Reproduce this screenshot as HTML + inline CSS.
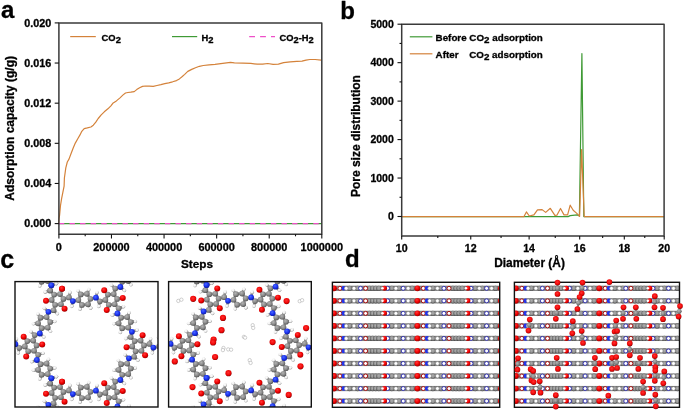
<!DOCTYPE html>
<html><head><meta charset="utf-8"><style>
html,body{margin:0;padding:0;background:#fff;}
svg{display:block;}
text{-webkit-font-smoothing:antialiased;}
</style></head><body>
<svg width="685" height="412" viewBox="0 0 685 412" style="will-change:transform">
<rect width="685" height="412" fill="#fff"/>
<g font-family="Liberation Sans, sans-serif" font-weight="bold" fill="#000" stroke="#000" stroke-width="0.3" stroke-linejoin="round">
<line x1="58.90" y1="223.60" x2="321.80" y2="223.60" stroke="#3f9a35" stroke-width="1.2" />
<line x1="58.90" y1="223.60" x2="321.80" y2="223.60" stroke="#ee4fc8" stroke-width="1.2" stroke-dasharray="5.4 5.2"/>
<polyline points="58.60,223.00 58.90,219.00 59.60,215.20 60.50,205.50 61.70,198.20 62.90,192.10 64.10,186.10 64.40,178.00 65.80,167.80 67.30,162.00 69.00,159.10 70.90,154.00 73.10,148.20 75.30,143.10 78.20,138.00 80.00,134.90 81.80,131.30 84.20,128.60 87.30,127.90 90.90,127.00 93.30,125.20 95.80,122.20 98.20,118.50 101.20,114.90 104.30,111.80 107.90,108.80 110.90,105.80 112.80,103.30 116.40,100.90 120.00,97.90 123.10,94.90 125.50,93.00 127.90,92.50 130.80,92.20 134.20,91.60 136.70,89.60 139.60,87.70 142.50,86.40 145.40,86.00 149.30,86.20 153.20,86.40 157.00,85.50 160.90,84.60 164.80,83.60 168.70,82.80 172.60,81.80 176.50,80.60 179.40,78.90 182.30,76.50 184.70,74.40 187.80,71.40 191.70,69.40 195.50,67.80 199.40,66.30 203.30,65.50 209.10,64.80 215.00,64.30 220.80,63.60 226.60,62.80 230.50,62.40 234.40,62.80 242.90,63.10 250.80,63.40 257.30,64.20 262.60,64.20 267.80,63.50 273.10,64.30 278.40,64.10 283.60,62.70 290.20,61.80 296.80,61.40 302.00,61.20 306.00,60.10 309.90,59.50 315.10,59.50 321.10,60.10" fill="none" stroke="#d4823a" stroke-width="1.2" stroke-linejoin="round" />
<rect x="58.9" y="22.9" width="262.90" height="211.40" fill="none" stroke="#3a3a3a" stroke-width="1.5"/>
<line x1="54.70" y1="223.60" x2="58.90" y2="223.60" stroke="#111" stroke-width="1.1" />
<text x="51.40" y="227.45" font-size="10.8" text-anchor="end" >0.000</text>
<line x1="54.70" y1="183.46" x2="58.90" y2="183.46" stroke="#111" stroke-width="1.1" />
<text x="51.40" y="187.31" font-size="10.8" text-anchor="end" >0.004</text>
<line x1="54.70" y1="143.32" x2="58.90" y2="143.32" stroke="#111" stroke-width="1.1" />
<text x="51.40" y="147.17" font-size="10.8" text-anchor="end" >0.008</text>
<line x1="54.70" y1="103.18" x2="58.90" y2="103.18" stroke="#111" stroke-width="1.1" />
<text x="51.40" y="107.03" font-size="10.8" text-anchor="end" >0.012</text>
<line x1="54.70" y1="63.04" x2="58.90" y2="63.04" stroke="#111" stroke-width="1.1" />
<text x="51.40" y="66.89" font-size="10.8" text-anchor="end" >0.016</text>
<line x1="54.70" y1="22.90" x2="58.90" y2="22.90" stroke="#111" stroke-width="1.1" />
<text x="51.40" y="26.75" font-size="10.8" text-anchor="end" >0.020</text>
<line x1="58.90" y1="234.30" x2="58.90" y2="238.50" stroke="#111" stroke-width="1.1" />
<text x="58.90" y="250.50" font-size="10.9" text-anchor="middle" >0</text>
<line x1="85.19" y1="234.30" x2="85.19" y2="236.30" stroke="#111" stroke-width="1.1" />
<line x1="111.48" y1="234.30" x2="111.48" y2="238.50" stroke="#111" stroke-width="1.1" />
<text x="111.48" y="250.50" font-size="10.9" text-anchor="middle" >200000</text>
<line x1="137.77" y1="234.30" x2="137.77" y2="236.30" stroke="#111" stroke-width="1.1" />
<line x1="164.06" y1="234.30" x2="164.06" y2="238.50" stroke="#111" stroke-width="1.1" />
<text x="164.06" y="250.50" font-size="10.9" text-anchor="middle" >400000</text>
<line x1="190.35" y1="234.30" x2="190.35" y2="236.30" stroke="#111" stroke-width="1.1" />
<line x1="216.64" y1="234.30" x2="216.64" y2="238.50" stroke="#111" stroke-width="1.1" />
<text x="216.64" y="250.50" font-size="10.9" text-anchor="middle" >600000</text>
<line x1="242.93" y1="234.30" x2="242.93" y2="236.30" stroke="#111" stroke-width="1.1" />
<line x1="269.22" y1="234.30" x2="269.22" y2="238.50" stroke="#111" stroke-width="1.1" />
<text x="269.22" y="250.50" font-size="10.9" text-anchor="middle" >800000</text>
<line x1="295.51" y1="234.30" x2="295.51" y2="236.30" stroke="#111" stroke-width="1.1" />
<line x1="321.80" y1="234.30" x2="321.80" y2="238.50" stroke="#111" stroke-width="1.1" />
<text x="321.80" y="250.50" font-size="10.9" text-anchor="middle" >1000000</text>
<text x="197.00" y="268.20" font-size="11.8" text-anchor="middle" >Steps</text>
<text transform="translate(14.3,128.3) rotate(-90)" font-size="12" text-anchor="middle">Adsorption capacity (g/g)</text>
<line x1="70.20" y1="36.60" x2="95.80" y2="36.60" stroke="#d4823a" stroke-width="1.2" />
<text x="101.6" y="40.7" font-size="9.4">CO<tspan dy="2.3">2</tspan></text>
<line x1="172.00" y1="36.60" x2="197.20" y2="36.60" stroke="#3f9a35" stroke-width="1.2" />
<text x="201.4" y="40.7" font-size="9.4">H<tspan dy="2.3">2</tspan></text>
<line x1="249.20" y1="36.60" x2="275.00" y2="36.60" stroke="#ee4fc8" stroke-width="1.2" stroke-dasharray="5.8 5.1"/>
<text x="279.6" y="40.7" font-size="9.3">CO<tspan dy="2.3">2</tspan><tspan dy="-2.3">-H</tspan><tspan dy="2.3">2</tspan></text>
<text x="1.00" y="17.60" font-size="24" text-anchor="start" >a</text>
<polyline points="401.70,216.60 568.10,216.60 570.20,215.60 577.30,214.90 579.40,216.00 581.90,53.60 583.80,216.60 664.10,216.60" fill="none" stroke="#3f9a35" stroke-width="1.2" stroke-linejoin="round" />
<polyline points="401.70,216.60 524.00,216.60 526.40,211.90 529.30,216.00 533.90,214.90 537.50,209.80 542.10,209.60 545.70,212.40 550.30,208.30 554.90,215.40 556.90,215.20 560.50,208.50 564.00,214.90 567.60,214.90 570.20,205.20 573.20,210.30 576.80,213.40 579.60,216.40 581.60,149.60 584.20,216.60 664.10,216.60" fill="none" stroke="#d4823a" stroke-width="1.2" stroke-linejoin="round" />
<rect x="401.7" y="24.3" width="262.40" height="211.70" fill="none" stroke="#3a3a3a" stroke-width="1.5"/>
<line x1="397.50" y1="216.50" x2="401.70" y2="216.50" stroke="#111" stroke-width="1.1" />
<text x="393.80" y="220.20" font-size="10.5" text-anchor="end" >0</text>
<line x1="399.50" y1="197.27" x2="401.70" y2="197.27" stroke="#111" stroke-width="1.1" />
<line x1="397.50" y1="178.04" x2="401.70" y2="178.04" stroke="#111" stroke-width="1.1" />
<text x="393.80" y="181.74" font-size="10.5" text-anchor="end" >1000</text>
<line x1="399.50" y1="158.81" x2="401.70" y2="158.81" stroke="#111" stroke-width="1.1" />
<line x1="397.50" y1="139.58" x2="401.70" y2="139.58" stroke="#111" stroke-width="1.1" />
<text x="393.80" y="143.28" font-size="10.5" text-anchor="end" >2000</text>
<line x1="399.50" y1="120.35" x2="401.70" y2="120.35" stroke="#111" stroke-width="1.1" />
<line x1="397.50" y1="101.12" x2="401.70" y2="101.12" stroke="#111" stroke-width="1.1" />
<text x="393.80" y="104.82" font-size="10.5" text-anchor="end" >3000</text>
<line x1="399.50" y1="81.89" x2="401.70" y2="81.89" stroke="#111" stroke-width="1.1" />
<line x1="397.50" y1="62.66" x2="401.70" y2="62.66" stroke="#111" stroke-width="1.1" />
<text x="393.80" y="66.36" font-size="10.5" text-anchor="end" >4000</text>
<line x1="399.50" y1="43.43" x2="401.70" y2="43.43" stroke="#111" stroke-width="1.1" />
<line x1="397.50" y1="24.20" x2="401.70" y2="24.20" stroke="#111" stroke-width="1.1" />
<text x="393.80" y="27.90" font-size="10.5" text-anchor="end" >5000</text>
<line x1="401.70" y1="236.00" x2="401.70" y2="239.60" stroke="#111" stroke-width="1.1" />
<text x="401.70" y="251.80" font-size="10.6" text-anchor="middle" >10</text>
<line x1="437.79" y1="236.00" x2="437.79" y2="238.00" stroke="#111" stroke-width="1.1" />
<line x1="470.75" y1="236.00" x2="470.75" y2="239.60" stroke="#111" stroke-width="1.1" />
<text x="470.75" y="251.80" font-size="10.6" text-anchor="middle" >12</text>
<line x1="501.06" y1="236.00" x2="501.06" y2="238.00" stroke="#111" stroke-width="1.1" />
<line x1="529.12" y1="236.00" x2="529.12" y2="239.60" stroke="#111" stroke-width="1.1" />
<text x="529.12" y="251.80" font-size="10.6" text-anchor="middle" >14</text>
<line x1="555.25" y1="236.00" x2="555.25" y2="238.00" stroke="#111" stroke-width="1.1" />
<line x1="579.69" y1="236.00" x2="579.69" y2="239.60" stroke="#111" stroke-width="1.1" />
<text x="579.69" y="251.80" font-size="10.6" text-anchor="middle" >16</text>
<line x1="602.65" y1="236.00" x2="602.65" y2="238.00" stroke="#111" stroke-width="1.1" />
<line x1="624.30" y1="236.00" x2="624.30" y2="239.60" stroke="#111" stroke-width="1.1" />
<text x="624.30" y="251.80" font-size="10.6" text-anchor="middle" >18</text>
<line x1="644.77" y1="236.00" x2="644.77" y2="238.00" stroke="#111" stroke-width="1.1" />
<line x1="664.20" y1="236.00" x2="664.20" y2="239.60" stroke="#111" stroke-width="1.1" />
<text x="664.20" y="251.80" font-size="10.6" text-anchor="middle" >20</text>
<text x="529.50" y="267.20" font-size="11.9" text-anchor="middle" >Diameter (&#197;)</text>
<text transform="translate(360.2,136.1) rotate(-90)" font-size="12" text-anchor="middle">Pore size distribution</text>
<line x1="409.80" y1="36.80" x2="432.40" y2="36.80" stroke="#3f9a35" stroke-width="1.2" />
<text x="435.6" y="41.1" font-size="9.8">Before CO<tspan dy="2.3">2</tspan><tspan dy="-2.3"> adsorption</tspan></text>
<line x1="409.80" y1="53.80" x2="432.40" y2="53.80" stroke="#d4823a" stroke-width="1.2" />
<text x="435.6" y="57.9" font-size="9.8">After<tspan x="469.2">CO</tspan><tspan dy="2.3">2</tspan><tspan dy="-2.3"> adsorption</tspan></text>
<text x="340.20" y="18.50" font-size="24" text-anchor="start" >b</text>
<text x="0.30" y="267.70" font-size="25" text-anchor="start" >c</text>
<text x="345.00" y="267.00" font-size="24" text-anchor="start" >d</text>
</g>
<defs>
<radialGradient id="gC" cx="40%" cy="35%" r="65%"><stop offset="0" stop-color="#b4b4b4"/><stop offset="0.6" stop-color="#8a8a8a"/><stop offset="1" stop-color="#5a5a5a"/></radialGradient>
<radialGradient id="gO" cx="40%" cy="35%" r="65%"><stop offset="0" stop-color="#ff3a3a"/><stop offset="0.6" stop-color="#f00000"/><stop offset="1" stop-color="#a00000"/></radialGradient>
<radialGradient id="gO2" cx="45%" cy="40%" r="60%"><stop offset="0" stop-color="#ff3030"/><stop offset="0.7" stop-color="#ee0505"/><stop offset="1" stop-color="#8a0000"/></radialGradient>
<radialGradient id="gD" cx="50%" cy="45%" r="55%"><stop offset="0" stop-color="#b2b2b2"/><stop offset="0.6" stop-color="#909090"/><stop offset="1" stop-color="#4a4a4a"/></radialGradient>
<radialGradient id="gN" cx="40%" cy="35%" r="65%"><stop offset="0" stop-color="#4a6aff"/><stop offset="0.6" stop-color="#1a30f0"/><stop offset="1" stop-color="#1020a0"/></radialGradient>
<radialGradient id="gH" cx="40%" cy="35%" r="65%"><stop offset="0" stop-color="#ffffff"/><stop offset="0.55" stop-color="#eeeeee"/><stop offset="1" stop-color="#9a9a9a"/></radialGradient>
<clipPath id="cc1"><rect x="15" y="281.6" width="143" height="125.4"/></clipPath>
<clipPath id="cc2"><rect x="168.6" y="281.6" width="142.7" height="125.4"/></clipPath>
<clipPath id="cd1"><rect x="332.4" y="282.3" width="167.3" height="125"/></clipPath>
<clipPath id="cd2"><rect x="514.4" y="282.3" width="165.1" height="125"/></clipPath>
</defs>
<g clip-path="url(#cc1)">
<line x1="54.17" y1="294.56" x2="60.04" y2="294.05" stroke="#8c8c8c" stroke-width="2.6"/>
<line x1="60.04" y1="294.05" x2="63.43" y2="298.88" stroke="#8c8c8c" stroke-width="2.6"/>
<line x1="63.43" y1="298.88" x2="60.93" y2="304.23" stroke="#8c8c8c" stroke-width="2.6"/>
<line x1="60.93" y1="304.23" x2="55.06" y2="304.74" stroke="#8c8c8c" stroke-width="2.6"/>
<line x1="55.06" y1="304.74" x2="51.67" y2="299.91" stroke="#8c8c8c" stroke-width="2.6"/>
<line x1="51.67" y1="299.91" x2="54.17" y2="294.56" stroke="#8c8c8c" stroke-width="2.6"/>
<line x1="60.04" y1="294.05" x2="62.05" y2="288.69" stroke="#8c8c8c" stroke-width="2.6"/>
<line x1="54.17" y1="294.56" x2="50.15" y2="290.49" stroke="#8c8c8c" stroke-width="2.6"/>
<line x1="50.15" y1="290.49" x2="51.35" y2="285.29" stroke="#8c8c8c" stroke-width="2.6"/>
<line x1="50.15" y1="290.49" x2="45.25" y2="292.09" stroke="#8c8c8c" stroke-width="2.6"/>
<line x1="51.35" y1="285.29" x2="56.45" y2="283.59" stroke="#8c8c8c" stroke-width="2.6"/>
<line x1="60.93" y1="304.23" x2="64.57" y2="308.64" stroke="#8c8c8c" stroke-width="2.6"/>
<line x1="63.43" y1="298.88" x2="68.96" y2="297.44" stroke="#8c8c8c" stroke-width="2.6"/>
<line x1="68.96" y1="297.44" x2="72.86" y2="301.08" stroke="#8c8c8c" stroke-width="2.6"/>
<line x1="68.96" y1="297.44" x2="70.02" y2="292.39" stroke="#8c8c8c" stroke-width="2.6"/>
<line x1="72.86" y1="301.08" x2="71.78" y2="306.34" stroke="#8c8c8c" stroke-width="2.6"/>
<line x1="51.67" y1="299.91" x2="46.03" y2="300.85" stroke="#8c8c8c" stroke-width="2.6"/>
<line x1="55.06" y1="304.74" x2="53.54" y2="310.25" stroke="#8c8c8c" stroke-width="2.6"/>
<line x1="53.54" y1="310.25" x2="48.44" y2="311.81" stroke="#8c8c8c" stroke-width="2.6"/>
<line x1="53.54" y1="310.25" x2="57.38" y2="313.70" stroke="#8c8c8c" stroke-width="2.6"/>
<line x1="48.44" y1="311.81" x2="44.42" y2="308.25" stroke="#8c8c8c" stroke-width="2.6"/>
<line x1="50.20" y1="275.50" x2="47.72" y2="281.07" stroke="#8c8c8c" stroke-width="2.6"/>
<line x1="47.71" y1="281.08" x2="41.64" y2="281.72" stroke="#8c8c8c" stroke-width="2.6"/>
<line x1="41.65" y1="281.71" x2="38.06" y2="276.78" stroke="#8c8c8c" stroke-width="2.6"/>
<line x1="41.65" y1="281.71" x2="39.78" y2="285.91" stroke="#8c8c8c" stroke-width="2.6"/>
<line x1="47.72" y1="281.07" x2="51.36" y2="285.29" stroke="#8c8c8c" stroke-width="2.6"/>
<line x1="33.19" y1="340.55" x2="36.58" y2="345.39" stroke="#8c8c8c" stroke-width="2.6"/>
<line x1="36.58" y1="345.39" x2="34.08" y2="350.73" stroke="#8c8c8c" stroke-width="2.6"/>
<line x1="34.08" y1="350.73" x2="28.21" y2="351.25" stroke="#8c8c8c" stroke-width="2.6"/>
<line x1="28.21" y1="351.25" x2="24.82" y2="346.41" stroke="#8c8c8c" stroke-width="2.6"/>
<line x1="24.82" y1="346.41" x2="27.32" y2="341.07" stroke="#8c8c8c" stroke-width="2.6"/>
<line x1="27.32" y1="341.07" x2="33.19" y2="340.55" stroke="#8c8c8c" stroke-width="2.6"/>
<line x1="36.58" y1="345.39" x2="42.22" y2="344.45" stroke="#8c8c8c" stroke-width="2.6"/>
<line x1="33.19" y1="340.55" x2="34.71" y2="335.04" stroke="#8c8c8c" stroke-width="2.6"/>
<line x1="34.71" y1="335.04" x2="39.81" y2="333.48" stroke="#8c8c8c" stroke-width="2.6"/>
<line x1="34.71" y1="335.04" x2="30.87" y2="331.60" stroke="#8c8c8c" stroke-width="2.6"/>
<line x1="39.81" y1="333.48" x2="43.83" y2="337.05" stroke="#8c8c8c" stroke-width="2.6"/>
<line x1="28.21" y1="351.25" x2="26.20" y2="356.60" stroke="#8c8c8c" stroke-width="2.6"/>
<line x1="34.08" y1="350.73" x2="38.10" y2="354.80" stroke="#8c8c8c" stroke-width="2.6"/>
<line x1="38.10" y1="354.80" x2="36.90" y2="360.00" stroke="#8c8c8c" stroke-width="2.6"/>
<line x1="38.10" y1="354.80" x2="43.00" y2="353.20" stroke="#8c8c8c" stroke-width="2.6"/>
<line x1="36.90" y1="360.00" x2="31.80" y2="361.70" stroke="#8c8c8c" stroke-width="2.6"/>
<line x1="27.32" y1="341.07" x2="23.68" y2="336.65" stroke="#8c8c8c" stroke-width="2.6"/>
<line x1="24.82" y1="346.41" x2="19.29" y2="347.86" stroke="#8c8c8c" stroke-width="2.6"/>
<line x1="19.29" y1="347.86" x2="15.39" y2="344.22" stroke="#8c8c8c" stroke-width="2.6"/>
<line x1="19.29" y1="347.86" x2="18.23" y2="352.90" stroke="#8c8c8c" stroke-width="2.6"/>
<line x1="15.39" y1="344.22" x2="16.47" y2="338.95" stroke="#8c8c8c" stroke-width="2.6"/>
<line x1="46.61" y1="317.08" x2="50.20" y2="322.01" stroke="#8c8c8c" stroke-width="2.6"/>
<line x1="50.20" y1="322.01" x2="47.72" y2="327.59" stroke="#8c8c8c" stroke-width="2.6"/>
<line x1="47.71" y1="327.58" x2="41.64" y2="328.22" stroke="#8c8c8c" stroke-width="2.6"/>
<line x1="41.65" y1="328.22" x2="38.06" y2="323.29" stroke="#8c8c8c" stroke-width="2.6"/>
<line x1="38.06" y1="323.29" x2="40.54" y2="317.71" stroke="#8c8c8c" stroke-width="2.6"/>
<line x1="40.53" y1="317.71" x2="46.60" y2="317.07" stroke="#8c8c8c" stroke-width="2.6"/>
<line x1="50.19" y1="322.01" x2="54.76" y2="321.53" stroke="#8c8c8c" stroke-width="2.6"/>
<line x1="47.72" y1="327.59" x2="50.42" y2="331.31" stroke="#8c8c8c" stroke-width="2.6"/>
<line x1="38.05" y1="323.28" x2="33.48" y2="323.76" stroke="#8c8c8c" stroke-width="2.6"/>
<line x1="40.54" y1="317.71" x2="37.84" y2="313.99" stroke="#8c8c8c" stroke-width="2.6"/>
<line x1="46.61" y1="317.08" x2="48.44" y2="311.81" stroke="#8c8c8c" stroke-width="2.6"/>
<line x1="41.65" y1="328.22" x2="39.82" y2="333.49" stroke="#8c8c8c" stroke-width="2.6"/>
<line x1="9.92" y1="345.27" x2="15.39" y2="344.22" stroke="#8c8c8c" stroke-width="2.6"/>
<line x1="54.17" y1="387.57" x2="60.04" y2="387.06" stroke="#8c8c8c" stroke-width="2.6"/>
<line x1="60.04" y1="387.06" x2="63.43" y2="391.89" stroke="#8c8c8c" stroke-width="2.6"/>
<line x1="63.43" y1="391.89" x2="60.93" y2="397.24" stroke="#8c8c8c" stroke-width="2.6"/>
<line x1="60.93" y1="397.24" x2="55.06" y2="397.75" stroke="#8c8c8c" stroke-width="2.6"/>
<line x1="55.06" y1="397.75" x2="51.67" y2="392.92" stroke="#8c8c8c" stroke-width="2.6"/>
<line x1="51.67" y1="392.92" x2="54.17" y2="387.57" stroke="#8c8c8c" stroke-width="2.6"/>
<line x1="60.04" y1="387.06" x2="62.05" y2="381.71" stroke="#8c8c8c" stroke-width="2.6"/>
<line x1="54.17" y1="387.57" x2="50.15" y2="383.51" stroke="#8c8c8c" stroke-width="2.6"/>
<line x1="50.15" y1="383.51" x2="51.35" y2="378.31" stroke="#8c8c8c" stroke-width="2.6"/>
<line x1="50.15" y1="383.51" x2="45.25" y2="385.11" stroke="#8c8c8c" stroke-width="2.6"/>
<line x1="51.35" y1="378.31" x2="56.45" y2="376.61" stroke="#8c8c8c" stroke-width="2.6"/>
<line x1="60.93" y1="397.24" x2="64.57" y2="401.65" stroke="#8c8c8c" stroke-width="2.6"/>
<line x1="63.43" y1="391.89" x2="68.96" y2="390.45" stroke="#8c8c8c" stroke-width="2.6"/>
<line x1="68.96" y1="390.45" x2="72.86" y2="394.09" stroke="#8c8c8c" stroke-width="2.6"/>
<line x1="68.96" y1="390.45" x2="70.02" y2="385.40" stroke="#8c8c8c" stroke-width="2.6"/>
<line x1="72.86" y1="394.09" x2="71.78" y2="399.35" stroke="#8c8c8c" stroke-width="2.6"/>
<line x1="51.67" y1="392.92" x2="46.03" y2="393.86" stroke="#8c8c8c" stroke-width="2.6"/>
<line x1="55.06" y1="397.75" x2="53.54" y2="403.26" stroke="#8c8c8c" stroke-width="2.6"/>
<line x1="53.54" y1="403.26" x2="48.44" y2="404.82" stroke="#8c8c8c" stroke-width="2.6"/>
<line x1="53.54" y1="403.26" x2="57.38" y2="406.71" stroke="#8c8c8c" stroke-width="2.6"/>
<line x1="48.44" y1="404.82" x2="44.42" y2="401.26" stroke="#8c8c8c" stroke-width="2.6"/>
<line x1="40.53" y1="364.22" x2="46.60" y2="363.58" stroke="#8c8c8c" stroke-width="2.6"/>
<line x1="46.61" y1="363.58" x2="50.20" y2="368.51" stroke="#8c8c8c" stroke-width="2.6"/>
<line x1="50.20" y1="368.51" x2="47.72" y2="374.09" stroke="#8c8c8c" stroke-width="2.6"/>
<line x1="47.71" y1="374.09" x2="41.64" y2="374.73" stroke="#8c8c8c" stroke-width="2.6"/>
<line x1="41.65" y1="374.72" x2="38.06" y2="369.79" stroke="#8c8c8c" stroke-width="2.6"/>
<line x1="38.06" y1="369.79" x2="40.54" y2="364.21" stroke="#8c8c8c" stroke-width="2.6"/>
<line x1="46.61" y1="363.58" x2="48.48" y2="359.38" stroke="#8c8c8c" stroke-width="2.6"/>
<line x1="50.19" y1="368.52" x2="54.76" y2="368.04" stroke="#8c8c8c" stroke-width="2.6"/>
<line x1="41.64" y1="374.73" x2="39.77" y2="378.93" stroke="#8c8c8c" stroke-width="2.6"/>
<line x1="38.05" y1="369.79" x2="33.48" y2="370.27" stroke="#8c8c8c" stroke-width="2.6"/>
<line x1="40.54" y1="364.21" x2="36.90" y2="360.00" stroke="#8c8c8c" stroke-width="2.6"/>
<line x1="47.72" y1="374.09" x2="51.36" y2="378.30" stroke="#8c8c8c" stroke-width="2.6"/>
<line x1="46.61" y1="410.09" x2="50.20" y2="415.02" stroke="#8c8c8c" stroke-width="2.6"/>
<line x1="38.06" y1="416.30" x2="40.54" y2="410.73" stroke="#8c8c8c" stroke-width="2.6"/>
<line x1="40.53" y1="410.72" x2="46.60" y2="410.08" stroke="#8c8c8c" stroke-width="2.6"/>
<line x1="40.54" y1="410.73" x2="37.84" y2="407.00" stroke="#8c8c8c" stroke-width="2.6"/>
<line x1="46.61" y1="410.09" x2="48.44" y2="404.82" stroke="#8c8c8c" stroke-width="2.6"/>
<line x1="113.74" y1="294.05" x2="117.13" y2="298.88" stroke="#8c8c8c" stroke-width="2.6"/>
<line x1="117.13" y1="298.88" x2="114.63" y2="304.23" stroke="#8c8c8c" stroke-width="2.6"/>
<line x1="114.63" y1="304.23" x2="108.76" y2="304.74" stroke="#8c8c8c" stroke-width="2.6"/>
<line x1="108.76" y1="304.74" x2="105.37" y2="299.91" stroke="#8c8c8c" stroke-width="2.6"/>
<line x1="105.37" y1="299.91" x2="107.87" y2="294.56" stroke="#8c8c8c" stroke-width="2.6"/>
<line x1="107.87" y1="294.56" x2="113.74" y2="294.05" stroke="#8c8c8c" stroke-width="2.6"/>
<line x1="117.13" y1="298.88" x2="122.77" y2="297.94" stroke="#8c8c8c" stroke-width="2.6"/>
<line x1="113.74" y1="294.05" x2="115.26" y2="288.54" stroke="#8c8c8c" stroke-width="2.6"/>
<line x1="115.26" y1="288.54" x2="120.36" y2="286.98" stroke="#8c8c8c" stroke-width="2.6"/>
<line x1="115.26" y1="288.54" x2="111.42" y2="285.09" stroke="#8c8c8c" stroke-width="2.6"/>
<line x1="120.36" y1="286.98" x2="124.38" y2="290.54" stroke="#8c8c8c" stroke-width="2.6"/>
<line x1="108.76" y1="304.74" x2="106.75" y2="310.09" stroke="#8c8c8c" stroke-width="2.6"/>
<line x1="114.63" y1="304.23" x2="118.65" y2="308.29" stroke="#8c8c8c" stroke-width="2.6"/>
<line x1="118.65" y1="308.29" x2="117.45" y2="313.49" stroke="#8c8c8c" stroke-width="2.6"/>
<line x1="118.65" y1="308.29" x2="123.55" y2="306.69" stroke="#8c8c8c" stroke-width="2.6"/>
<line x1="117.45" y1="313.49" x2="112.35" y2="315.19" stroke="#8c8c8c" stroke-width="2.6"/>
<line x1="107.87" y1="294.56" x2="104.23" y2="290.15" stroke="#8c8c8c" stroke-width="2.6"/>
<line x1="105.37" y1="299.91" x2="99.84" y2="301.35" stroke="#8c8c8c" stroke-width="2.6"/>
<line x1="99.84" y1="301.35" x2="95.94" y2="297.71" stroke="#8c8c8c" stroke-width="2.6"/>
<line x1="99.84" y1="301.35" x2="98.78" y2="306.40" stroke="#8c8c8c" stroke-width="2.6"/>
<line x1="95.94" y1="297.71" x2="97.02" y2="292.45" stroke="#8c8c8c" stroke-width="2.6"/>
<line x1="130.75" y1="275.51" x2="128.27" y2="281.08" stroke="#8c8c8c" stroke-width="2.6"/>
<line x1="128.26" y1="281.07" x2="122.19" y2="281.71" stroke="#8c8c8c" stroke-width="2.6"/>
<line x1="122.20" y1="281.72" x2="118.61" y2="276.78" stroke="#8c8c8c" stroke-width="2.6"/>
<line x1="128.27" y1="281.08" x2="130.97" y2="284.80" stroke="#8c8c8c" stroke-width="2.6"/>
<line x1="122.20" y1="281.72" x2="120.37" y2="286.98" stroke="#8c8c8c" stroke-width="2.6"/>
<line x1="90.47" y1="298.76" x2="87.99" y2="304.34" stroke="#8c8c8c" stroke-width="2.6"/>
<line x1="87.99" y1="304.34" x2="81.92" y2="304.97" stroke="#8c8c8c" stroke-width="2.6"/>
<line x1="81.92" y1="304.97" x2="78.33" y2="300.04" stroke="#8c8c8c" stroke-width="2.6"/>
<line x1="78.33" y1="300.04" x2="80.81" y2="294.46" stroke="#8c8c8c" stroke-width="2.6"/>
<line x1="80.81" y1="294.46" x2="86.88" y2="293.83" stroke="#8c8c8c" stroke-width="2.6"/>
<line x1="86.88" y1="293.83" x2="90.47" y2="298.76" stroke="#8c8c8c" stroke-width="2.6"/>
<line x1="87.99" y1="304.34" x2="90.69" y2="308.06" stroke="#8c8c8c" stroke-width="2.6"/>
<line x1="81.92" y1="304.97" x2="80.05" y2="309.17" stroke="#8c8c8c" stroke-width="2.6"/>
<line x1="80.81" y1="294.46" x2="78.11" y2="290.74" stroke="#8c8c8c" stroke-width="2.6"/>
<line x1="86.88" y1="293.82" x2="88.75" y2="289.61" stroke="#8c8c8c" stroke-width="2.6"/>
<line x1="90.47" y1="298.76" x2="95.94" y2="297.71" stroke="#8c8c8c" stroke-width="2.6"/>
<line x1="78.33" y1="300.04" x2="72.86" y2="301.09" stroke="#8c8c8c" stroke-width="2.6"/>
<line x1="47.72" y1="281.07" x2="41.65" y2="281.71" stroke="#8c8c8c" stroke-width="2.6"/>
<line x1="134.72" y1="341.07" x2="140.59" y2="340.55" stroke="#8c8c8c" stroke-width="2.6"/>
<line x1="140.59" y1="340.55" x2="143.98" y2="345.39" stroke="#8c8c8c" stroke-width="2.6"/>
<line x1="143.98" y1="345.39" x2="141.48" y2="350.73" stroke="#8c8c8c" stroke-width="2.6"/>
<line x1="141.48" y1="350.73" x2="135.61" y2="351.25" stroke="#8c8c8c" stroke-width="2.6"/>
<line x1="135.61" y1="351.25" x2="132.22" y2="346.41" stroke="#8c8c8c" stroke-width="2.6"/>
<line x1="132.22" y1="346.41" x2="134.72" y2="341.07" stroke="#8c8c8c" stroke-width="2.6"/>
<line x1="140.59" y1="340.55" x2="142.60" y2="335.20" stroke="#8c8c8c" stroke-width="2.6"/>
<line x1="134.72" y1="341.07" x2="130.70" y2="337.00" stroke="#8c8c8c" stroke-width="2.6"/>
<line x1="130.70" y1="337.00" x2="131.90" y2="331.80" stroke="#8c8c8c" stroke-width="2.6"/>
<line x1="130.70" y1="337.00" x2="125.80" y2="338.60" stroke="#8c8c8c" stroke-width="2.6"/>
<line x1="131.90" y1="331.80" x2="137.00" y2="330.10" stroke="#8c8c8c" stroke-width="2.6"/>
<line x1="141.48" y1="350.73" x2="145.12" y2="355.15" stroke="#8c8c8c" stroke-width="2.6"/>
<line x1="143.98" y1="345.39" x2="149.51" y2="343.94" stroke="#8c8c8c" stroke-width="2.6"/>
<line x1="149.51" y1="343.94" x2="153.41" y2="347.58" stroke="#8c8c8c" stroke-width="2.6"/>
<line x1="149.51" y1="343.94" x2="150.57" y2="338.90" stroke="#8c8c8c" stroke-width="2.6"/>
<line x1="153.41" y1="347.58" x2="152.33" y2="352.85" stroke="#8c8c8c" stroke-width="2.6"/>
<line x1="132.22" y1="346.41" x2="126.58" y2="347.35" stroke="#8c8c8c" stroke-width="2.6"/>
<line x1="135.61" y1="351.25" x2="134.09" y2="356.76" stroke="#8c8c8c" stroke-width="2.6"/>
<line x1="134.09" y1="356.76" x2="128.99" y2="358.32" stroke="#8c8c8c" stroke-width="2.6"/>
<line x1="134.09" y1="356.76" x2="137.93" y2="360.20" stroke="#8c8c8c" stroke-width="2.6"/>
<line x1="128.99" y1="358.32" x2="124.97" y2="354.75" stroke="#8c8c8c" stroke-width="2.6"/>
<line x1="121.08" y1="317.71" x2="127.15" y2="317.08" stroke="#8c8c8c" stroke-width="2.6"/>
<line x1="127.16" y1="317.07" x2="130.75" y2="322.01" stroke="#8c8c8c" stroke-width="2.6"/>
<line x1="130.75" y1="322.01" x2="128.27" y2="327.58" stroke="#8c8c8c" stroke-width="2.6"/>
<line x1="128.26" y1="327.59" x2="122.19" y2="328.22" stroke="#8c8c8c" stroke-width="2.6"/>
<line x1="122.20" y1="328.22" x2="118.61" y2="323.28" stroke="#8c8c8c" stroke-width="2.6"/>
<line x1="118.61" y1="323.28" x2="121.09" y2="317.71" stroke="#8c8c8c" stroke-width="2.6"/>
<line x1="127.15" y1="317.08" x2="129.02" y2="312.88" stroke="#8c8c8c" stroke-width="2.6"/>
<line x1="130.74" y1="322.01" x2="135.31" y2="321.53" stroke="#8c8c8c" stroke-width="2.6"/>
<line x1="122.20" y1="328.22" x2="120.33" y2="332.42" stroke="#8c8c8c" stroke-width="2.6"/>
<line x1="118.60" y1="323.29" x2="114.03" y2="323.77" stroke="#8c8c8c" stroke-width="2.6"/>
<line x1="121.09" y1="317.71" x2="117.45" y2="313.49" stroke="#8c8c8c" stroke-width="2.6"/>
<line x1="128.27" y1="327.58" x2="131.91" y2="331.79" stroke="#8c8c8c" stroke-width="2.6"/>
<line x1="113.74" y1="387.06" x2="117.13" y2="391.89" stroke="#8c8c8c" stroke-width="2.6"/>
<line x1="117.13" y1="391.89" x2="114.63" y2="397.24" stroke="#8c8c8c" stroke-width="2.6"/>
<line x1="114.63" y1="397.24" x2="108.76" y2="397.75" stroke="#8c8c8c" stroke-width="2.6"/>
<line x1="108.76" y1="397.75" x2="105.37" y2="392.92" stroke="#8c8c8c" stroke-width="2.6"/>
<line x1="105.37" y1="392.92" x2="107.87" y2="387.57" stroke="#8c8c8c" stroke-width="2.6"/>
<line x1="107.87" y1="387.57" x2="113.74" y2="387.06" stroke="#8c8c8c" stroke-width="2.6"/>
<line x1="117.13" y1="391.89" x2="122.77" y2="390.95" stroke="#8c8c8c" stroke-width="2.6"/>
<line x1="113.74" y1="387.06" x2="115.26" y2="381.55" stroke="#8c8c8c" stroke-width="2.6"/>
<line x1="115.26" y1="381.55" x2="120.36" y2="379.99" stroke="#8c8c8c" stroke-width="2.6"/>
<line x1="115.26" y1="381.55" x2="111.42" y2="378.10" stroke="#8c8c8c" stroke-width="2.6"/>
<line x1="120.36" y1="379.99" x2="124.38" y2="383.55" stroke="#8c8c8c" stroke-width="2.6"/>
<line x1="108.76" y1="397.75" x2="106.75" y2="403.11" stroke="#8c8c8c" stroke-width="2.6"/>
<line x1="114.63" y1="397.24" x2="118.65" y2="401.31" stroke="#8c8c8c" stroke-width="2.6"/>
<line x1="118.65" y1="401.31" x2="117.45" y2="406.51" stroke="#8c8c8c" stroke-width="2.6"/>
<line x1="118.65" y1="401.31" x2="123.55" y2="399.71" stroke="#8c8c8c" stroke-width="2.6"/>
<line x1="117.45" y1="406.51" x2="112.35" y2="408.21" stroke="#8c8c8c" stroke-width="2.6"/>
<line x1="107.87" y1="387.57" x2="104.23" y2="383.16" stroke="#8c8c8c" stroke-width="2.6"/>
<line x1="105.37" y1="392.92" x2="99.84" y2="394.36" stroke="#8c8c8c" stroke-width="2.6"/>
<line x1="99.84" y1="394.36" x2="95.94" y2="390.72" stroke="#8c8c8c" stroke-width="2.6"/>
<line x1="99.84" y1="394.36" x2="98.78" y2="399.41" stroke="#8c8c8c" stroke-width="2.6"/>
<line x1="95.94" y1="390.72" x2="97.02" y2="385.46" stroke="#8c8c8c" stroke-width="2.6"/>
<line x1="127.16" y1="363.58" x2="130.75" y2="368.52" stroke="#8c8c8c" stroke-width="2.6"/>
<line x1="130.75" y1="368.52" x2="128.27" y2="374.09" stroke="#8c8c8c" stroke-width="2.6"/>
<line x1="128.26" y1="374.09" x2="122.19" y2="374.72" stroke="#8c8c8c" stroke-width="2.6"/>
<line x1="122.20" y1="374.73" x2="118.61" y2="369.79" stroke="#8c8c8c" stroke-width="2.6"/>
<line x1="118.61" y1="369.79" x2="121.09" y2="364.22" stroke="#8c8c8c" stroke-width="2.6"/>
<line x1="121.08" y1="364.21" x2="127.15" y2="363.58" stroke="#8c8c8c" stroke-width="2.6"/>
<line x1="130.74" y1="368.51" x2="135.31" y2="368.03" stroke="#8c8c8c" stroke-width="2.6"/>
<line x1="128.27" y1="374.09" x2="130.97" y2="377.81" stroke="#8c8c8c" stroke-width="2.6"/>
<line x1="118.60" y1="369.79" x2="114.03" y2="370.27" stroke="#8c8c8c" stroke-width="2.6"/>
<line x1="121.09" y1="364.22" x2="118.39" y2="360.50" stroke="#8c8c8c" stroke-width="2.6"/>
<line x1="127.16" y1="363.58" x2="128.99" y2="358.32" stroke="#8c8c8c" stroke-width="2.6"/>
<line x1="122.20" y1="374.73" x2="120.37" y2="379.99" stroke="#8c8c8c" stroke-width="2.6"/>
<line x1="90.47" y1="391.77" x2="87.99" y2="397.35" stroke="#8c8c8c" stroke-width="2.6"/>
<line x1="87.99" y1="397.35" x2="81.92" y2="397.98" stroke="#8c8c8c" stroke-width="2.6"/>
<line x1="81.92" y1="397.98" x2="78.33" y2="393.05" stroke="#8c8c8c" stroke-width="2.6"/>
<line x1="78.33" y1="393.05" x2="80.81" y2="387.48" stroke="#8c8c8c" stroke-width="2.6"/>
<line x1="80.81" y1="387.48" x2="86.88" y2="386.84" stroke="#8c8c8c" stroke-width="2.6"/>
<line x1="86.88" y1="386.84" x2="90.47" y2="391.77" stroke="#8c8c8c" stroke-width="2.6"/>
<line x1="87.99" y1="397.35" x2="90.69" y2="401.07" stroke="#8c8c8c" stroke-width="2.6"/>
<line x1="81.92" y1="397.97" x2="80.05" y2="402.17" stroke="#8c8c8c" stroke-width="2.6"/>
<line x1="80.81" y1="387.48" x2="78.11" y2="383.75" stroke="#8c8c8c" stroke-width="2.6"/>
<line x1="86.88" y1="386.84" x2="88.75" y2="382.64" stroke="#8c8c8c" stroke-width="2.6"/>
<line x1="90.47" y1="391.77" x2="95.94" y2="390.72" stroke="#8c8c8c" stroke-width="2.6"/>
<line x1="78.33" y1="393.05" x2="72.86" y2="394.10" stroke="#8c8c8c" stroke-width="2.6"/>
<line x1="47.72" y1="374.09" x2="41.65" y2="374.72" stroke="#8c8c8c" stroke-width="2.6"/>
<line x1="40.54" y1="364.21" x2="46.61" y2="363.58" stroke="#8c8c8c" stroke-width="2.6"/>
<line x1="41.65" y1="374.72" x2="39.78" y2="378.92" stroke="#8c8c8c" stroke-width="2.6"/>
<line x1="38.06" y1="369.79" x2="33.49" y2="370.27" stroke="#8c8c8c" stroke-width="2.6"/>
<line x1="50.20" y1="368.51" x2="54.77" y2="368.03" stroke="#8c8c8c" stroke-width="2.6"/>
<line x1="40.54" y1="317.71" x2="46.61" y2="317.08" stroke="#8c8c8c" stroke-width="2.6"/>
<line x1="47.72" y1="327.59" x2="41.65" y2="328.22" stroke="#8c8c8c" stroke-width="2.6"/>
<line x1="38.06" y1="323.29" x2="33.49" y2="323.77" stroke="#8c8c8c" stroke-width="2.6"/>
<line x1="50.20" y1="322.01" x2="54.77" y2="321.53" stroke="#8c8c8c" stroke-width="2.6"/>
<line x1="86.88" y1="293.83" x2="88.75" y2="289.63" stroke="#8c8c8c" stroke-width="2.6"/>
<line x1="121.08" y1="410.73" x2="127.15" y2="410.09" stroke="#8c8c8c" stroke-width="2.6"/>
<line x1="127.16" y1="410.08" x2="130.75" y2="415.02" stroke="#8c8c8c" stroke-width="2.6"/>
<line x1="118.61" y1="416.29" x2="121.09" y2="410.72" stroke="#8c8c8c" stroke-width="2.6"/>
<line x1="127.16" y1="410.08" x2="129.03" y2="405.88" stroke="#8c8c8c" stroke-width="2.6"/>
<line x1="121.09" y1="410.72" x2="117.45" y2="406.51" stroke="#8c8c8c" stroke-width="2.6"/>
<line x1="40.54" y1="410.73" x2="46.61" y2="410.09" stroke="#8c8c8c" stroke-width="2.6"/>
<line x1="81.92" y1="397.98" x2="80.05" y2="402.19" stroke="#8c8c8c" stroke-width="2.6"/>
<line x1="162.47" y1="351.48" x2="158.88" y2="346.54" stroke="#8c8c8c" stroke-width="2.6"/>
<line x1="158.88" y1="346.54" x2="161.36" y2="340.97" stroke="#8c8c8c" stroke-width="2.6"/>
<line x1="161.36" y1="340.97" x2="167.43" y2="340.33" stroke="#8c8c8c" stroke-width="2.6"/>
<line x1="162.47" y1="351.47" x2="160.60" y2="355.67" stroke="#8c8c8c" stroke-width="2.6"/>
<line x1="161.36" y1="340.97" x2="158.66" y2="337.25" stroke="#8c8c8c" stroke-width="2.6"/>
<line x1="158.88" y1="346.54" x2="153.41" y2="347.59" stroke="#8c8c8c" stroke-width="2.6"/>
<line x1="128.27" y1="327.58" x2="122.20" y2="328.22" stroke="#8c8c8c" stroke-width="2.6"/>
<line x1="121.09" y1="317.71" x2="127.16" y2="317.07" stroke="#8c8c8c" stroke-width="2.6"/>
<line x1="118.61" y1="323.28" x2="114.04" y2="323.76" stroke="#8c8c8c" stroke-width="2.6"/>
<line x1="127.16" y1="317.07" x2="129.03" y2="312.87" stroke="#8c8c8c" stroke-width="2.6"/>
<line x1="130.75" y1="322.01" x2="135.32" y2="321.53" stroke="#8c8c8c" stroke-width="2.6"/>
<line x1="128.27" y1="281.08" x2="122.20" y2="281.72" stroke="#8c8c8c" stroke-width="2.6"/>
<line x1="121.09" y1="410.72" x2="127.16" y2="410.08" stroke="#8c8c8c" stroke-width="2.6"/>
<line x1="121.09" y1="364.22" x2="127.16" y2="363.58" stroke="#8c8c8c" stroke-width="2.6"/>
<line x1="128.27" y1="374.09" x2="122.20" y2="374.73" stroke="#8c8c8c" stroke-width="2.6"/>
<line x1="118.61" y1="369.79" x2="114.04" y2="370.27" stroke="#8c8c8c" stroke-width="2.6"/>
<line x1="130.75" y1="368.52" x2="135.32" y2="368.04" stroke="#8c8c8c" stroke-width="2.6"/>
<line x1="162.47" y1="351.48" x2="160.60" y2="355.68" stroke="#8c8c8c" stroke-width="2.6"/>
<circle cx="45.25" cy="292.09" r="1.8" fill="url(#gH)"/>
<circle cx="56.45" cy="283.59" r="1.8" fill="url(#gH)"/>
<circle cx="70.02" cy="292.39" r="1.8" fill="url(#gH)"/>
<circle cx="71.78" cy="306.34" r="1.8" fill="url(#gH)"/>
<circle cx="57.38" cy="313.70" r="1.8" fill="url(#gH)"/>
<circle cx="44.42" cy="308.25" r="1.8" fill="url(#gH)"/>
<circle cx="39.78" cy="285.91" r="1.8" fill="url(#gH)"/>
<circle cx="30.87" cy="331.60" r="1.8" fill="url(#gH)"/>
<circle cx="43.83" cy="337.05" r="1.8" fill="url(#gH)"/>
<circle cx="43.00" cy="353.20" r="1.8" fill="url(#gH)"/>
<circle cx="31.80" cy="361.70" r="1.8" fill="url(#gH)"/>
<circle cx="18.23" cy="352.90" r="1.8" fill="url(#gH)"/>
<circle cx="16.47" cy="338.95" r="1.8" fill="url(#gH)"/>
<circle cx="54.77" cy="321.53" r="1.8" fill="url(#gH)"/>
<circle cx="50.42" cy="331.31" r="1.8" fill="url(#gH)"/>
<circle cx="33.49" cy="323.77" r="1.8" fill="url(#gH)"/>
<circle cx="37.84" cy="313.99" r="1.8" fill="url(#gH)"/>
<circle cx="45.25" cy="385.11" r="1.8" fill="url(#gH)"/>
<circle cx="56.45" cy="376.61" r="1.8" fill="url(#gH)"/>
<circle cx="70.02" cy="385.40" r="1.8" fill="url(#gH)"/>
<circle cx="71.78" cy="399.35" r="1.8" fill="url(#gH)"/>
<circle cx="57.38" cy="406.71" r="1.8" fill="url(#gH)"/>
<circle cx="44.42" cy="401.26" r="1.8" fill="url(#gH)"/>
<circle cx="48.48" cy="359.38" r="1.8" fill="url(#gH)"/>
<circle cx="54.77" cy="368.03" r="1.8" fill="url(#gH)"/>
<circle cx="39.78" cy="378.92" r="1.8" fill="url(#gH)"/>
<circle cx="33.49" cy="370.27" r="1.8" fill="url(#gH)"/>
<circle cx="37.84" cy="407.00" r="1.8" fill="url(#gH)"/>
<circle cx="111.42" cy="285.09" r="1.8" fill="url(#gH)"/>
<circle cx="124.38" cy="290.54" r="1.8" fill="url(#gH)"/>
<circle cx="123.55" cy="306.69" r="1.8" fill="url(#gH)"/>
<circle cx="112.35" cy="315.19" r="1.8" fill="url(#gH)"/>
<circle cx="98.78" cy="306.40" r="1.8" fill="url(#gH)"/>
<circle cx="97.02" cy="292.45" r="1.8" fill="url(#gH)"/>
<circle cx="130.97" cy="284.80" r="1.8" fill="url(#gH)"/>
<circle cx="45.25" cy="292.09" r="1.8" fill="url(#gH)"/>
<circle cx="56.45" cy="283.59" r="1.8" fill="url(#gH)"/>
<circle cx="90.69" cy="308.05" r="1.8" fill="url(#gH)"/>
<circle cx="80.05" cy="309.17" r="1.8" fill="url(#gH)"/>
<circle cx="78.11" cy="290.74" r="1.8" fill="url(#gH)"/>
<circle cx="88.75" cy="289.63" r="1.8" fill="url(#gH)"/>
<circle cx="125.80" cy="338.60" r="1.8" fill="url(#gH)"/>
<circle cx="137.00" cy="330.10" r="1.8" fill="url(#gH)"/>
<circle cx="150.57" cy="338.90" r="1.8" fill="url(#gH)"/>
<circle cx="152.33" cy="352.85" r="1.8" fill="url(#gH)"/>
<circle cx="137.93" cy="360.20" r="1.8" fill="url(#gH)"/>
<circle cx="124.97" cy="354.75" r="1.8" fill="url(#gH)"/>
<circle cx="129.03" cy="312.87" r="1.8" fill="url(#gH)"/>
<circle cx="135.32" cy="321.53" r="1.8" fill="url(#gH)"/>
<circle cx="120.33" cy="332.42" r="1.8" fill="url(#gH)"/>
<circle cx="114.04" cy="323.76" r="1.8" fill="url(#gH)"/>
<circle cx="111.42" cy="378.10" r="1.8" fill="url(#gH)"/>
<circle cx="124.38" cy="383.55" r="1.8" fill="url(#gH)"/>
<circle cx="123.55" cy="399.71" r="1.8" fill="url(#gH)"/>
<circle cx="112.35" cy="408.21" r="1.8" fill="url(#gH)"/>
<circle cx="98.78" cy="399.41" r="1.8" fill="url(#gH)"/>
<circle cx="97.02" cy="385.46" r="1.8" fill="url(#gH)"/>
<circle cx="135.32" cy="368.04" r="1.8" fill="url(#gH)"/>
<circle cx="130.97" cy="377.81" r="1.8" fill="url(#gH)"/>
<circle cx="114.04" cy="370.27" r="1.8" fill="url(#gH)"/>
<circle cx="118.39" cy="360.50" r="1.8" fill="url(#gH)"/>
<circle cx="45.25" cy="385.11" r="1.8" fill="url(#gH)"/>
<circle cx="56.45" cy="376.61" r="1.8" fill="url(#gH)"/>
<circle cx="90.69" cy="401.07" r="1.8" fill="url(#gH)"/>
<circle cx="80.05" cy="402.19" r="1.8" fill="url(#gH)"/>
<circle cx="78.11" cy="383.74" r="1.8" fill="url(#gH)"/>
<circle cx="88.75" cy="382.64" r="1.8" fill="url(#gH)"/>
<circle cx="90.69" cy="308.06" r="1.8" fill="url(#gH)"/>
<circle cx="129.03" cy="405.88" r="1.8" fill="url(#gH)"/>
<circle cx="78.11" cy="383.75" r="1.8" fill="url(#gH)"/>
<circle cx="160.60" cy="355.68" r="1.8" fill="url(#gH)"/>
<circle cx="158.66" cy="337.25" r="1.8" fill="url(#gH)"/>
<circle cx="54.17" cy="294.56" r="2.85" fill="url(#gC)"/>
<circle cx="60.04" cy="294.05" r="2.85" fill="url(#gC)"/>
<circle cx="63.43" cy="298.88" r="2.85" fill="url(#gC)"/>
<circle cx="60.93" cy="304.23" r="2.85" fill="url(#gC)"/>
<circle cx="55.06" cy="304.74" r="2.85" fill="url(#gC)"/>
<circle cx="51.67" cy="299.91" r="2.85" fill="url(#gC)"/>
<circle cx="50.15" cy="290.49" r="2.85" fill="url(#gC)"/>
<circle cx="68.96" cy="297.44" r="2.85" fill="url(#gC)"/>
<circle cx="53.54" cy="310.25" r="2.85" fill="url(#gC)"/>
<circle cx="47.72" cy="281.07" r="2.85" fill="url(#gC)"/>
<circle cx="41.65" cy="281.71" r="2.85" fill="url(#gC)"/>
<circle cx="33.19" cy="340.55" r="2.85" fill="url(#gC)"/>
<circle cx="36.58" cy="345.39" r="2.85" fill="url(#gC)"/>
<circle cx="34.08" cy="350.73" r="2.85" fill="url(#gC)"/>
<circle cx="28.21" cy="351.25" r="2.85" fill="url(#gC)"/>
<circle cx="24.82" cy="346.41" r="2.85" fill="url(#gC)"/>
<circle cx="27.32" cy="341.07" r="2.85" fill="url(#gC)"/>
<circle cx="34.71" cy="335.04" r="2.85" fill="url(#gC)"/>
<circle cx="38.10" cy="354.80" r="2.85" fill="url(#gC)"/>
<circle cx="19.29" cy="347.86" r="2.85" fill="url(#gC)"/>
<circle cx="46.61" cy="317.08" r="2.85" fill="url(#gC)"/>
<circle cx="50.20" cy="322.01" r="2.85" fill="url(#gC)"/>
<circle cx="47.72" cy="327.59" r="2.85" fill="url(#gC)"/>
<circle cx="41.65" cy="328.22" r="2.85" fill="url(#gC)"/>
<circle cx="38.06" cy="323.29" r="2.85" fill="url(#gC)"/>
<circle cx="40.54" cy="317.71" r="2.85" fill="url(#gC)"/>
<circle cx="54.17" cy="387.57" r="2.85" fill="url(#gC)"/>
<circle cx="60.04" cy="387.06" r="2.85" fill="url(#gC)"/>
<circle cx="63.43" cy="391.89" r="2.85" fill="url(#gC)"/>
<circle cx="60.93" cy="397.24" r="2.85" fill="url(#gC)"/>
<circle cx="55.06" cy="397.75" r="2.85" fill="url(#gC)"/>
<circle cx="51.67" cy="392.92" r="2.85" fill="url(#gC)"/>
<circle cx="50.15" cy="383.51" r="2.85" fill="url(#gC)"/>
<circle cx="68.96" cy="390.45" r="2.85" fill="url(#gC)"/>
<circle cx="53.54" cy="403.26" r="2.85" fill="url(#gC)"/>
<circle cx="40.54" cy="364.21" r="2.85" fill="url(#gC)"/>
<circle cx="46.61" cy="363.58" r="2.85" fill="url(#gC)"/>
<circle cx="50.20" cy="368.51" r="2.85" fill="url(#gC)"/>
<circle cx="47.72" cy="374.09" r="2.85" fill="url(#gC)"/>
<circle cx="41.65" cy="374.72" r="2.85" fill="url(#gC)"/>
<circle cx="38.06" cy="369.79" r="2.85" fill="url(#gC)"/>
<circle cx="46.61" cy="410.09" r="2.85" fill="url(#gC)"/>
<circle cx="40.54" cy="410.73" r="2.85" fill="url(#gC)"/>
<circle cx="113.74" cy="294.05" r="2.85" fill="url(#gC)"/>
<circle cx="117.13" cy="298.88" r="2.85" fill="url(#gC)"/>
<circle cx="114.63" cy="304.23" r="2.85" fill="url(#gC)"/>
<circle cx="108.76" cy="304.74" r="2.85" fill="url(#gC)"/>
<circle cx="105.37" cy="299.91" r="2.85" fill="url(#gC)"/>
<circle cx="107.87" cy="294.56" r="2.85" fill="url(#gC)"/>
<circle cx="115.26" cy="288.54" r="2.85" fill="url(#gC)"/>
<circle cx="118.65" cy="308.29" r="2.85" fill="url(#gC)"/>
<circle cx="99.84" cy="301.35" r="2.85" fill="url(#gC)"/>
<circle cx="128.27" cy="281.08" r="2.85" fill="url(#gC)"/>
<circle cx="122.20" cy="281.72" r="2.85" fill="url(#gC)"/>
<circle cx="50.15" cy="290.49" r="2.85" fill="url(#gC)"/>
<circle cx="90.47" cy="298.76" r="2.85" fill="url(#gC)"/>
<circle cx="87.99" cy="304.34" r="2.85" fill="url(#gC)"/>
<circle cx="81.92" cy="304.97" r="2.85" fill="url(#gC)"/>
<circle cx="78.33" cy="300.04" r="2.85" fill="url(#gC)"/>
<circle cx="80.81" cy="294.46" r="2.85" fill="url(#gC)"/>
<circle cx="86.88" cy="293.83" r="2.85" fill="url(#gC)"/>
<circle cx="134.72" cy="341.07" r="2.85" fill="url(#gC)"/>
<circle cx="140.59" cy="340.55" r="2.85" fill="url(#gC)"/>
<circle cx="143.98" cy="345.39" r="2.85" fill="url(#gC)"/>
<circle cx="141.48" cy="350.73" r="2.85" fill="url(#gC)"/>
<circle cx="135.61" cy="351.25" r="2.85" fill="url(#gC)"/>
<circle cx="132.22" cy="346.41" r="2.85" fill="url(#gC)"/>
<circle cx="130.70" cy="337.00" r="2.85" fill="url(#gC)"/>
<circle cx="149.51" cy="343.94" r="2.85" fill="url(#gC)"/>
<circle cx="134.09" cy="356.76" r="2.85" fill="url(#gC)"/>
<circle cx="121.09" cy="317.71" r="2.85" fill="url(#gC)"/>
<circle cx="127.16" cy="317.07" r="2.85" fill="url(#gC)"/>
<circle cx="130.75" cy="322.01" r="2.85" fill="url(#gC)"/>
<circle cx="128.27" cy="327.58" r="2.85" fill="url(#gC)"/>
<circle cx="122.20" cy="328.22" r="2.85" fill="url(#gC)"/>
<circle cx="118.61" cy="323.28" r="2.85" fill="url(#gC)"/>
<circle cx="113.74" cy="387.06" r="2.85" fill="url(#gC)"/>
<circle cx="117.13" cy="391.89" r="2.85" fill="url(#gC)"/>
<circle cx="114.63" cy="397.24" r="2.85" fill="url(#gC)"/>
<circle cx="108.76" cy="397.75" r="2.85" fill="url(#gC)"/>
<circle cx="105.37" cy="392.92" r="2.85" fill="url(#gC)"/>
<circle cx="107.87" cy="387.57" r="2.85" fill="url(#gC)"/>
<circle cx="115.26" cy="381.55" r="2.85" fill="url(#gC)"/>
<circle cx="118.65" cy="401.31" r="2.85" fill="url(#gC)"/>
<circle cx="99.84" cy="394.36" r="2.85" fill="url(#gC)"/>
<circle cx="127.16" cy="363.58" r="2.85" fill="url(#gC)"/>
<circle cx="130.75" cy="368.52" r="2.85" fill="url(#gC)"/>
<circle cx="128.27" cy="374.09" r="2.85" fill="url(#gC)"/>
<circle cx="122.20" cy="374.73" r="2.85" fill="url(#gC)"/>
<circle cx="118.61" cy="369.79" r="2.85" fill="url(#gC)"/>
<circle cx="121.09" cy="364.22" r="2.85" fill="url(#gC)"/>
<circle cx="50.15" cy="383.51" r="2.85" fill="url(#gC)"/>
<circle cx="90.47" cy="391.77" r="2.85" fill="url(#gC)"/>
<circle cx="87.99" cy="397.35" r="2.85" fill="url(#gC)"/>
<circle cx="81.92" cy="397.98" r="2.85" fill="url(#gC)"/>
<circle cx="78.33" cy="393.05" r="2.85" fill="url(#gC)"/>
<circle cx="80.81" cy="387.48" r="2.85" fill="url(#gC)"/>
<circle cx="86.88" cy="386.84" r="2.85" fill="url(#gC)"/>
<circle cx="121.09" cy="410.72" r="2.85" fill="url(#gC)"/>
<circle cx="127.16" cy="410.08" r="2.85" fill="url(#gC)"/>
<circle cx="158.88" cy="346.54" r="2.85" fill="url(#gC)"/>
<circle cx="161.36" cy="340.97" r="2.85" fill="url(#gC)"/>
<circle cx="51.35" cy="285.29" r="2.9" fill="url(#gN)"/>
<circle cx="72.86" cy="301.08" r="2.9" fill="url(#gN)"/>
<circle cx="48.44" cy="311.81" r="2.9" fill="url(#gN)"/>
<circle cx="39.81" cy="333.48" r="2.9" fill="url(#gN)"/>
<circle cx="36.90" cy="360.00" r="2.9" fill="url(#gN)"/>
<circle cx="15.39" cy="344.22" r="2.9" fill="url(#gN)"/>
<circle cx="51.35" cy="378.31" r="2.9" fill="url(#gN)"/>
<circle cx="72.86" cy="394.09" r="2.9" fill="url(#gN)"/>
<circle cx="48.44" cy="404.82" r="2.9" fill="url(#gN)"/>
<circle cx="120.36" cy="286.98" r="2.9" fill="url(#gN)"/>
<circle cx="117.45" cy="313.49" r="2.9" fill="url(#gN)"/>
<circle cx="95.94" cy="297.71" r="2.9" fill="url(#gN)"/>
<circle cx="51.35" cy="285.29" r="2.9" fill="url(#gN)"/>
<circle cx="131.90" cy="331.80" r="2.9" fill="url(#gN)"/>
<circle cx="153.41" cy="347.58" r="2.9" fill="url(#gN)"/>
<circle cx="128.99" cy="358.32" r="2.9" fill="url(#gN)"/>
<circle cx="120.36" cy="379.99" r="2.9" fill="url(#gN)"/>
<circle cx="117.45" cy="406.51" r="2.9" fill="url(#gN)"/>
<circle cx="95.94" cy="390.72" r="2.9" fill="url(#gN)"/>
<circle cx="51.35" cy="378.31" r="2.9" fill="url(#gN)"/>
<circle cx="62.05" cy="288.69" r="3.0" fill="url(#gO)"/>
<circle cx="64.57" cy="308.64" r="3.0" fill="url(#gO)"/>
<circle cx="46.03" cy="300.85" r="3.0" fill="url(#gO)"/>
<circle cx="42.22" cy="344.45" r="3.0" fill="url(#gO)"/>
<circle cx="26.20" cy="356.60" r="3.0" fill="url(#gO)"/>
<circle cx="23.68" cy="336.65" r="3.0" fill="url(#gO)"/>
<circle cx="62.05" cy="381.71" r="3.0" fill="url(#gO)"/>
<circle cx="64.57" cy="401.65" r="3.0" fill="url(#gO)"/>
<circle cx="46.03" cy="393.86" r="3.0" fill="url(#gO)"/>
<circle cx="122.77" cy="297.94" r="3.0" fill="url(#gO)"/>
<circle cx="106.75" cy="310.09" r="3.0" fill="url(#gO)"/>
<circle cx="104.23" cy="290.15" r="3.0" fill="url(#gO)"/>
<circle cx="62.05" cy="288.69" r="3.0" fill="url(#gO)"/>
<circle cx="142.60" cy="335.20" r="3.0" fill="url(#gO)"/>
<circle cx="145.12" cy="355.15" r="3.0" fill="url(#gO)"/>
<circle cx="126.58" cy="347.35" r="3.0" fill="url(#gO)"/>
<circle cx="122.77" cy="390.95" r="3.0" fill="url(#gO)"/>
<circle cx="106.75" cy="403.11" r="3.0" fill="url(#gO)"/>
<circle cx="104.23" cy="383.16" r="3.0" fill="url(#gO)"/>
<circle cx="62.05" cy="381.71" r="3.0" fill="url(#gO)"/>
</g>
<g clip-path="url(#cc2)">
<line x1="209.37" y1="294.26" x2="215.24" y2="293.75" stroke="#8c8c8c" stroke-width="2.6"/>
<line x1="215.24" y1="293.75" x2="218.63" y2="298.58" stroke="#8c8c8c" stroke-width="2.6"/>
<line x1="218.63" y1="298.58" x2="216.13" y2="303.93" stroke="#8c8c8c" stroke-width="2.6"/>
<line x1="216.13" y1="303.93" x2="210.26" y2="304.44" stroke="#8c8c8c" stroke-width="2.6"/>
<line x1="210.26" y1="304.44" x2="206.87" y2="299.61" stroke="#8c8c8c" stroke-width="2.6"/>
<line x1="206.87" y1="299.61" x2="209.37" y2="294.26" stroke="#8c8c8c" stroke-width="2.6"/>
<line x1="215.24" y1="293.75" x2="217.25" y2="288.39" stroke="#8c8c8c" stroke-width="2.6"/>
<line x1="209.37" y1="294.26" x2="205.35" y2="290.19" stroke="#8c8c8c" stroke-width="2.6"/>
<line x1="205.35" y1="290.19" x2="206.55" y2="284.99" stroke="#8c8c8c" stroke-width="2.6"/>
<line x1="205.35" y1="290.19" x2="200.45" y2="291.79" stroke="#8c8c8c" stroke-width="2.6"/>
<line x1="206.55" y1="284.99" x2="211.65" y2="283.29" stroke="#8c8c8c" stroke-width="2.6"/>
<line x1="216.13" y1="303.93" x2="219.77" y2="308.34" stroke="#8c8c8c" stroke-width="2.6"/>
<line x1="218.63" y1="298.58" x2="224.16" y2="297.14" stroke="#8c8c8c" stroke-width="2.6"/>
<line x1="224.16" y1="297.14" x2="228.06" y2="300.78" stroke="#8c8c8c" stroke-width="2.6"/>
<line x1="224.16" y1="297.14" x2="225.22" y2="292.09" stroke="#8c8c8c" stroke-width="2.6"/>
<line x1="228.06" y1="300.78" x2="226.98" y2="306.04" stroke="#8c8c8c" stroke-width="2.6"/>
<line x1="206.87" y1="299.61" x2="201.23" y2="300.55" stroke="#8c8c8c" stroke-width="2.6"/>
<line x1="210.26" y1="304.44" x2="208.74" y2="309.95" stroke="#8c8c8c" stroke-width="2.6"/>
<line x1="208.74" y1="309.95" x2="203.64" y2="311.51" stroke="#8c8c8c" stroke-width="2.6"/>
<line x1="208.74" y1="309.95" x2="212.58" y2="313.40" stroke="#8c8c8c" stroke-width="2.6"/>
<line x1="203.64" y1="311.51" x2="199.62" y2="307.95" stroke="#8c8c8c" stroke-width="2.6"/>
<line x1="205.40" y1="275.20" x2="202.92" y2="280.77" stroke="#8c8c8c" stroke-width="2.6"/>
<line x1="202.91" y1="280.78" x2="196.84" y2="281.42" stroke="#8c8c8c" stroke-width="2.6"/>
<line x1="196.85" y1="281.41" x2="193.26" y2="276.48" stroke="#8c8c8c" stroke-width="2.6"/>
<line x1="196.85" y1="281.41" x2="194.98" y2="285.61" stroke="#8c8c8c" stroke-width="2.6"/>
<line x1="202.92" y1="280.77" x2="206.56" y2="284.99" stroke="#8c8c8c" stroke-width="2.6"/>
<line x1="188.39" y1="340.25" x2="191.78" y2="345.09" stroke="#8c8c8c" stroke-width="2.6"/>
<line x1="191.78" y1="345.09" x2="189.28" y2="350.43" stroke="#8c8c8c" stroke-width="2.6"/>
<line x1="189.28" y1="350.43" x2="183.41" y2="350.95" stroke="#8c8c8c" stroke-width="2.6"/>
<line x1="183.41" y1="350.95" x2="180.02" y2="346.11" stroke="#8c8c8c" stroke-width="2.6"/>
<line x1="180.02" y1="346.11" x2="182.52" y2="340.77" stroke="#8c8c8c" stroke-width="2.6"/>
<line x1="182.52" y1="340.77" x2="188.39" y2="340.25" stroke="#8c8c8c" stroke-width="2.6"/>
<line x1="191.78" y1="345.09" x2="197.42" y2="344.15" stroke="#8c8c8c" stroke-width="2.6"/>
<line x1="188.39" y1="340.25" x2="189.91" y2="334.74" stroke="#8c8c8c" stroke-width="2.6"/>
<line x1="189.91" y1="334.74" x2="195.01" y2="333.18" stroke="#8c8c8c" stroke-width="2.6"/>
<line x1="189.91" y1="334.74" x2="186.07" y2="331.30" stroke="#8c8c8c" stroke-width="2.6"/>
<line x1="195.01" y1="333.18" x2="199.03" y2="336.75" stroke="#8c8c8c" stroke-width="2.6"/>
<line x1="183.41" y1="350.95" x2="181.40" y2="356.30" stroke="#8c8c8c" stroke-width="2.6"/>
<line x1="189.28" y1="350.43" x2="193.30" y2="354.50" stroke="#8c8c8c" stroke-width="2.6"/>
<line x1="193.30" y1="354.50" x2="192.10" y2="359.70" stroke="#8c8c8c" stroke-width="2.6"/>
<line x1="193.30" y1="354.50" x2="198.20" y2="352.90" stroke="#8c8c8c" stroke-width="2.6"/>
<line x1="192.10" y1="359.70" x2="187.00" y2="361.40" stroke="#8c8c8c" stroke-width="2.6"/>
<line x1="182.52" y1="340.77" x2="178.88" y2="336.35" stroke="#8c8c8c" stroke-width="2.6"/>
<line x1="180.02" y1="346.11" x2="174.49" y2="347.56" stroke="#8c8c8c" stroke-width="2.6"/>
<line x1="174.49" y1="347.56" x2="170.59" y2="343.92" stroke="#8c8c8c" stroke-width="2.6"/>
<line x1="174.49" y1="347.56" x2="173.43" y2="352.60" stroke="#8c8c8c" stroke-width="2.6"/>
<line x1="170.59" y1="343.92" x2="171.67" y2="338.65" stroke="#8c8c8c" stroke-width="2.6"/>
<line x1="201.81" y1="316.78" x2="205.40" y2="321.71" stroke="#8c8c8c" stroke-width="2.6"/>
<line x1="205.40" y1="321.71" x2="202.92" y2="327.29" stroke="#8c8c8c" stroke-width="2.6"/>
<line x1="202.91" y1="327.28" x2="196.84" y2="327.92" stroke="#8c8c8c" stroke-width="2.6"/>
<line x1="196.85" y1="327.92" x2="193.26" y2="322.99" stroke="#8c8c8c" stroke-width="2.6"/>
<line x1="193.26" y1="322.99" x2="195.74" y2="317.41" stroke="#8c8c8c" stroke-width="2.6"/>
<line x1="195.73" y1="317.41" x2="201.80" y2="316.77" stroke="#8c8c8c" stroke-width="2.6"/>
<line x1="205.39" y1="321.71" x2="209.96" y2="321.23" stroke="#8c8c8c" stroke-width="2.6"/>
<line x1="202.92" y1="327.29" x2="205.62" y2="331.01" stroke="#8c8c8c" stroke-width="2.6"/>
<line x1="193.25" y1="322.98" x2="188.68" y2="323.46" stroke="#8c8c8c" stroke-width="2.6"/>
<line x1="195.74" y1="317.41" x2="193.04" y2="313.69" stroke="#8c8c8c" stroke-width="2.6"/>
<line x1="201.81" y1="316.78" x2="203.64" y2="311.51" stroke="#8c8c8c" stroke-width="2.6"/>
<line x1="196.85" y1="327.92" x2="195.02" y2="333.19" stroke="#8c8c8c" stroke-width="2.6"/>
<line x1="165.12" y1="344.97" x2="162.64" y2="350.54" stroke="#8c8c8c" stroke-width="2.6"/>
<line x1="161.53" y1="340.03" x2="165.12" y2="344.97" stroke="#8c8c8c" stroke-width="2.6"/>
<line x1="162.64" y1="350.54" x2="165.34" y2="354.26" stroke="#8c8c8c" stroke-width="2.6"/>
<line x1="165.12" y1="344.97" x2="170.59" y2="343.92" stroke="#8c8c8c" stroke-width="2.6"/>
<line x1="209.37" y1="387.27" x2="215.24" y2="386.76" stroke="#8c8c8c" stroke-width="2.6"/>
<line x1="215.24" y1="386.76" x2="218.63" y2="391.59" stroke="#8c8c8c" stroke-width="2.6"/>
<line x1="218.63" y1="391.59" x2="216.13" y2="396.94" stroke="#8c8c8c" stroke-width="2.6"/>
<line x1="216.13" y1="396.94" x2="210.26" y2="397.45" stroke="#8c8c8c" stroke-width="2.6"/>
<line x1="210.26" y1="397.45" x2="206.87" y2="392.62" stroke="#8c8c8c" stroke-width="2.6"/>
<line x1="206.87" y1="392.62" x2="209.37" y2="387.27" stroke="#8c8c8c" stroke-width="2.6"/>
<line x1="215.24" y1="386.76" x2="217.25" y2="381.41" stroke="#8c8c8c" stroke-width="2.6"/>
<line x1="209.37" y1="387.27" x2="205.35" y2="383.21" stroke="#8c8c8c" stroke-width="2.6"/>
<line x1="205.35" y1="383.21" x2="206.55" y2="378.01" stroke="#8c8c8c" stroke-width="2.6"/>
<line x1="205.35" y1="383.21" x2="200.45" y2="384.81" stroke="#8c8c8c" stroke-width="2.6"/>
<line x1="206.55" y1="378.01" x2="211.65" y2="376.31" stroke="#8c8c8c" stroke-width="2.6"/>
<line x1="216.13" y1="396.94" x2="219.77" y2="401.35" stroke="#8c8c8c" stroke-width="2.6"/>
<line x1="218.63" y1="391.59" x2="224.16" y2="390.15" stroke="#8c8c8c" stroke-width="2.6"/>
<line x1="224.16" y1="390.15" x2="228.06" y2="393.79" stroke="#8c8c8c" stroke-width="2.6"/>
<line x1="224.16" y1="390.15" x2="225.22" y2="385.10" stroke="#8c8c8c" stroke-width="2.6"/>
<line x1="228.06" y1="393.79" x2="226.98" y2="399.05" stroke="#8c8c8c" stroke-width="2.6"/>
<line x1="206.87" y1="392.62" x2="201.23" y2="393.56" stroke="#8c8c8c" stroke-width="2.6"/>
<line x1="210.26" y1="397.45" x2="208.74" y2="402.96" stroke="#8c8c8c" stroke-width="2.6"/>
<line x1="208.74" y1="402.96" x2="203.64" y2="404.52" stroke="#8c8c8c" stroke-width="2.6"/>
<line x1="208.74" y1="402.96" x2="212.58" y2="406.41" stroke="#8c8c8c" stroke-width="2.6"/>
<line x1="203.64" y1="404.52" x2="199.62" y2="400.96" stroke="#8c8c8c" stroke-width="2.6"/>
<line x1="195.73" y1="363.92" x2="201.80" y2="363.28" stroke="#8c8c8c" stroke-width="2.6"/>
<line x1="201.81" y1="363.28" x2="205.40" y2="368.21" stroke="#8c8c8c" stroke-width="2.6"/>
<line x1="205.40" y1="368.21" x2="202.92" y2="373.79" stroke="#8c8c8c" stroke-width="2.6"/>
<line x1="202.91" y1="373.79" x2="196.84" y2="374.43" stroke="#8c8c8c" stroke-width="2.6"/>
<line x1="196.85" y1="374.42" x2="193.26" y2="369.49" stroke="#8c8c8c" stroke-width="2.6"/>
<line x1="193.26" y1="369.49" x2="195.74" y2="363.91" stroke="#8c8c8c" stroke-width="2.6"/>
<line x1="201.81" y1="363.28" x2="203.68" y2="359.08" stroke="#8c8c8c" stroke-width="2.6"/>
<line x1="205.39" y1="368.22" x2="209.96" y2="367.74" stroke="#8c8c8c" stroke-width="2.6"/>
<line x1="196.84" y1="374.43" x2="194.97" y2="378.63" stroke="#8c8c8c" stroke-width="2.6"/>
<line x1="193.25" y1="369.49" x2="188.68" y2="369.97" stroke="#8c8c8c" stroke-width="2.6"/>
<line x1="195.74" y1="363.91" x2="192.10" y2="359.70" stroke="#8c8c8c" stroke-width="2.6"/>
<line x1="202.92" y1="373.79" x2="206.56" y2="378.00" stroke="#8c8c8c" stroke-width="2.6"/>
<line x1="201.81" y1="409.79" x2="205.40" y2="414.72" stroke="#8c8c8c" stroke-width="2.6"/>
<line x1="193.26" y1="416.00" x2="195.74" y2="410.43" stroke="#8c8c8c" stroke-width="2.6"/>
<line x1="195.73" y1="410.42" x2="201.80" y2="409.78" stroke="#8c8c8c" stroke-width="2.6"/>
<line x1="195.74" y1="410.43" x2="193.04" y2="406.70" stroke="#8c8c8c" stroke-width="2.6"/>
<line x1="201.81" y1="409.79" x2="203.64" y2="404.52" stroke="#8c8c8c" stroke-width="2.6"/>
<line x1="268.94" y1="293.75" x2="272.33" y2="298.58" stroke="#8c8c8c" stroke-width="2.6"/>
<line x1="272.33" y1="298.58" x2="269.83" y2="303.93" stroke="#8c8c8c" stroke-width="2.6"/>
<line x1="269.83" y1="303.93" x2="263.96" y2="304.44" stroke="#8c8c8c" stroke-width="2.6"/>
<line x1="263.96" y1="304.44" x2="260.57" y2="299.61" stroke="#8c8c8c" stroke-width="2.6"/>
<line x1="260.57" y1="299.61" x2="263.07" y2="294.26" stroke="#8c8c8c" stroke-width="2.6"/>
<line x1="263.07" y1="294.26" x2="268.94" y2="293.75" stroke="#8c8c8c" stroke-width="2.6"/>
<line x1="272.33" y1="298.58" x2="277.97" y2="297.64" stroke="#8c8c8c" stroke-width="2.6"/>
<line x1="268.94" y1="293.75" x2="270.46" y2="288.24" stroke="#8c8c8c" stroke-width="2.6"/>
<line x1="270.46" y1="288.24" x2="275.56" y2="286.68" stroke="#8c8c8c" stroke-width="2.6"/>
<line x1="270.46" y1="288.24" x2="266.62" y2="284.79" stroke="#8c8c8c" stroke-width="2.6"/>
<line x1="275.56" y1="286.68" x2="279.58" y2="290.24" stroke="#8c8c8c" stroke-width="2.6"/>
<line x1="263.96" y1="304.44" x2="261.95" y2="309.79" stroke="#8c8c8c" stroke-width="2.6"/>
<line x1="269.83" y1="303.93" x2="273.85" y2="307.99" stroke="#8c8c8c" stroke-width="2.6"/>
<line x1="273.85" y1="307.99" x2="272.65" y2="313.19" stroke="#8c8c8c" stroke-width="2.6"/>
<line x1="273.85" y1="307.99" x2="278.75" y2="306.39" stroke="#8c8c8c" stroke-width="2.6"/>
<line x1="272.65" y1="313.19" x2="267.55" y2="314.89" stroke="#8c8c8c" stroke-width="2.6"/>
<line x1="263.07" y1="294.26" x2="259.43" y2="289.85" stroke="#8c8c8c" stroke-width="2.6"/>
<line x1="260.57" y1="299.61" x2="255.04" y2="301.05" stroke="#8c8c8c" stroke-width="2.6"/>
<line x1="255.04" y1="301.05" x2="251.14" y2="297.41" stroke="#8c8c8c" stroke-width="2.6"/>
<line x1="255.04" y1="301.05" x2="253.98" y2="306.10" stroke="#8c8c8c" stroke-width="2.6"/>
<line x1="251.14" y1="297.41" x2="252.22" y2="292.15" stroke="#8c8c8c" stroke-width="2.6"/>
<line x1="285.95" y1="275.21" x2="283.47" y2="280.78" stroke="#8c8c8c" stroke-width="2.6"/>
<line x1="283.46" y1="280.77" x2="277.39" y2="281.41" stroke="#8c8c8c" stroke-width="2.6"/>
<line x1="277.40" y1="281.42" x2="273.81" y2="276.48" stroke="#8c8c8c" stroke-width="2.6"/>
<line x1="283.47" y1="280.78" x2="286.17" y2="284.50" stroke="#8c8c8c" stroke-width="2.6"/>
<line x1="277.40" y1="281.42" x2="275.57" y2="286.68" stroke="#8c8c8c" stroke-width="2.6"/>
<line x1="245.67" y1="298.46" x2="243.19" y2="304.04" stroke="#8c8c8c" stroke-width="2.6"/>
<line x1="243.19" y1="304.04" x2="237.12" y2="304.67" stroke="#8c8c8c" stroke-width="2.6"/>
<line x1="237.12" y1="304.67" x2="233.53" y2="299.74" stroke="#8c8c8c" stroke-width="2.6"/>
<line x1="233.53" y1="299.74" x2="236.01" y2="294.16" stroke="#8c8c8c" stroke-width="2.6"/>
<line x1="236.01" y1="294.16" x2="242.08" y2="293.53" stroke="#8c8c8c" stroke-width="2.6"/>
<line x1="242.08" y1="293.53" x2="245.67" y2="298.46" stroke="#8c8c8c" stroke-width="2.6"/>
<line x1="243.19" y1="304.04" x2="245.89" y2="307.76" stroke="#8c8c8c" stroke-width="2.6"/>
<line x1="237.12" y1="304.67" x2="235.25" y2="308.87" stroke="#8c8c8c" stroke-width="2.6"/>
<line x1="236.01" y1="294.16" x2="233.31" y2="290.44" stroke="#8c8c8c" stroke-width="2.6"/>
<line x1="242.08" y1="293.52" x2="243.95" y2="289.31" stroke="#8c8c8c" stroke-width="2.6"/>
<line x1="245.67" y1="298.46" x2="251.14" y2="297.41" stroke="#8c8c8c" stroke-width="2.6"/>
<line x1="233.53" y1="299.74" x2="228.06" y2="300.79" stroke="#8c8c8c" stroke-width="2.6"/>
<line x1="202.92" y1="280.77" x2="196.85" y2="281.41" stroke="#8c8c8c" stroke-width="2.6"/>
<line x1="289.92" y1="340.77" x2="295.79" y2="340.25" stroke="#8c8c8c" stroke-width="2.6"/>
<line x1="295.79" y1="340.25" x2="299.18" y2="345.09" stroke="#8c8c8c" stroke-width="2.6"/>
<line x1="299.18" y1="345.09" x2="296.68" y2="350.43" stroke="#8c8c8c" stroke-width="2.6"/>
<line x1="296.68" y1="350.43" x2="290.81" y2="350.95" stroke="#8c8c8c" stroke-width="2.6"/>
<line x1="290.81" y1="350.95" x2="287.42" y2="346.11" stroke="#8c8c8c" stroke-width="2.6"/>
<line x1="287.42" y1="346.11" x2="289.92" y2="340.77" stroke="#8c8c8c" stroke-width="2.6"/>
<line x1="295.79" y1="340.25" x2="297.80" y2="334.90" stroke="#8c8c8c" stroke-width="2.6"/>
<line x1="289.92" y1="340.77" x2="285.90" y2="336.70" stroke="#8c8c8c" stroke-width="2.6"/>
<line x1="285.90" y1="336.70" x2="287.10" y2="331.50" stroke="#8c8c8c" stroke-width="2.6"/>
<line x1="285.90" y1="336.70" x2="281.00" y2="338.30" stroke="#8c8c8c" stroke-width="2.6"/>
<line x1="287.10" y1="331.50" x2="292.20" y2="329.80" stroke="#8c8c8c" stroke-width="2.6"/>
<line x1="296.68" y1="350.43" x2="300.32" y2="354.85" stroke="#8c8c8c" stroke-width="2.6"/>
<line x1="299.18" y1="345.09" x2="304.71" y2="343.64" stroke="#8c8c8c" stroke-width="2.6"/>
<line x1="304.71" y1="343.64" x2="308.61" y2="347.28" stroke="#8c8c8c" stroke-width="2.6"/>
<line x1="304.71" y1="343.64" x2="305.77" y2="338.60" stroke="#8c8c8c" stroke-width="2.6"/>
<line x1="308.61" y1="347.28" x2="307.53" y2="352.55" stroke="#8c8c8c" stroke-width="2.6"/>
<line x1="287.42" y1="346.11" x2="281.78" y2="347.05" stroke="#8c8c8c" stroke-width="2.6"/>
<line x1="290.81" y1="350.95" x2="289.29" y2="356.46" stroke="#8c8c8c" stroke-width="2.6"/>
<line x1="289.29" y1="356.46" x2="284.19" y2="358.02" stroke="#8c8c8c" stroke-width="2.6"/>
<line x1="289.29" y1="356.46" x2="293.13" y2="359.90" stroke="#8c8c8c" stroke-width="2.6"/>
<line x1="284.19" y1="358.02" x2="280.17" y2="354.45" stroke="#8c8c8c" stroke-width="2.6"/>
<line x1="276.28" y1="317.41" x2="282.35" y2="316.78" stroke="#8c8c8c" stroke-width="2.6"/>
<line x1="282.36" y1="316.77" x2="285.95" y2="321.71" stroke="#8c8c8c" stroke-width="2.6"/>
<line x1="285.95" y1="321.71" x2="283.47" y2="327.28" stroke="#8c8c8c" stroke-width="2.6"/>
<line x1="283.46" y1="327.29" x2="277.39" y2="327.92" stroke="#8c8c8c" stroke-width="2.6"/>
<line x1="277.40" y1="327.92" x2="273.81" y2="322.98" stroke="#8c8c8c" stroke-width="2.6"/>
<line x1="273.81" y1="322.98" x2="276.29" y2="317.41" stroke="#8c8c8c" stroke-width="2.6"/>
<line x1="282.35" y1="316.78" x2="284.22" y2="312.58" stroke="#8c8c8c" stroke-width="2.6"/>
<line x1="285.94" y1="321.71" x2="290.51" y2="321.23" stroke="#8c8c8c" stroke-width="2.6"/>
<line x1="277.40" y1="327.92" x2="275.53" y2="332.12" stroke="#8c8c8c" stroke-width="2.6"/>
<line x1="273.80" y1="322.99" x2="269.23" y2="323.47" stroke="#8c8c8c" stroke-width="2.6"/>
<line x1="276.29" y1="317.41" x2="272.65" y2="313.19" stroke="#8c8c8c" stroke-width="2.6"/>
<line x1="283.47" y1="327.28" x2="287.11" y2="331.49" stroke="#8c8c8c" stroke-width="2.6"/>
<line x1="268.94" y1="386.76" x2="272.33" y2="391.59" stroke="#8c8c8c" stroke-width="2.6"/>
<line x1="272.33" y1="391.59" x2="269.83" y2="396.94" stroke="#8c8c8c" stroke-width="2.6"/>
<line x1="269.83" y1="396.94" x2="263.96" y2="397.45" stroke="#8c8c8c" stroke-width="2.6"/>
<line x1="263.96" y1="397.45" x2="260.57" y2="392.62" stroke="#8c8c8c" stroke-width="2.6"/>
<line x1="260.57" y1="392.62" x2="263.07" y2="387.27" stroke="#8c8c8c" stroke-width="2.6"/>
<line x1="263.07" y1="387.27" x2="268.94" y2="386.76" stroke="#8c8c8c" stroke-width="2.6"/>
<line x1="272.33" y1="391.59" x2="277.97" y2="390.65" stroke="#8c8c8c" stroke-width="2.6"/>
<line x1="268.94" y1="386.76" x2="270.46" y2="381.25" stroke="#8c8c8c" stroke-width="2.6"/>
<line x1="270.46" y1="381.25" x2="275.56" y2="379.69" stroke="#8c8c8c" stroke-width="2.6"/>
<line x1="270.46" y1="381.25" x2="266.62" y2="377.80" stroke="#8c8c8c" stroke-width="2.6"/>
<line x1="275.56" y1="379.69" x2="279.58" y2="383.25" stroke="#8c8c8c" stroke-width="2.6"/>
<line x1="263.96" y1="397.45" x2="261.95" y2="402.81" stroke="#8c8c8c" stroke-width="2.6"/>
<line x1="269.83" y1="396.94" x2="273.85" y2="401.01" stroke="#8c8c8c" stroke-width="2.6"/>
<line x1="273.85" y1="401.01" x2="272.65" y2="406.21" stroke="#8c8c8c" stroke-width="2.6"/>
<line x1="273.85" y1="401.01" x2="278.75" y2="399.41" stroke="#8c8c8c" stroke-width="2.6"/>
<line x1="272.65" y1="406.21" x2="267.55" y2="407.91" stroke="#8c8c8c" stroke-width="2.6"/>
<line x1="263.07" y1="387.27" x2="259.43" y2="382.86" stroke="#8c8c8c" stroke-width="2.6"/>
<line x1="260.57" y1="392.62" x2="255.04" y2="394.06" stroke="#8c8c8c" stroke-width="2.6"/>
<line x1="255.04" y1="394.06" x2="251.14" y2="390.42" stroke="#8c8c8c" stroke-width="2.6"/>
<line x1="255.04" y1="394.06" x2="253.98" y2="399.11" stroke="#8c8c8c" stroke-width="2.6"/>
<line x1="251.14" y1="390.42" x2="252.22" y2="385.16" stroke="#8c8c8c" stroke-width="2.6"/>
<line x1="282.36" y1="363.28" x2="285.95" y2="368.22" stroke="#8c8c8c" stroke-width="2.6"/>
<line x1="285.95" y1="368.22" x2="283.47" y2="373.79" stroke="#8c8c8c" stroke-width="2.6"/>
<line x1="283.46" y1="373.79" x2="277.39" y2="374.42" stroke="#8c8c8c" stroke-width="2.6"/>
<line x1="277.40" y1="374.43" x2="273.81" y2="369.49" stroke="#8c8c8c" stroke-width="2.6"/>
<line x1="273.81" y1="369.49" x2="276.29" y2="363.92" stroke="#8c8c8c" stroke-width="2.6"/>
<line x1="276.28" y1="363.91" x2="282.35" y2="363.28" stroke="#8c8c8c" stroke-width="2.6"/>
<line x1="285.94" y1="368.21" x2="290.51" y2="367.73" stroke="#8c8c8c" stroke-width="2.6"/>
<line x1="283.47" y1="373.79" x2="286.17" y2="377.51" stroke="#8c8c8c" stroke-width="2.6"/>
<line x1="273.80" y1="369.49" x2="269.23" y2="369.97" stroke="#8c8c8c" stroke-width="2.6"/>
<line x1="276.29" y1="363.92" x2="273.59" y2="360.20" stroke="#8c8c8c" stroke-width="2.6"/>
<line x1="282.36" y1="363.28" x2="284.19" y2="358.02" stroke="#8c8c8c" stroke-width="2.6"/>
<line x1="277.40" y1="374.43" x2="275.57" y2="379.69" stroke="#8c8c8c" stroke-width="2.6"/>
<line x1="245.67" y1="391.47" x2="243.19" y2="397.05" stroke="#8c8c8c" stroke-width="2.6"/>
<line x1="243.19" y1="397.05" x2="237.12" y2="397.68" stroke="#8c8c8c" stroke-width="2.6"/>
<line x1="237.12" y1="397.68" x2="233.53" y2="392.75" stroke="#8c8c8c" stroke-width="2.6"/>
<line x1="233.53" y1="392.75" x2="236.01" y2="387.18" stroke="#8c8c8c" stroke-width="2.6"/>
<line x1="236.01" y1="387.18" x2="242.08" y2="386.54" stroke="#8c8c8c" stroke-width="2.6"/>
<line x1="242.08" y1="386.54" x2="245.67" y2="391.47" stroke="#8c8c8c" stroke-width="2.6"/>
<line x1="243.19" y1="397.05" x2="245.89" y2="400.77" stroke="#8c8c8c" stroke-width="2.6"/>
<line x1="237.12" y1="397.67" x2="235.25" y2="401.87" stroke="#8c8c8c" stroke-width="2.6"/>
<line x1="236.01" y1="387.18" x2="233.31" y2="383.45" stroke="#8c8c8c" stroke-width="2.6"/>
<line x1="242.08" y1="386.54" x2="243.95" y2="382.34" stroke="#8c8c8c" stroke-width="2.6"/>
<line x1="245.67" y1="391.47" x2="251.14" y2="390.42" stroke="#8c8c8c" stroke-width="2.6"/>
<line x1="233.53" y1="392.75" x2="228.06" y2="393.80" stroke="#8c8c8c" stroke-width="2.6"/>
<line x1="202.92" y1="373.79" x2="196.85" y2="374.42" stroke="#8c8c8c" stroke-width="2.6"/>
<line x1="195.74" y1="363.91" x2="201.81" y2="363.28" stroke="#8c8c8c" stroke-width="2.6"/>
<line x1="196.85" y1="374.42" x2="194.98" y2="378.62" stroke="#8c8c8c" stroke-width="2.6"/>
<line x1="193.26" y1="369.49" x2="188.69" y2="369.97" stroke="#8c8c8c" stroke-width="2.6"/>
<line x1="205.40" y1="368.21" x2="209.97" y2="367.73" stroke="#8c8c8c" stroke-width="2.6"/>
<line x1="195.74" y1="317.41" x2="201.81" y2="316.78" stroke="#8c8c8c" stroke-width="2.6"/>
<line x1="202.92" y1="327.29" x2="196.85" y2="327.92" stroke="#8c8c8c" stroke-width="2.6"/>
<line x1="193.26" y1="322.99" x2="188.69" y2="323.47" stroke="#8c8c8c" stroke-width="2.6"/>
<line x1="205.40" y1="321.71" x2="209.97" y2="321.23" stroke="#8c8c8c" stroke-width="2.6"/>
<line x1="242.08" y1="293.53" x2="243.95" y2="289.33" stroke="#8c8c8c" stroke-width="2.6"/>
<line x1="276.28" y1="410.43" x2="282.35" y2="409.79" stroke="#8c8c8c" stroke-width="2.6"/>
<line x1="282.36" y1="409.78" x2="285.95" y2="414.72" stroke="#8c8c8c" stroke-width="2.6"/>
<line x1="273.81" y1="415.99" x2="276.29" y2="410.42" stroke="#8c8c8c" stroke-width="2.6"/>
<line x1="282.36" y1="409.78" x2="284.23" y2="405.58" stroke="#8c8c8c" stroke-width="2.6"/>
<line x1="276.29" y1="410.42" x2="272.65" y2="406.21" stroke="#8c8c8c" stroke-width="2.6"/>
<line x1="195.74" y1="410.43" x2="201.81" y2="409.79" stroke="#8c8c8c" stroke-width="2.6"/>
<line x1="237.12" y1="397.68" x2="235.25" y2="401.89" stroke="#8c8c8c" stroke-width="2.6"/>
<line x1="317.67" y1="351.18" x2="314.08" y2="346.24" stroke="#8c8c8c" stroke-width="2.6"/>
<line x1="314.08" y1="346.24" x2="316.56" y2="340.67" stroke="#8c8c8c" stroke-width="2.6"/>
<line x1="316.56" y1="340.67" x2="313.86" y2="336.95" stroke="#8c8c8c" stroke-width="2.6"/>
<line x1="314.08" y1="346.24" x2="308.61" y2="347.29" stroke="#8c8c8c" stroke-width="2.6"/>
<line x1="283.47" y1="327.28" x2="277.40" y2="327.92" stroke="#8c8c8c" stroke-width="2.6"/>
<line x1="276.29" y1="317.41" x2="282.36" y2="316.77" stroke="#8c8c8c" stroke-width="2.6"/>
<line x1="273.81" y1="322.98" x2="269.24" y2="323.46" stroke="#8c8c8c" stroke-width="2.6"/>
<line x1="282.36" y1="316.77" x2="284.23" y2="312.57" stroke="#8c8c8c" stroke-width="2.6"/>
<line x1="285.95" y1="321.71" x2="290.52" y2="321.23" stroke="#8c8c8c" stroke-width="2.6"/>
<line x1="283.47" y1="280.78" x2="277.40" y2="281.42" stroke="#8c8c8c" stroke-width="2.6"/>
<line x1="276.29" y1="410.42" x2="282.36" y2="409.78" stroke="#8c8c8c" stroke-width="2.6"/>
<line x1="276.29" y1="363.92" x2="282.36" y2="363.28" stroke="#8c8c8c" stroke-width="2.6"/>
<line x1="283.47" y1="373.79" x2="277.40" y2="374.43" stroke="#8c8c8c" stroke-width="2.6"/>
<line x1="273.81" y1="369.49" x2="269.24" y2="369.97" stroke="#8c8c8c" stroke-width="2.6"/>
<line x1="285.95" y1="368.22" x2="290.52" y2="367.74" stroke="#8c8c8c" stroke-width="2.6"/>
<circle cx="200.45" cy="291.79" r="1.8" fill="url(#gH)"/>
<circle cx="211.65" cy="283.29" r="1.8" fill="url(#gH)"/>
<circle cx="225.22" cy="292.09" r="1.8" fill="url(#gH)"/>
<circle cx="226.98" cy="306.04" r="1.8" fill="url(#gH)"/>
<circle cx="212.58" cy="313.40" r="1.8" fill="url(#gH)"/>
<circle cx="199.62" cy="307.95" r="1.8" fill="url(#gH)"/>
<circle cx="194.98" cy="285.61" r="1.8" fill="url(#gH)"/>
<circle cx="186.07" cy="331.30" r="1.8" fill="url(#gH)"/>
<circle cx="199.03" cy="336.75" r="1.8" fill="url(#gH)"/>
<circle cx="198.20" cy="352.90" r="1.8" fill="url(#gH)"/>
<circle cx="187.00" cy="361.40" r="1.8" fill="url(#gH)"/>
<circle cx="173.43" cy="352.60" r="1.8" fill="url(#gH)"/>
<circle cx="171.67" cy="338.65" r="1.8" fill="url(#gH)"/>
<circle cx="209.97" cy="321.23" r="1.8" fill="url(#gH)"/>
<circle cx="205.62" cy="331.01" r="1.8" fill="url(#gH)"/>
<circle cx="188.69" cy="323.47" r="1.8" fill="url(#gH)"/>
<circle cx="193.04" cy="313.69" r="1.8" fill="url(#gH)"/>
<circle cx="165.34" cy="354.26" r="1.8" fill="url(#gH)"/>
<circle cx="200.45" cy="384.81" r="1.8" fill="url(#gH)"/>
<circle cx="211.65" cy="376.31" r="1.8" fill="url(#gH)"/>
<circle cx="225.22" cy="385.10" r="1.8" fill="url(#gH)"/>
<circle cx="226.98" cy="399.05" r="1.8" fill="url(#gH)"/>
<circle cx="212.58" cy="406.41" r="1.8" fill="url(#gH)"/>
<circle cx="199.62" cy="400.96" r="1.8" fill="url(#gH)"/>
<circle cx="203.68" cy="359.08" r="1.8" fill="url(#gH)"/>
<circle cx="209.97" cy="367.73" r="1.8" fill="url(#gH)"/>
<circle cx="194.98" cy="378.62" r="1.8" fill="url(#gH)"/>
<circle cx="188.69" cy="369.97" r="1.8" fill="url(#gH)"/>
<circle cx="193.04" cy="406.70" r="1.8" fill="url(#gH)"/>
<circle cx="266.62" cy="284.79" r="1.8" fill="url(#gH)"/>
<circle cx="279.58" cy="290.24" r="1.8" fill="url(#gH)"/>
<circle cx="278.75" cy="306.39" r="1.8" fill="url(#gH)"/>
<circle cx="267.55" cy="314.89" r="1.8" fill="url(#gH)"/>
<circle cx="253.98" cy="306.10" r="1.8" fill="url(#gH)"/>
<circle cx="252.22" cy="292.15" r="1.8" fill="url(#gH)"/>
<circle cx="286.17" cy="284.50" r="1.8" fill="url(#gH)"/>
<circle cx="211.65" cy="283.29" r="1.8" fill="url(#gH)"/>
<circle cx="245.89" cy="307.75" r="1.8" fill="url(#gH)"/>
<circle cx="235.25" cy="308.87" r="1.8" fill="url(#gH)"/>
<circle cx="233.31" cy="290.44" r="1.8" fill="url(#gH)"/>
<circle cx="243.95" cy="289.33" r="1.8" fill="url(#gH)"/>
<circle cx="281.00" cy="338.30" r="1.8" fill="url(#gH)"/>
<circle cx="292.20" cy="329.80" r="1.8" fill="url(#gH)"/>
<circle cx="305.77" cy="338.60" r="1.8" fill="url(#gH)"/>
<circle cx="307.53" cy="352.55" r="1.8" fill="url(#gH)"/>
<circle cx="293.13" cy="359.90" r="1.8" fill="url(#gH)"/>
<circle cx="280.17" cy="354.45" r="1.8" fill="url(#gH)"/>
<circle cx="284.23" cy="312.57" r="1.8" fill="url(#gH)"/>
<circle cx="290.52" cy="321.23" r="1.8" fill="url(#gH)"/>
<circle cx="275.53" cy="332.12" r="1.8" fill="url(#gH)"/>
<circle cx="269.24" cy="323.46" r="1.8" fill="url(#gH)"/>
<circle cx="266.62" cy="377.80" r="1.8" fill="url(#gH)"/>
<circle cx="279.58" cy="383.25" r="1.8" fill="url(#gH)"/>
<circle cx="278.75" cy="399.41" r="1.8" fill="url(#gH)"/>
<circle cx="267.55" cy="407.91" r="1.8" fill="url(#gH)"/>
<circle cx="253.98" cy="399.11" r="1.8" fill="url(#gH)"/>
<circle cx="252.22" cy="385.16" r="1.8" fill="url(#gH)"/>
<circle cx="290.52" cy="367.74" r="1.8" fill="url(#gH)"/>
<circle cx="286.17" cy="377.51" r="1.8" fill="url(#gH)"/>
<circle cx="269.24" cy="369.97" r="1.8" fill="url(#gH)"/>
<circle cx="273.59" cy="360.20" r="1.8" fill="url(#gH)"/>
<circle cx="211.65" cy="376.31" r="1.8" fill="url(#gH)"/>
<circle cx="245.89" cy="400.77" r="1.8" fill="url(#gH)"/>
<circle cx="235.25" cy="401.89" r="1.8" fill="url(#gH)"/>
<circle cx="233.31" cy="383.44" r="1.8" fill="url(#gH)"/>
<circle cx="243.95" cy="382.34" r="1.8" fill="url(#gH)"/>
<circle cx="245.89" cy="307.76" r="1.8" fill="url(#gH)"/>
<circle cx="284.23" cy="405.58" r="1.8" fill="url(#gH)"/>
<circle cx="233.31" cy="383.45" r="1.8" fill="url(#gH)"/>
<circle cx="313.86" cy="336.95" r="1.8" fill="url(#gH)"/>
<circle cx="209.37" cy="294.26" r="2.85" fill="url(#gC)"/>
<circle cx="215.24" cy="293.75" r="2.85" fill="url(#gC)"/>
<circle cx="218.63" cy="298.58" r="2.85" fill="url(#gC)"/>
<circle cx="216.13" cy="303.93" r="2.85" fill="url(#gC)"/>
<circle cx="210.26" cy="304.44" r="2.85" fill="url(#gC)"/>
<circle cx="206.87" cy="299.61" r="2.85" fill="url(#gC)"/>
<circle cx="205.35" cy="290.19" r="2.85" fill="url(#gC)"/>
<circle cx="224.16" cy="297.14" r="2.85" fill="url(#gC)"/>
<circle cx="208.74" cy="309.95" r="2.85" fill="url(#gC)"/>
<circle cx="202.92" cy="280.77" r="2.85" fill="url(#gC)"/>
<circle cx="196.85" cy="281.41" r="2.85" fill="url(#gC)"/>
<circle cx="188.39" cy="340.25" r="2.85" fill="url(#gC)"/>
<circle cx="191.78" cy="345.09" r="2.85" fill="url(#gC)"/>
<circle cx="189.28" cy="350.43" r="2.85" fill="url(#gC)"/>
<circle cx="183.41" cy="350.95" r="2.85" fill="url(#gC)"/>
<circle cx="180.02" cy="346.11" r="2.85" fill="url(#gC)"/>
<circle cx="182.52" cy="340.77" r="2.85" fill="url(#gC)"/>
<circle cx="189.91" cy="334.74" r="2.85" fill="url(#gC)"/>
<circle cx="193.30" cy="354.50" r="2.85" fill="url(#gC)"/>
<circle cx="174.49" cy="347.56" r="2.85" fill="url(#gC)"/>
<circle cx="201.81" cy="316.78" r="2.85" fill="url(#gC)"/>
<circle cx="205.40" cy="321.71" r="2.85" fill="url(#gC)"/>
<circle cx="202.92" cy="327.29" r="2.85" fill="url(#gC)"/>
<circle cx="196.85" cy="327.92" r="2.85" fill="url(#gC)"/>
<circle cx="193.26" cy="322.99" r="2.85" fill="url(#gC)"/>
<circle cx="195.74" cy="317.41" r="2.85" fill="url(#gC)"/>
<circle cx="165.12" cy="344.97" r="2.85" fill="url(#gC)"/>
<circle cx="209.37" cy="387.27" r="2.85" fill="url(#gC)"/>
<circle cx="215.24" cy="386.76" r="2.85" fill="url(#gC)"/>
<circle cx="218.63" cy="391.59" r="2.85" fill="url(#gC)"/>
<circle cx="216.13" cy="396.94" r="2.85" fill="url(#gC)"/>
<circle cx="210.26" cy="397.45" r="2.85" fill="url(#gC)"/>
<circle cx="206.87" cy="392.62" r="2.85" fill="url(#gC)"/>
<circle cx="205.35" cy="383.21" r="2.85" fill="url(#gC)"/>
<circle cx="224.16" cy="390.15" r="2.85" fill="url(#gC)"/>
<circle cx="208.74" cy="402.96" r="2.85" fill="url(#gC)"/>
<circle cx="195.74" cy="363.91" r="2.85" fill="url(#gC)"/>
<circle cx="201.81" cy="363.28" r="2.85" fill="url(#gC)"/>
<circle cx="205.40" cy="368.21" r="2.85" fill="url(#gC)"/>
<circle cx="202.92" cy="373.79" r="2.85" fill="url(#gC)"/>
<circle cx="196.85" cy="374.42" r="2.85" fill="url(#gC)"/>
<circle cx="193.26" cy="369.49" r="2.85" fill="url(#gC)"/>
<circle cx="201.81" cy="409.79" r="2.85" fill="url(#gC)"/>
<circle cx="195.74" cy="410.43" r="2.85" fill="url(#gC)"/>
<circle cx="268.94" cy="293.75" r="2.85" fill="url(#gC)"/>
<circle cx="272.33" cy="298.58" r="2.85" fill="url(#gC)"/>
<circle cx="269.83" cy="303.93" r="2.85" fill="url(#gC)"/>
<circle cx="263.96" cy="304.44" r="2.85" fill="url(#gC)"/>
<circle cx="260.57" cy="299.61" r="2.85" fill="url(#gC)"/>
<circle cx="263.07" cy="294.26" r="2.85" fill="url(#gC)"/>
<circle cx="270.46" cy="288.24" r="2.85" fill="url(#gC)"/>
<circle cx="273.85" cy="307.99" r="2.85" fill="url(#gC)"/>
<circle cx="255.04" cy="301.05" r="2.85" fill="url(#gC)"/>
<circle cx="283.47" cy="280.78" r="2.85" fill="url(#gC)"/>
<circle cx="277.40" cy="281.42" r="2.85" fill="url(#gC)"/>
<circle cx="245.67" cy="298.46" r="2.85" fill="url(#gC)"/>
<circle cx="243.19" cy="304.04" r="2.85" fill="url(#gC)"/>
<circle cx="237.12" cy="304.67" r="2.85" fill="url(#gC)"/>
<circle cx="233.53" cy="299.74" r="2.85" fill="url(#gC)"/>
<circle cx="236.01" cy="294.16" r="2.85" fill="url(#gC)"/>
<circle cx="242.08" cy="293.53" r="2.85" fill="url(#gC)"/>
<circle cx="289.92" cy="340.77" r="2.85" fill="url(#gC)"/>
<circle cx="295.79" cy="340.25" r="2.85" fill="url(#gC)"/>
<circle cx="299.18" cy="345.09" r="2.85" fill="url(#gC)"/>
<circle cx="296.68" cy="350.43" r="2.85" fill="url(#gC)"/>
<circle cx="290.81" cy="350.95" r="2.85" fill="url(#gC)"/>
<circle cx="287.42" cy="346.11" r="2.85" fill="url(#gC)"/>
<circle cx="285.90" cy="336.70" r="2.85" fill="url(#gC)"/>
<circle cx="304.71" cy="343.64" r="2.85" fill="url(#gC)"/>
<circle cx="289.29" cy="356.46" r="2.85" fill="url(#gC)"/>
<circle cx="276.29" cy="317.41" r="2.85" fill="url(#gC)"/>
<circle cx="282.36" cy="316.77" r="2.85" fill="url(#gC)"/>
<circle cx="285.95" cy="321.71" r="2.85" fill="url(#gC)"/>
<circle cx="283.47" cy="327.28" r="2.85" fill="url(#gC)"/>
<circle cx="277.40" cy="327.92" r="2.85" fill="url(#gC)"/>
<circle cx="273.81" cy="322.98" r="2.85" fill="url(#gC)"/>
<circle cx="268.94" cy="386.76" r="2.85" fill="url(#gC)"/>
<circle cx="272.33" cy="391.59" r="2.85" fill="url(#gC)"/>
<circle cx="269.83" cy="396.94" r="2.85" fill="url(#gC)"/>
<circle cx="263.96" cy="397.45" r="2.85" fill="url(#gC)"/>
<circle cx="260.57" cy="392.62" r="2.85" fill="url(#gC)"/>
<circle cx="263.07" cy="387.27" r="2.85" fill="url(#gC)"/>
<circle cx="270.46" cy="381.25" r="2.85" fill="url(#gC)"/>
<circle cx="273.85" cy="401.01" r="2.85" fill="url(#gC)"/>
<circle cx="255.04" cy="394.06" r="2.85" fill="url(#gC)"/>
<circle cx="282.36" cy="363.28" r="2.85" fill="url(#gC)"/>
<circle cx="285.95" cy="368.22" r="2.85" fill="url(#gC)"/>
<circle cx="283.47" cy="373.79" r="2.85" fill="url(#gC)"/>
<circle cx="277.40" cy="374.43" r="2.85" fill="url(#gC)"/>
<circle cx="273.81" cy="369.49" r="2.85" fill="url(#gC)"/>
<circle cx="276.29" cy="363.92" r="2.85" fill="url(#gC)"/>
<circle cx="245.67" cy="391.47" r="2.85" fill="url(#gC)"/>
<circle cx="243.19" cy="397.05" r="2.85" fill="url(#gC)"/>
<circle cx="237.12" cy="397.68" r="2.85" fill="url(#gC)"/>
<circle cx="233.53" cy="392.75" r="2.85" fill="url(#gC)"/>
<circle cx="236.01" cy="387.18" r="2.85" fill="url(#gC)"/>
<circle cx="242.08" cy="386.54" r="2.85" fill="url(#gC)"/>
<circle cx="276.29" cy="410.42" r="2.85" fill="url(#gC)"/>
<circle cx="282.36" cy="409.78" r="2.85" fill="url(#gC)"/>
<circle cx="314.08" cy="346.24" r="2.85" fill="url(#gC)"/>
<circle cx="206.55" cy="284.99" r="2.9" fill="url(#gN)"/>
<circle cx="228.06" cy="300.78" r="2.9" fill="url(#gN)"/>
<circle cx="203.64" cy="311.51" r="2.9" fill="url(#gN)"/>
<circle cx="195.01" cy="333.18" r="2.9" fill="url(#gN)"/>
<circle cx="192.10" cy="359.70" r="2.9" fill="url(#gN)"/>
<circle cx="170.59" cy="343.92" r="2.9" fill="url(#gN)"/>
<circle cx="206.55" cy="378.01" r="2.9" fill="url(#gN)"/>
<circle cx="228.06" cy="393.79" r="2.9" fill="url(#gN)"/>
<circle cx="203.64" cy="404.52" r="2.9" fill="url(#gN)"/>
<circle cx="275.56" cy="286.68" r="2.9" fill="url(#gN)"/>
<circle cx="272.65" cy="313.19" r="2.9" fill="url(#gN)"/>
<circle cx="251.14" cy="297.41" r="2.9" fill="url(#gN)"/>
<circle cx="206.55" cy="284.99" r="2.9" fill="url(#gN)"/>
<circle cx="287.10" cy="331.50" r="2.9" fill="url(#gN)"/>
<circle cx="308.61" cy="347.28" r="2.9" fill="url(#gN)"/>
<circle cx="284.19" cy="358.02" r="2.9" fill="url(#gN)"/>
<circle cx="275.56" cy="379.69" r="2.9" fill="url(#gN)"/>
<circle cx="272.65" cy="406.21" r="2.9" fill="url(#gN)"/>
<circle cx="251.14" cy="390.42" r="2.9" fill="url(#gN)"/>
<circle cx="206.55" cy="378.01" r="2.9" fill="url(#gN)"/>
<circle cx="217.25" cy="288.39" r="3.0" fill="url(#gO)"/>
<circle cx="219.77" cy="308.34" r="3.0" fill="url(#gO)"/>
<circle cx="201.23" cy="300.55" r="3.0" fill="url(#gO)"/>
<circle cx="197.42" cy="344.15" r="3.0" fill="url(#gO)"/>
<circle cx="181.40" cy="356.30" r="3.0" fill="url(#gO)"/>
<circle cx="178.88" cy="336.35" r="3.0" fill="url(#gO)"/>
<circle cx="217.25" cy="381.41" r="3.0" fill="url(#gO)"/>
<circle cx="219.77" cy="401.35" r="3.0" fill="url(#gO)"/>
<circle cx="201.23" cy="393.56" r="3.0" fill="url(#gO)"/>
<circle cx="277.97" cy="297.64" r="3.0" fill="url(#gO)"/>
<circle cx="261.95" cy="309.79" r="3.0" fill="url(#gO)"/>
<circle cx="259.43" cy="289.85" r="3.0" fill="url(#gO)"/>
<circle cx="297.80" cy="334.90" r="3.0" fill="url(#gO)"/>
<circle cx="300.32" cy="354.85" r="3.0" fill="url(#gO)"/>
<circle cx="281.78" cy="347.05" r="3.0" fill="url(#gO)"/>
<circle cx="277.97" cy="390.65" r="3.0" fill="url(#gO)"/>
<circle cx="261.95" cy="402.81" r="3.0" fill="url(#gO)"/>
<circle cx="259.43" cy="382.86" r="3.0" fill="url(#gO)"/>
</g>
<g clip-path="url(#cc2)">
<circle cx="178.30" cy="300.90" r="1.7" fill="#fff" stroke="#a8a8a8" stroke-width="0.55"/>
<circle cx="181.40" cy="299.70" r="1.7" fill="#fff" stroke="#a8a8a8" stroke-width="0.55"/>
<circle cx="252.70" cy="325.20" r="1.7" fill="#fff" stroke="#a8a8a8" stroke-width="0.55"/>
<circle cx="253.20" cy="327.90" r="1.7" fill="#fff" stroke="#a8a8a8" stroke-width="0.55"/>
<circle cx="243.90" cy="336.90" r="1.7" fill="#fff" stroke="#a8a8a8" stroke-width="0.55"/>
<circle cx="245.10" cy="337.70" r="1.7" fill="#fff" stroke="#a8a8a8" stroke-width="0.55"/>
<circle cx="223.50" cy="348.00" r="1.7" fill="#fff" stroke="#a8a8a8" stroke-width="0.55"/>
<circle cx="222.90" cy="350.10" r="1.7" fill="#fff" stroke="#a8a8a8" stroke-width="0.55"/>
<circle cx="228.20" cy="349.40" r="1.7" fill="#fff" stroke="#a8a8a8" stroke-width="0.55"/>
<circle cx="231.10" cy="349.70" r="1.7" fill="#fff" stroke="#a8a8a8" stroke-width="0.55"/>
<circle cx="249.70" cy="360.20" r="1.7" fill="#fff" stroke="#a8a8a8" stroke-width="0.55"/>
<circle cx="250.60" cy="362.90" r="1.7" fill="#fff" stroke="#a8a8a8" stroke-width="0.55"/>
<circle cx="299.70" cy="301.20" r="1.7" fill="#fff" stroke="#a8a8a8" stroke-width="0.55"/>
<circle cx="302.10" cy="300.20" r="1.7" fill="#fff" stroke="#a8a8a8" stroke-width="0.55"/>
<circle cx="193.20" cy="298.80" r="3.1" fill="url(#gO2)"/>
<circle cx="286.60" cy="301.10" r="3.1" fill="url(#gO2)"/>
<circle cx="223.00" cy="317.90" r="3.1" fill="url(#gO2)"/>
<circle cx="221.50" cy="330.20" r="3.1" fill="url(#gO2)"/>
<circle cx="306.10" cy="328.10" r="3.1" fill="url(#gO2)"/>
<circle cx="213.60" cy="339.50" r="3.1" fill="url(#gO2)"/>
<circle cx="213.10" cy="342.40" r="3.1" fill="url(#gO2)"/>
<circle cx="272.60" cy="342.10" r="3.1" fill="url(#gO2)"/>
<circle cx="174.80" cy="361.40" r="3.1" fill="url(#gO2)"/>
<circle cx="215.10" cy="357.00" r="3.1" fill="url(#gO2)"/>
<circle cx="300.50" cy="366.30" r="3.1" fill="url(#gO2)"/>
<circle cx="228.50" cy="373.20" r="3.1" fill="url(#gO2)"/>
<circle cx="192.50" cy="387.10" r="3.1" fill="url(#gO2)"/>
<circle cx="288.70" cy="394.90" r="3.1" fill="url(#gO2)"/>
</g>
<rect x="15" y="281.6" width="143" height="125.4" fill="none" stroke="#111" stroke-width="1.4"/>
<rect x="168.6" y="281.6" width="142.7" height="125.4" fill="none" stroke="#111" stroke-width="1.4"/>
<g clip-path="url(#cd1)">
<rect x="332.40" y="285.70" width="167.30" height="5.2" fill="#7c7c7c"/>
<rect x="332.40" y="287.10" width="167.30" height="1.4" fill="#a4a4a4"/>
<circle cx="328.70" cy="288.30" r="2.6" fill="url(#gD)"/>
<circle cx="349.50" cy="288.30" r="2.6" fill="url(#gD)"/>
<circle cx="357.60" cy="288.30" r="2.6" fill="url(#gD)"/>
<circle cx="369.50" cy="288.30" r="2.6" fill="url(#gD)"/>
<circle cx="372.60" cy="288.30" r="2.6" fill="url(#gD)"/>
<circle cx="375.70" cy="288.30" r="2.6" fill="url(#gD)"/>
<circle cx="378.80" cy="288.30" r="2.6" fill="url(#gD)"/>
<circle cx="391.80" cy="288.30" r="2.6" fill="url(#gD)"/>
<circle cx="399.00" cy="288.30" r="2.6" fill="url(#gD)"/>
<circle cx="412.10" cy="288.30" r="2.6" fill="url(#gD)"/>
<circle cx="432.90" cy="288.30" r="2.6" fill="url(#gD)"/>
<circle cx="441.00" cy="288.30" r="2.6" fill="url(#gD)"/>
<circle cx="452.90" cy="288.30" r="2.6" fill="url(#gD)"/>
<circle cx="456.00" cy="288.30" r="2.6" fill="url(#gD)"/>
<circle cx="459.10" cy="288.30" r="2.6" fill="url(#gD)"/>
<circle cx="462.20" cy="288.30" r="2.6" fill="url(#gD)"/>
<circle cx="475.20" cy="288.30" r="2.6" fill="url(#gD)"/>
<circle cx="482.40" cy="288.30" r="2.6" fill="url(#gD)"/>
<circle cx="495.50" cy="288.30" r="2.6" fill="url(#gD)"/>
<circle cx="339.90" cy="288.30" r="2.0" fill="#fff" stroke="#a81010" stroke-width="1.0"/>
<circle cx="343.80" cy="288.30" r="2.3" fill="#2233ee"/>
<circle cx="346.20" cy="288.30" r="1.9" fill="#fff" stroke="#777" stroke-width="0.5"/>
<circle cx="354.00" cy="288.30" r="1.9" fill="#fff" stroke="#777" stroke-width="0.5"/>
<circle cx="360.50" cy="288.30" r="2.0" fill="#fff" stroke="#2a2ab0" stroke-width="0.9"/>
<circle cx="365.60" cy="288.30" r="2.0" fill="#fff" stroke="#a81010" stroke-width="1.0"/>
<circle cx="387.60" cy="288.30" r="2.0" fill="#fff" stroke="#2a2ab0" stroke-width="0.9"/>
<circle cx="395.90" cy="288.30" r="1.9" fill="#fff" stroke="#777" stroke-width="0.5"/>
<circle cx="403.20" cy="288.30" r="2.0" fill="#fff" stroke="#2a2ab0" stroke-width="0.9"/>
<circle cx="408.20" cy="288.30" r="1.9" fill="#fff" stroke="#777" stroke-width="0.5"/>
<circle cx="423.30" cy="288.30" r="2.0" fill="#fff" stroke="#a81010" stroke-width="1.0"/>
<circle cx="427.20" cy="288.30" r="2.3" fill="#2233ee"/>
<circle cx="429.60" cy="288.30" r="1.9" fill="#fff" stroke="#777" stroke-width="0.5"/>
<circle cx="437.40" cy="288.30" r="1.9" fill="#fff" stroke="#777" stroke-width="0.5"/>
<circle cx="443.90" cy="288.30" r="2.0" fill="#fff" stroke="#2a2ab0" stroke-width="0.9"/>
<circle cx="449.00" cy="288.30" r="2.0" fill="#fff" stroke="#a81010" stroke-width="1.0"/>
<circle cx="471.00" cy="288.30" r="2.0" fill="#fff" stroke="#2a2ab0" stroke-width="0.9"/>
<circle cx="479.30" cy="288.30" r="1.9" fill="#fff" stroke="#777" stroke-width="0.5"/>
<circle cx="486.60" cy="288.30" r="2.0" fill="#fff" stroke="#2a2ab0" stroke-width="0.9"/>
<circle cx="491.60" cy="288.30" r="1.9" fill="#fff" stroke="#777" stroke-width="0.5"/>
<circle cx="334.00" cy="288.30" r="2.9" fill="url(#gO)"/>
<circle cx="384.50" cy="288.30" r="2.5" fill="url(#gO)"/>
<circle cx="382.50" cy="288.30" r="1.3" fill="#fff"/>
<circle cx="417.40" cy="288.30" r="2.9" fill="url(#gO)"/>
<circle cx="467.90" cy="288.30" r="2.5" fill="url(#gO)"/>
<circle cx="465.90" cy="288.30" r="1.3" fill="#fff"/>
<circle cx="500.80" cy="288.30" r="2.9" fill="url(#gO)"/>
<rect x="332.40" y="298.23" width="167.30" height="5.2" fill="#7c7c7c"/>
<rect x="332.40" y="299.63" width="167.30" height="1.4" fill="#a4a4a4"/>
<circle cx="328.70" cy="300.83" r="2.6" fill="url(#gD)"/>
<circle cx="349.50" cy="300.83" r="2.6" fill="url(#gD)"/>
<circle cx="357.60" cy="300.83" r="2.6" fill="url(#gD)"/>
<circle cx="369.50" cy="300.83" r="2.6" fill="url(#gD)"/>
<circle cx="372.60" cy="300.83" r="2.6" fill="url(#gD)"/>
<circle cx="375.70" cy="300.83" r="2.6" fill="url(#gD)"/>
<circle cx="378.80" cy="300.83" r="2.6" fill="url(#gD)"/>
<circle cx="391.80" cy="300.83" r="2.6" fill="url(#gD)"/>
<circle cx="399.00" cy="300.83" r="2.6" fill="url(#gD)"/>
<circle cx="412.10" cy="300.83" r="2.6" fill="url(#gD)"/>
<circle cx="432.90" cy="300.83" r="2.6" fill="url(#gD)"/>
<circle cx="441.00" cy="300.83" r="2.6" fill="url(#gD)"/>
<circle cx="452.90" cy="300.83" r="2.6" fill="url(#gD)"/>
<circle cx="456.00" cy="300.83" r="2.6" fill="url(#gD)"/>
<circle cx="459.10" cy="300.83" r="2.6" fill="url(#gD)"/>
<circle cx="462.20" cy="300.83" r="2.6" fill="url(#gD)"/>
<circle cx="475.20" cy="300.83" r="2.6" fill="url(#gD)"/>
<circle cx="482.40" cy="300.83" r="2.6" fill="url(#gD)"/>
<circle cx="495.50" cy="300.83" r="2.6" fill="url(#gD)"/>
<circle cx="339.90" cy="300.83" r="2.0" fill="#fff" stroke="#a81010" stroke-width="1.0"/>
<circle cx="343.80" cy="300.83" r="2.3" fill="#2233ee"/>
<circle cx="346.20" cy="300.83" r="1.9" fill="#fff" stroke="#777" stroke-width="0.5"/>
<circle cx="354.00" cy="300.83" r="1.9" fill="#fff" stroke="#777" stroke-width="0.5"/>
<circle cx="360.50" cy="300.83" r="2.0" fill="#fff" stroke="#2a2ab0" stroke-width="0.9"/>
<circle cx="365.60" cy="300.83" r="2.0" fill="#fff" stroke="#a81010" stroke-width="1.0"/>
<circle cx="387.60" cy="300.83" r="2.0" fill="#fff" stroke="#2a2ab0" stroke-width="0.9"/>
<circle cx="395.90" cy="300.83" r="1.9" fill="#fff" stroke="#777" stroke-width="0.5"/>
<circle cx="403.20" cy="300.83" r="2.0" fill="#fff" stroke="#2a2ab0" stroke-width="0.9"/>
<circle cx="408.20" cy="300.83" r="1.9" fill="#fff" stroke="#777" stroke-width="0.5"/>
<circle cx="423.30" cy="300.83" r="2.0" fill="#fff" stroke="#a81010" stroke-width="1.0"/>
<circle cx="427.20" cy="300.83" r="2.3" fill="#2233ee"/>
<circle cx="429.60" cy="300.83" r="1.9" fill="#fff" stroke="#777" stroke-width="0.5"/>
<circle cx="437.40" cy="300.83" r="1.9" fill="#fff" stroke="#777" stroke-width="0.5"/>
<circle cx="443.90" cy="300.83" r="2.0" fill="#fff" stroke="#2a2ab0" stroke-width="0.9"/>
<circle cx="449.00" cy="300.83" r="2.0" fill="#fff" stroke="#a81010" stroke-width="1.0"/>
<circle cx="471.00" cy="300.83" r="2.0" fill="#fff" stroke="#2a2ab0" stroke-width="0.9"/>
<circle cx="479.30" cy="300.83" r="1.9" fill="#fff" stroke="#777" stroke-width="0.5"/>
<circle cx="486.60" cy="300.83" r="2.0" fill="#fff" stroke="#2a2ab0" stroke-width="0.9"/>
<circle cx="491.60" cy="300.83" r="1.9" fill="#fff" stroke="#777" stroke-width="0.5"/>
<circle cx="334.00" cy="300.83" r="2.9" fill="url(#gO)"/>
<circle cx="384.50" cy="300.83" r="2.5" fill="url(#gO)"/>
<circle cx="382.50" cy="300.83" r="1.3" fill="#fff"/>
<circle cx="417.40" cy="300.83" r="2.9" fill="url(#gO)"/>
<circle cx="467.90" cy="300.83" r="2.5" fill="url(#gO)"/>
<circle cx="465.90" cy="300.83" r="1.3" fill="#fff"/>
<circle cx="500.80" cy="300.83" r="2.9" fill="url(#gO)"/>
<rect x="332.40" y="310.76" width="167.30" height="5.2" fill="#7c7c7c"/>
<rect x="332.40" y="312.16" width="167.30" height="1.4" fill="#a4a4a4"/>
<circle cx="328.70" cy="313.36" r="2.6" fill="url(#gD)"/>
<circle cx="349.50" cy="313.36" r="2.6" fill="url(#gD)"/>
<circle cx="357.60" cy="313.36" r="2.6" fill="url(#gD)"/>
<circle cx="369.50" cy="313.36" r="2.6" fill="url(#gD)"/>
<circle cx="372.60" cy="313.36" r="2.6" fill="url(#gD)"/>
<circle cx="375.70" cy="313.36" r="2.6" fill="url(#gD)"/>
<circle cx="378.80" cy="313.36" r="2.6" fill="url(#gD)"/>
<circle cx="391.80" cy="313.36" r="2.6" fill="url(#gD)"/>
<circle cx="399.00" cy="313.36" r="2.6" fill="url(#gD)"/>
<circle cx="412.10" cy="313.36" r="2.6" fill="url(#gD)"/>
<circle cx="432.90" cy="313.36" r="2.6" fill="url(#gD)"/>
<circle cx="441.00" cy="313.36" r="2.6" fill="url(#gD)"/>
<circle cx="452.90" cy="313.36" r="2.6" fill="url(#gD)"/>
<circle cx="456.00" cy="313.36" r="2.6" fill="url(#gD)"/>
<circle cx="459.10" cy="313.36" r="2.6" fill="url(#gD)"/>
<circle cx="462.20" cy="313.36" r="2.6" fill="url(#gD)"/>
<circle cx="475.20" cy="313.36" r="2.6" fill="url(#gD)"/>
<circle cx="482.40" cy="313.36" r="2.6" fill="url(#gD)"/>
<circle cx="495.50" cy="313.36" r="2.6" fill="url(#gD)"/>
<circle cx="339.90" cy="313.36" r="2.0" fill="#fff" stroke="#a81010" stroke-width="1.0"/>
<circle cx="343.80" cy="313.36" r="2.3" fill="#2233ee"/>
<circle cx="346.20" cy="313.36" r="1.9" fill="#fff" stroke="#777" stroke-width="0.5"/>
<circle cx="354.00" cy="313.36" r="1.9" fill="#fff" stroke="#777" stroke-width="0.5"/>
<circle cx="360.50" cy="313.36" r="2.0" fill="#fff" stroke="#2a2ab0" stroke-width="0.9"/>
<circle cx="365.60" cy="313.36" r="2.0" fill="#fff" stroke="#a81010" stroke-width="1.0"/>
<circle cx="387.60" cy="313.36" r="2.0" fill="#fff" stroke="#2a2ab0" stroke-width="0.9"/>
<circle cx="395.90" cy="313.36" r="1.9" fill="#fff" stroke="#777" stroke-width="0.5"/>
<circle cx="403.20" cy="313.36" r="2.0" fill="#fff" stroke="#2a2ab0" stroke-width="0.9"/>
<circle cx="408.20" cy="313.36" r="1.9" fill="#fff" stroke="#777" stroke-width="0.5"/>
<circle cx="423.30" cy="313.36" r="2.0" fill="#fff" stroke="#a81010" stroke-width="1.0"/>
<circle cx="427.20" cy="313.36" r="2.3" fill="#2233ee"/>
<circle cx="429.60" cy="313.36" r="1.9" fill="#fff" stroke="#777" stroke-width="0.5"/>
<circle cx="437.40" cy="313.36" r="1.9" fill="#fff" stroke="#777" stroke-width="0.5"/>
<circle cx="443.90" cy="313.36" r="2.0" fill="#fff" stroke="#2a2ab0" stroke-width="0.9"/>
<circle cx="449.00" cy="313.36" r="2.0" fill="#fff" stroke="#a81010" stroke-width="1.0"/>
<circle cx="471.00" cy="313.36" r="2.0" fill="#fff" stroke="#2a2ab0" stroke-width="0.9"/>
<circle cx="479.30" cy="313.36" r="1.9" fill="#fff" stroke="#777" stroke-width="0.5"/>
<circle cx="486.60" cy="313.36" r="2.0" fill="#fff" stroke="#2a2ab0" stroke-width="0.9"/>
<circle cx="491.60" cy="313.36" r="1.9" fill="#fff" stroke="#777" stroke-width="0.5"/>
<circle cx="334.00" cy="313.36" r="2.9" fill="url(#gO)"/>
<circle cx="384.50" cy="313.36" r="2.5" fill="url(#gO)"/>
<circle cx="382.50" cy="313.36" r="1.3" fill="#fff"/>
<circle cx="417.40" cy="313.36" r="2.9" fill="url(#gO)"/>
<circle cx="467.90" cy="313.36" r="2.5" fill="url(#gO)"/>
<circle cx="465.90" cy="313.36" r="1.3" fill="#fff"/>
<circle cx="500.80" cy="313.36" r="2.9" fill="url(#gO)"/>
<rect x="332.40" y="323.29" width="167.30" height="5.2" fill="#7c7c7c"/>
<rect x="332.40" y="324.69" width="167.30" height="1.4" fill="#a4a4a4"/>
<circle cx="328.70" cy="325.89" r="2.6" fill="url(#gD)"/>
<circle cx="349.50" cy="325.89" r="2.6" fill="url(#gD)"/>
<circle cx="357.60" cy="325.89" r="2.6" fill="url(#gD)"/>
<circle cx="369.50" cy="325.89" r="2.6" fill="url(#gD)"/>
<circle cx="372.60" cy="325.89" r="2.6" fill="url(#gD)"/>
<circle cx="375.70" cy="325.89" r="2.6" fill="url(#gD)"/>
<circle cx="378.80" cy="325.89" r="2.6" fill="url(#gD)"/>
<circle cx="391.80" cy="325.89" r="2.6" fill="url(#gD)"/>
<circle cx="399.00" cy="325.89" r="2.6" fill="url(#gD)"/>
<circle cx="412.10" cy="325.89" r="2.6" fill="url(#gD)"/>
<circle cx="432.90" cy="325.89" r="2.6" fill="url(#gD)"/>
<circle cx="441.00" cy="325.89" r="2.6" fill="url(#gD)"/>
<circle cx="452.90" cy="325.89" r="2.6" fill="url(#gD)"/>
<circle cx="456.00" cy="325.89" r="2.6" fill="url(#gD)"/>
<circle cx="459.10" cy="325.89" r="2.6" fill="url(#gD)"/>
<circle cx="462.20" cy="325.89" r="2.6" fill="url(#gD)"/>
<circle cx="475.20" cy="325.89" r="2.6" fill="url(#gD)"/>
<circle cx="482.40" cy="325.89" r="2.6" fill="url(#gD)"/>
<circle cx="495.50" cy="325.89" r="2.6" fill="url(#gD)"/>
<circle cx="339.90" cy="325.89" r="2.0" fill="#fff" stroke="#a81010" stroke-width="1.0"/>
<circle cx="343.80" cy="325.89" r="2.3" fill="#2233ee"/>
<circle cx="346.20" cy="325.89" r="1.9" fill="#fff" stroke="#777" stroke-width="0.5"/>
<circle cx="354.00" cy="325.89" r="1.9" fill="#fff" stroke="#777" stroke-width="0.5"/>
<circle cx="360.50" cy="325.89" r="2.0" fill="#fff" stroke="#2a2ab0" stroke-width="0.9"/>
<circle cx="365.60" cy="325.89" r="2.0" fill="#fff" stroke="#a81010" stroke-width="1.0"/>
<circle cx="387.60" cy="325.89" r="2.0" fill="#fff" stroke="#2a2ab0" stroke-width="0.9"/>
<circle cx="395.90" cy="325.89" r="1.9" fill="#fff" stroke="#777" stroke-width="0.5"/>
<circle cx="403.20" cy="325.89" r="2.0" fill="#fff" stroke="#2a2ab0" stroke-width="0.9"/>
<circle cx="408.20" cy="325.89" r="1.9" fill="#fff" stroke="#777" stroke-width="0.5"/>
<circle cx="423.30" cy="325.89" r="2.0" fill="#fff" stroke="#a81010" stroke-width="1.0"/>
<circle cx="427.20" cy="325.89" r="2.3" fill="#2233ee"/>
<circle cx="429.60" cy="325.89" r="1.9" fill="#fff" stroke="#777" stroke-width="0.5"/>
<circle cx="437.40" cy="325.89" r="1.9" fill="#fff" stroke="#777" stroke-width="0.5"/>
<circle cx="443.90" cy="325.89" r="2.0" fill="#fff" stroke="#2a2ab0" stroke-width="0.9"/>
<circle cx="449.00" cy="325.89" r="2.0" fill="#fff" stroke="#a81010" stroke-width="1.0"/>
<circle cx="471.00" cy="325.89" r="2.0" fill="#fff" stroke="#2a2ab0" stroke-width="0.9"/>
<circle cx="479.30" cy="325.89" r="1.9" fill="#fff" stroke="#777" stroke-width="0.5"/>
<circle cx="486.60" cy="325.89" r="2.0" fill="#fff" stroke="#2a2ab0" stroke-width="0.9"/>
<circle cx="491.60" cy="325.89" r="1.9" fill="#fff" stroke="#777" stroke-width="0.5"/>
<circle cx="334.00" cy="325.89" r="2.9" fill="url(#gO)"/>
<circle cx="384.50" cy="325.89" r="2.5" fill="url(#gO)"/>
<circle cx="382.50" cy="325.89" r="1.3" fill="#fff"/>
<circle cx="417.40" cy="325.89" r="2.9" fill="url(#gO)"/>
<circle cx="467.90" cy="325.89" r="2.5" fill="url(#gO)"/>
<circle cx="465.90" cy="325.89" r="1.3" fill="#fff"/>
<circle cx="500.80" cy="325.89" r="2.9" fill="url(#gO)"/>
<rect x="332.40" y="335.82" width="167.30" height="5.2" fill="#7c7c7c"/>
<rect x="332.40" y="337.22" width="167.30" height="1.4" fill="#a4a4a4"/>
<circle cx="328.70" cy="338.42" r="2.6" fill="url(#gD)"/>
<circle cx="349.50" cy="338.42" r="2.6" fill="url(#gD)"/>
<circle cx="357.60" cy="338.42" r="2.6" fill="url(#gD)"/>
<circle cx="369.50" cy="338.42" r="2.6" fill="url(#gD)"/>
<circle cx="372.60" cy="338.42" r="2.6" fill="url(#gD)"/>
<circle cx="375.70" cy="338.42" r="2.6" fill="url(#gD)"/>
<circle cx="378.80" cy="338.42" r="2.6" fill="url(#gD)"/>
<circle cx="391.80" cy="338.42" r="2.6" fill="url(#gD)"/>
<circle cx="399.00" cy="338.42" r="2.6" fill="url(#gD)"/>
<circle cx="412.10" cy="338.42" r="2.6" fill="url(#gD)"/>
<circle cx="432.90" cy="338.42" r="2.6" fill="url(#gD)"/>
<circle cx="441.00" cy="338.42" r="2.6" fill="url(#gD)"/>
<circle cx="452.90" cy="338.42" r="2.6" fill="url(#gD)"/>
<circle cx="456.00" cy="338.42" r="2.6" fill="url(#gD)"/>
<circle cx="459.10" cy="338.42" r="2.6" fill="url(#gD)"/>
<circle cx="462.20" cy="338.42" r="2.6" fill="url(#gD)"/>
<circle cx="475.20" cy="338.42" r="2.6" fill="url(#gD)"/>
<circle cx="482.40" cy="338.42" r="2.6" fill="url(#gD)"/>
<circle cx="495.50" cy="338.42" r="2.6" fill="url(#gD)"/>
<circle cx="339.90" cy="338.42" r="2.0" fill="#fff" stroke="#a81010" stroke-width="1.0"/>
<circle cx="343.80" cy="338.42" r="2.3" fill="#2233ee"/>
<circle cx="346.20" cy="338.42" r="1.9" fill="#fff" stroke="#777" stroke-width="0.5"/>
<circle cx="354.00" cy="338.42" r="1.9" fill="#fff" stroke="#777" stroke-width="0.5"/>
<circle cx="360.50" cy="338.42" r="2.0" fill="#fff" stroke="#2a2ab0" stroke-width="0.9"/>
<circle cx="365.60" cy="338.42" r="2.0" fill="#fff" stroke="#a81010" stroke-width="1.0"/>
<circle cx="387.60" cy="338.42" r="2.0" fill="#fff" stroke="#2a2ab0" stroke-width="0.9"/>
<circle cx="395.90" cy="338.42" r="1.9" fill="#fff" stroke="#777" stroke-width="0.5"/>
<circle cx="403.20" cy="338.42" r="2.0" fill="#fff" stroke="#2a2ab0" stroke-width="0.9"/>
<circle cx="408.20" cy="338.42" r="1.9" fill="#fff" stroke="#777" stroke-width="0.5"/>
<circle cx="423.30" cy="338.42" r="2.0" fill="#fff" stroke="#a81010" stroke-width="1.0"/>
<circle cx="427.20" cy="338.42" r="2.3" fill="#2233ee"/>
<circle cx="429.60" cy="338.42" r="1.9" fill="#fff" stroke="#777" stroke-width="0.5"/>
<circle cx="437.40" cy="338.42" r="1.9" fill="#fff" stroke="#777" stroke-width="0.5"/>
<circle cx="443.90" cy="338.42" r="2.0" fill="#fff" stroke="#2a2ab0" stroke-width="0.9"/>
<circle cx="449.00" cy="338.42" r="2.0" fill="#fff" stroke="#a81010" stroke-width="1.0"/>
<circle cx="471.00" cy="338.42" r="2.0" fill="#fff" stroke="#2a2ab0" stroke-width="0.9"/>
<circle cx="479.30" cy="338.42" r="1.9" fill="#fff" stroke="#777" stroke-width="0.5"/>
<circle cx="486.60" cy="338.42" r="2.0" fill="#fff" stroke="#2a2ab0" stroke-width="0.9"/>
<circle cx="491.60" cy="338.42" r="1.9" fill="#fff" stroke="#777" stroke-width="0.5"/>
<circle cx="334.00" cy="338.42" r="2.9" fill="url(#gO)"/>
<circle cx="384.50" cy="338.42" r="2.5" fill="url(#gO)"/>
<circle cx="382.50" cy="338.42" r="1.3" fill="#fff"/>
<circle cx="417.40" cy="338.42" r="2.9" fill="url(#gO)"/>
<circle cx="467.90" cy="338.42" r="2.5" fill="url(#gO)"/>
<circle cx="465.90" cy="338.42" r="1.3" fill="#fff"/>
<circle cx="500.80" cy="338.42" r="2.9" fill="url(#gO)"/>
<rect x="332.40" y="348.35" width="167.30" height="5.2" fill="#7c7c7c"/>
<rect x="332.40" y="349.75" width="167.30" height="1.4" fill="#a4a4a4"/>
<circle cx="328.70" cy="350.95" r="2.6" fill="url(#gD)"/>
<circle cx="349.50" cy="350.95" r="2.6" fill="url(#gD)"/>
<circle cx="357.60" cy="350.95" r="2.6" fill="url(#gD)"/>
<circle cx="369.50" cy="350.95" r="2.6" fill="url(#gD)"/>
<circle cx="372.60" cy="350.95" r="2.6" fill="url(#gD)"/>
<circle cx="375.70" cy="350.95" r="2.6" fill="url(#gD)"/>
<circle cx="378.80" cy="350.95" r="2.6" fill="url(#gD)"/>
<circle cx="391.80" cy="350.95" r="2.6" fill="url(#gD)"/>
<circle cx="399.00" cy="350.95" r="2.6" fill="url(#gD)"/>
<circle cx="412.10" cy="350.95" r="2.6" fill="url(#gD)"/>
<circle cx="432.90" cy="350.95" r="2.6" fill="url(#gD)"/>
<circle cx="441.00" cy="350.95" r="2.6" fill="url(#gD)"/>
<circle cx="452.90" cy="350.95" r="2.6" fill="url(#gD)"/>
<circle cx="456.00" cy="350.95" r="2.6" fill="url(#gD)"/>
<circle cx="459.10" cy="350.95" r="2.6" fill="url(#gD)"/>
<circle cx="462.20" cy="350.95" r="2.6" fill="url(#gD)"/>
<circle cx="475.20" cy="350.95" r="2.6" fill="url(#gD)"/>
<circle cx="482.40" cy="350.95" r="2.6" fill="url(#gD)"/>
<circle cx="495.50" cy="350.95" r="2.6" fill="url(#gD)"/>
<circle cx="339.90" cy="350.95" r="2.0" fill="#fff" stroke="#a81010" stroke-width="1.0"/>
<circle cx="343.80" cy="350.95" r="2.3" fill="#2233ee"/>
<circle cx="346.20" cy="350.95" r="1.9" fill="#fff" stroke="#777" stroke-width="0.5"/>
<circle cx="354.00" cy="350.95" r="1.9" fill="#fff" stroke="#777" stroke-width="0.5"/>
<circle cx="360.50" cy="350.95" r="2.0" fill="#fff" stroke="#2a2ab0" stroke-width="0.9"/>
<circle cx="365.60" cy="350.95" r="2.0" fill="#fff" stroke="#a81010" stroke-width="1.0"/>
<circle cx="387.60" cy="350.95" r="2.0" fill="#fff" stroke="#2a2ab0" stroke-width="0.9"/>
<circle cx="395.90" cy="350.95" r="1.9" fill="#fff" stroke="#777" stroke-width="0.5"/>
<circle cx="403.20" cy="350.95" r="2.0" fill="#fff" stroke="#2a2ab0" stroke-width="0.9"/>
<circle cx="408.20" cy="350.95" r="1.9" fill="#fff" stroke="#777" stroke-width="0.5"/>
<circle cx="423.30" cy="350.95" r="2.0" fill="#fff" stroke="#a81010" stroke-width="1.0"/>
<circle cx="427.20" cy="350.95" r="2.3" fill="#2233ee"/>
<circle cx="429.60" cy="350.95" r="1.9" fill="#fff" stroke="#777" stroke-width="0.5"/>
<circle cx="437.40" cy="350.95" r="1.9" fill="#fff" stroke="#777" stroke-width="0.5"/>
<circle cx="443.90" cy="350.95" r="2.0" fill="#fff" stroke="#2a2ab0" stroke-width="0.9"/>
<circle cx="449.00" cy="350.95" r="2.0" fill="#fff" stroke="#a81010" stroke-width="1.0"/>
<circle cx="471.00" cy="350.95" r="2.0" fill="#fff" stroke="#2a2ab0" stroke-width="0.9"/>
<circle cx="479.30" cy="350.95" r="1.9" fill="#fff" stroke="#777" stroke-width="0.5"/>
<circle cx="486.60" cy="350.95" r="2.0" fill="#fff" stroke="#2a2ab0" stroke-width="0.9"/>
<circle cx="491.60" cy="350.95" r="1.9" fill="#fff" stroke="#777" stroke-width="0.5"/>
<circle cx="334.00" cy="350.95" r="2.9" fill="url(#gO)"/>
<circle cx="384.50" cy="350.95" r="2.5" fill="url(#gO)"/>
<circle cx="382.50" cy="350.95" r="1.3" fill="#fff"/>
<circle cx="417.40" cy="350.95" r="2.9" fill="url(#gO)"/>
<circle cx="467.90" cy="350.95" r="2.5" fill="url(#gO)"/>
<circle cx="465.90" cy="350.95" r="1.3" fill="#fff"/>
<circle cx="500.80" cy="350.95" r="2.9" fill="url(#gO)"/>
<rect x="332.40" y="360.88" width="167.30" height="5.2" fill="#7c7c7c"/>
<rect x="332.40" y="362.28" width="167.30" height="1.4" fill="#a4a4a4"/>
<circle cx="328.70" cy="363.48" r="2.6" fill="url(#gD)"/>
<circle cx="349.50" cy="363.48" r="2.6" fill="url(#gD)"/>
<circle cx="357.60" cy="363.48" r="2.6" fill="url(#gD)"/>
<circle cx="369.50" cy="363.48" r="2.6" fill="url(#gD)"/>
<circle cx="372.60" cy="363.48" r="2.6" fill="url(#gD)"/>
<circle cx="375.70" cy="363.48" r="2.6" fill="url(#gD)"/>
<circle cx="378.80" cy="363.48" r="2.6" fill="url(#gD)"/>
<circle cx="391.80" cy="363.48" r="2.6" fill="url(#gD)"/>
<circle cx="399.00" cy="363.48" r="2.6" fill="url(#gD)"/>
<circle cx="412.10" cy="363.48" r="2.6" fill="url(#gD)"/>
<circle cx="432.90" cy="363.48" r="2.6" fill="url(#gD)"/>
<circle cx="441.00" cy="363.48" r="2.6" fill="url(#gD)"/>
<circle cx="452.90" cy="363.48" r="2.6" fill="url(#gD)"/>
<circle cx="456.00" cy="363.48" r="2.6" fill="url(#gD)"/>
<circle cx="459.10" cy="363.48" r="2.6" fill="url(#gD)"/>
<circle cx="462.20" cy="363.48" r="2.6" fill="url(#gD)"/>
<circle cx="475.20" cy="363.48" r="2.6" fill="url(#gD)"/>
<circle cx="482.40" cy="363.48" r="2.6" fill="url(#gD)"/>
<circle cx="495.50" cy="363.48" r="2.6" fill="url(#gD)"/>
<circle cx="339.90" cy="363.48" r="2.0" fill="#fff" stroke="#a81010" stroke-width="1.0"/>
<circle cx="343.80" cy="363.48" r="2.3" fill="#2233ee"/>
<circle cx="346.20" cy="363.48" r="1.9" fill="#fff" stroke="#777" stroke-width="0.5"/>
<circle cx="354.00" cy="363.48" r="1.9" fill="#fff" stroke="#777" stroke-width="0.5"/>
<circle cx="360.50" cy="363.48" r="2.0" fill="#fff" stroke="#2a2ab0" stroke-width="0.9"/>
<circle cx="365.60" cy="363.48" r="2.0" fill="#fff" stroke="#a81010" stroke-width="1.0"/>
<circle cx="387.60" cy="363.48" r="2.0" fill="#fff" stroke="#2a2ab0" stroke-width="0.9"/>
<circle cx="395.90" cy="363.48" r="1.9" fill="#fff" stroke="#777" stroke-width="0.5"/>
<circle cx="403.20" cy="363.48" r="2.0" fill="#fff" stroke="#2a2ab0" stroke-width="0.9"/>
<circle cx="408.20" cy="363.48" r="1.9" fill="#fff" stroke="#777" stroke-width="0.5"/>
<circle cx="423.30" cy="363.48" r="2.0" fill="#fff" stroke="#a81010" stroke-width="1.0"/>
<circle cx="427.20" cy="363.48" r="2.3" fill="#2233ee"/>
<circle cx="429.60" cy="363.48" r="1.9" fill="#fff" stroke="#777" stroke-width="0.5"/>
<circle cx="437.40" cy="363.48" r="1.9" fill="#fff" stroke="#777" stroke-width="0.5"/>
<circle cx="443.90" cy="363.48" r="2.0" fill="#fff" stroke="#2a2ab0" stroke-width="0.9"/>
<circle cx="449.00" cy="363.48" r="2.0" fill="#fff" stroke="#a81010" stroke-width="1.0"/>
<circle cx="471.00" cy="363.48" r="2.0" fill="#fff" stroke="#2a2ab0" stroke-width="0.9"/>
<circle cx="479.30" cy="363.48" r="1.9" fill="#fff" stroke="#777" stroke-width="0.5"/>
<circle cx="486.60" cy="363.48" r="2.0" fill="#fff" stroke="#2a2ab0" stroke-width="0.9"/>
<circle cx="491.60" cy="363.48" r="1.9" fill="#fff" stroke="#777" stroke-width="0.5"/>
<circle cx="334.00" cy="363.48" r="2.9" fill="url(#gO)"/>
<circle cx="384.50" cy="363.48" r="2.5" fill="url(#gO)"/>
<circle cx="382.50" cy="363.48" r="1.3" fill="#fff"/>
<circle cx="417.40" cy="363.48" r="2.9" fill="url(#gO)"/>
<circle cx="467.90" cy="363.48" r="2.5" fill="url(#gO)"/>
<circle cx="465.90" cy="363.48" r="1.3" fill="#fff"/>
<circle cx="500.80" cy="363.48" r="2.9" fill="url(#gO)"/>
<rect x="332.40" y="373.41" width="167.30" height="5.2" fill="#7c7c7c"/>
<rect x="332.40" y="374.81" width="167.30" height="1.4" fill="#a4a4a4"/>
<circle cx="328.70" cy="376.01" r="2.6" fill="url(#gD)"/>
<circle cx="349.50" cy="376.01" r="2.6" fill="url(#gD)"/>
<circle cx="357.60" cy="376.01" r="2.6" fill="url(#gD)"/>
<circle cx="369.50" cy="376.01" r="2.6" fill="url(#gD)"/>
<circle cx="372.60" cy="376.01" r="2.6" fill="url(#gD)"/>
<circle cx="375.70" cy="376.01" r="2.6" fill="url(#gD)"/>
<circle cx="378.80" cy="376.01" r="2.6" fill="url(#gD)"/>
<circle cx="391.80" cy="376.01" r="2.6" fill="url(#gD)"/>
<circle cx="399.00" cy="376.01" r="2.6" fill="url(#gD)"/>
<circle cx="412.10" cy="376.01" r="2.6" fill="url(#gD)"/>
<circle cx="432.90" cy="376.01" r="2.6" fill="url(#gD)"/>
<circle cx="441.00" cy="376.01" r="2.6" fill="url(#gD)"/>
<circle cx="452.90" cy="376.01" r="2.6" fill="url(#gD)"/>
<circle cx="456.00" cy="376.01" r="2.6" fill="url(#gD)"/>
<circle cx="459.10" cy="376.01" r="2.6" fill="url(#gD)"/>
<circle cx="462.20" cy="376.01" r="2.6" fill="url(#gD)"/>
<circle cx="475.20" cy="376.01" r="2.6" fill="url(#gD)"/>
<circle cx="482.40" cy="376.01" r="2.6" fill="url(#gD)"/>
<circle cx="495.50" cy="376.01" r="2.6" fill="url(#gD)"/>
<circle cx="339.90" cy="376.01" r="2.0" fill="#fff" stroke="#a81010" stroke-width="1.0"/>
<circle cx="343.80" cy="376.01" r="2.3" fill="#2233ee"/>
<circle cx="346.20" cy="376.01" r="1.9" fill="#fff" stroke="#777" stroke-width="0.5"/>
<circle cx="354.00" cy="376.01" r="1.9" fill="#fff" stroke="#777" stroke-width="0.5"/>
<circle cx="360.50" cy="376.01" r="2.0" fill="#fff" stroke="#2a2ab0" stroke-width="0.9"/>
<circle cx="365.60" cy="376.01" r="2.0" fill="#fff" stroke="#a81010" stroke-width="1.0"/>
<circle cx="387.60" cy="376.01" r="2.0" fill="#fff" stroke="#2a2ab0" stroke-width="0.9"/>
<circle cx="395.90" cy="376.01" r="1.9" fill="#fff" stroke="#777" stroke-width="0.5"/>
<circle cx="403.20" cy="376.01" r="2.0" fill="#fff" stroke="#2a2ab0" stroke-width="0.9"/>
<circle cx="408.20" cy="376.01" r="1.9" fill="#fff" stroke="#777" stroke-width="0.5"/>
<circle cx="423.30" cy="376.01" r="2.0" fill="#fff" stroke="#a81010" stroke-width="1.0"/>
<circle cx="427.20" cy="376.01" r="2.3" fill="#2233ee"/>
<circle cx="429.60" cy="376.01" r="1.9" fill="#fff" stroke="#777" stroke-width="0.5"/>
<circle cx="437.40" cy="376.01" r="1.9" fill="#fff" stroke="#777" stroke-width="0.5"/>
<circle cx="443.90" cy="376.01" r="2.0" fill="#fff" stroke="#2a2ab0" stroke-width="0.9"/>
<circle cx="449.00" cy="376.01" r="2.0" fill="#fff" stroke="#a81010" stroke-width="1.0"/>
<circle cx="471.00" cy="376.01" r="2.0" fill="#fff" stroke="#2a2ab0" stroke-width="0.9"/>
<circle cx="479.30" cy="376.01" r="1.9" fill="#fff" stroke="#777" stroke-width="0.5"/>
<circle cx="486.60" cy="376.01" r="2.0" fill="#fff" stroke="#2a2ab0" stroke-width="0.9"/>
<circle cx="491.60" cy="376.01" r="1.9" fill="#fff" stroke="#777" stroke-width="0.5"/>
<circle cx="334.00" cy="376.01" r="2.9" fill="url(#gO)"/>
<circle cx="384.50" cy="376.01" r="2.5" fill="url(#gO)"/>
<circle cx="382.50" cy="376.01" r="1.3" fill="#fff"/>
<circle cx="417.40" cy="376.01" r="2.9" fill="url(#gO)"/>
<circle cx="467.90" cy="376.01" r="2.5" fill="url(#gO)"/>
<circle cx="465.90" cy="376.01" r="1.3" fill="#fff"/>
<circle cx="500.80" cy="376.01" r="2.9" fill="url(#gO)"/>
<rect x="332.40" y="385.94" width="167.30" height="5.2" fill="#7c7c7c"/>
<rect x="332.40" y="387.34" width="167.30" height="1.4" fill="#a4a4a4"/>
<circle cx="328.70" cy="388.54" r="2.6" fill="url(#gD)"/>
<circle cx="349.50" cy="388.54" r="2.6" fill="url(#gD)"/>
<circle cx="357.60" cy="388.54" r="2.6" fill="url(#gD)"/>
<circle cx="369.50" cy="388.54" r="2.6" fill="url(#gD)"/>
<circle cx="372.60" cy="388.54" r="2.6" fill="url(#gD)"/>
<circle cx="375.70" cy="388.54" r="2.6" fill="url(#gD)"/>
<circle cx="378.80" cy="388.54" r="2.6" fill="url(#gD)"/>
<circle cx="391.80" cy="388.54" r="2.6" fill="url(#gD)"/>
<circle cx="399.00" cy="388.54" r="2.6" fill="url(#gD)"/>
<circle cx="412.10" cy="388.54" r="2.6" fill="url(#gD)"/>
<circle cx="432.90" cy="388.54" r="2.6" fill="url(#gD)"/>
<circle cx="441.00" cy="388.54" r="2.6" fill="url(#gD)"/>
<circle cx="452.90" cy="388.54" r="2.6" fill="url(#gD)"/>
<circle cx="456.00" cy="388.54" r="2.6" fill="url(#gD)"/>
<circle cx="459.10" cy="388.54" r="2.6" fill="url(#gD)"/>
<circle cx="462.20" cy="388.54" r="2.6" fill="url(#gD)"/>
<circle cx="475.20" cy="388.54" r="2.6" fill="url(#gD)"/>
<circle cx="482.40" cy="388.54" r="2.6" fill="url(#gD)"/>
<circle cx="495.50" cy="388.54" r="2.6" fill="url(#gD)"/>
<circle cx="339.90" cy="388.54" r="2.0" fill="#fff" stroke="#a81010" stroke-width="1.0"/>
<circle cx="343.80" cy="388.54" r="2.3" fill="#2233ee"/>
<circle cx="346.20" cy="388.54" r="1.9" fill="#fff" stroke="#777" stroke-width="0.5"/>
<circle cx="354.00" cy="388.54" r="1.9" fill="#fff" stroke="#777" stroke-width="0.5"/>
<circle cx="360.50" cy="388.54" r="2.0" fill="#fff" stroke="#2a2ab0" stroke-width="0.9"/>
<circle cx="365.60" cy="388.54" r="2.0" fill="#fff" stroke="#a81010" stroke-width="1.0"/>
<circle cx="387.60" cy="388.54" r="2.0" fill="#fff" stroke="#2a2ab0" stroke-width="0.9"/>
<circle cx="395.90" cy="388.54" r="1.9" fill="#fff" stroke="#777" stroke-width="0.5"/>
<circle cx="403.20" cy="388.54" r="2.0" fill="#fff" stroke="#2a2ab0" stroke-width="0.9"/>
<circle cx="408.20" cy="388.54" r="1.9" fill="#fff" stroke="#777" stroke-width="0.5"/>
<circle cx="423.30" cy="388.54" r="2.0" fill="#fff" stroke="#a81010" stroke-width="1.0"/>
<circle cx="427.20" cy="388.54" r="2.3" fill="#2233ee"/>
<circle cx="429.60" cy="388.54" r="1.9" fill="#fff" stroke="#777" stroke-width="0.5"/>
<circle cx="437.40" cy="388.54" r="1.9" fill="#fff" stroke="#777" stroke-width="0.5"/>
<circle cx="443.90" cy="388.54" r="2.0" fill="#fff" stroke="#2a2ab0" stroke-width="0.9"/>
<circle cx="449.00" cy="388.54" r="2.0" fill="#fff" stroke="#a81010" stroke-width="1.0"/>
<circle cx="471.00" cy="388.54" r="2.0" fill="#fff" stroke="#2a2ab0" stroke-width="0.9"/>
<circle cx="479.30" cy="388.54" r="1.9" fill="#fff" stroke="#777" stroke-width="0.5"/>
<circle cx="486.60" cy="388.54" r="2.0" fill="#fff" stroke="#2a2ab0" stroke-width="0.9"/>
<circle cx="491.60" cy="388.54" r="1.9" fill="#fff" stroke="#777" stroke-width="0.5"/>
<circle cx="334.00" cy="388.54" r="2.9" fill="url(#gO)"/>
<circle cx="384.50" cy="388.54" r="2.5" fill="url(#gO)"/>
<circle cx="382.50" cy="388.54" r="1.3" fill="#fff"/>
<circle cx="417.40" cy="388.54" r="2.9" fill="url(#gO)"/>
<circle cx="467.90" cy="388.54" r="2.5" fill="url(#gO)"/>
<circle cx="465.90" cy="388.54" r="1.3" fill="#fff"/>
<circle cx="500.80" cy="388.54" r="2.9" fill="url(#gO)"/>
<rect x="332.40" y="398.47" width="167.30" height="5.2" fill="#7c7c7c"/>
<rect x="332.40" y="399.87" width="167.30" height="1.4" fill="#a4a4a4"/>
<circle cx="328.70" cy="401.07" r="2.6" fill="url(#gD)"/>
<circle cx="349.50" cy="401.07" r="2.6" fill="url(#gD)"/>
<circle cx="357.60" cy="401.07" r="2.6" fill="url(#gD)"/>
<circle cx="369.50" cy="401.07" r="2.6" fill="url(#gD)"/>
<circle cx="372.60" cy="401.07" r="2.6" fill="url(#gD)"/>
<circle cx="375.70" cy="401.07" r="2.6" fill="url(#gD)"/>
<circle cx="378.80" cy="401.07" r="2.6" fill="url(#gD)"/>
<circle cx="391.80" cy="401.07" r="2.6" fill="url(#gD)"/>
<circle cx="399.00" cy="401.07" r="2.6" fill="url(#gD)"/>
<circle cx="412.10" cy="401.07" r="2.6" fill="url(#gD)"/>
<circle cx="432.90" cy="401.07" r="2.6" fill="url(#gD)"/>
<circle cx="441.00" cy="401.07" r="2.6" fill="url(#gD)"/>
<circle cx="452.90" cy="401.07" r="2.6" fill="url(#gD)"/>
<circle cx="456.00" cy="401.07" r="2.6" fill="url(#gD)"/>
<circle cx="459.10" cy="401.07" r="2.6" fill="url(#gD)"/>
<circle cx="462.20" cy="401.07" r="2.6" fill="url(#gD)"/>
<circle cx="475.20" cy="401.07" r="2.6" fill="url(#gD)"/>
<circle cx="482.40" cy="401.07" r="2.6" fill="url(#gD)"/>
<circle cx="495.50" cy="401.07" r="2.6" fill="url(#gD)"/>
<circle cx="339.90" cy="401.07" r="2.0" fill="#fff" stroke="#a81010" stroke-width="1.0"/>
<circle cx="343.80" cy="401.07" r="2.3" fill="#2233ee"/>
<circle cx="346.20" cy="401.07" r="1.9" fill="#fff" stroke="#777" stroke-width="0.5"/>
<circle cx="354.00" cy="401.07" r="1.9" fill="#fff" stroke="#777" stroke-width="0.5"/>
<circle cx="360.50" cy="401.07" r="2.0" fill="#fff" stroke="#2a2ab0" stroke-width="0.9"/>
<circle cx="365.60" cy="401.07" r="2.0" fill="#fff" stroke="#a81010" stroke-width="1.0"/>
<circle cx="387.60" cy="401.07" r="2.0" fill="#fff" stroke="#2a2ab0" stroke-width="0.9"/>
<circle cx="395.90" cy="401.07" r="1.9" fill="#fff" stroke="#777" stroke-width="0.5"/>
<circle cx="403.20" cy="401.07" r="2.0" fill="#fff" stroke="#2a2ab0" stroke-width="0.9"/>
<circle cx="408.20" cy="401.07" r="1.9" fill="#fff" stroke="#777" stroke-width="0.5"/>
<circle cx="423.30" cy="401.07" r="2.0" fill="#fff" stroke="#a81010" stroke-width="1.0"/>
<circle cx="427.20" cy="401.07" r="2.3" fill="#2233ee"/>
<circle cx="429.60" cy="401.07" r="1.9" fill="#fff" stroke="#777" stroke-width="0.5"/>
<circle cx="437.40" cy="401.07" r="1.9" fill="#fff" stroke="#777" stroke-width="0.5"/>
<circle cx="443.90" cy="401.07" r="2.0" fill="#fff" stroke="#2a2ab0" stroke-width="0.9"/>
<circle cx="449.00" cy="401.07" r="2.0" fill="#fff" stroke="#a81010" stroke-width="1.0"/>
<circle cx="471.00" cy="401.07" r="2.0" fill="#fff" stroke="#2a2ab0" stroke-width="0.9"/>
<circle cx="479.30" cy="401.07" r="1.9" fill="#fff" stroke="#777" stroke-width="0.5"/>
<circle cx="486.60" cy="401.07" r="2.0" fill="#fff" stroke="#2a2ab0" stroke-width="0.9"/>
<circle cx="491.60" cy="401.07" r="1.9" fill="#fff" stroke="#777" stroke-width="0.5"/>
<circle cx="334.00" cy="401.07" r="2.9" fill="url(#gO)"/>
<circle cx="384.50" cy="401.07" r="2.5" fill="url(#gO)"/>
<circle cx="382.50" cy="401.07" r="1.3" fill="#fff"/>
<circle cx="417.40" cy="401.07" r="2.9" fill="url(#gO)"/>
<circle cx="467.90" cy="401.07" r="2.5" fill="url(#gO)"/>
<circle cx="465.90" cy="401.07" r="1.3" fill="#fff"/>
<circle cx="500.80" cy="401.07" r="2.9" fill="url(#gO)"/>
</g>
<g clip-path="url(#cd2)">
<rect x="514.40" y="285.70" width="165.10" height="5.2" fill="#7c7c7c"/>
<rect x="514.40" y="287.10" width="165.10" height="1.4" fill="#a4a4a4"/>
<circle cx="510.60" cy="288.30" r="2.6" fill="url(#gD)"/>
<circle cx="531.40" cy="288.30" r="2.6" fill="url(#gD)"/>
<circle cx="539.50" cy="288.30" r="2.6" fill="url(#gD)"/>
<circle cx="551.40" cy="288.30" r="2.6" fill="url(#gD)"/>
<circle cx="554.50" cy="288.30" r="2.6" fill="url(#gD)"/>
<circle cx="557.60" cy="288.30" r="2.6" fill="url(#gD)"/>
<circle cx="560.70" cy="288.30" r="2.6" fill="url(#gD)"/>
<circle cx="573.70" cy="288.30" r="2.6" fill="url(#gD)"/>
<circle cx="580.90" cy="288.30" r="2.6" fill="url(#gD)"/>
<circle cx="594.00" cy="288.30" r="2.6" fill="url(#gD)"/>
<circle cx="614.80" cy="288.30" r="2.6" fill="url(#gD)"/>
<circle cx="622.90" cy="288.30" r="2.6" fill="url(#gD)"/>
<circle cx="634.80" cy="288.30" r="2.6" fill="url(#gD)"/>
<circle cx="637.90" cy="288.30" r="2.6" fill="url(#gD)"/>
<circle cx="641.00" cy="288.30" r="2.6" fill="url(#gD)"/>
<circle cx="644.10" cy="288.30" r="2.6" fill="url(#gD)"/>
<circle cx="657.10" cy="288.30" r="2.6" fill="url(#gD)"/>
<circle cx="664.30" cy="288.30" r="2.6" fill="url(#gD)"/>
<circle cx="677.40" cy="288.30" r="2.6" fill="url(#gD)"/>
<circle cx="521.80" cy="288.30" r="2.0" fill="#fff" stroke="#a81010" stroke-width="1.0"/>
<circle cx="525.70" cy="288.30" r="2.3" fill="#2233ee"/>
<circle cx="528.10" cy="288.30" r="1.9" fill="#fff" stroke="#777" stroke-width="0.5"/>
<circle cx="535.90" cy="288.30" r="1.9" fill="#fff" stroke="#777" stroke-width="0.5"/>
<circle cx="542.40" cy="288.30" r="2.0" fill="#fff" stroke="#2a2ab0" stroke-width="0.9"/>
<circle cx="547.50" cy="288.30" r="2.0" fill="#fff" stroke="#a81010" stroke-width="1.0"/>
<circle cx="569.50" cy="288.30" r="2.0" fill="#fff" stroke="#2a2ab0" stroke-width="0.9"/>
<circle cx="577.80" cy="288.30" r="1.9" fill="#fff" stroke="#777" stroke-width="0.5"/>
<circle cx="585.10" cy="288.30" r="2.0" fill="#fff" stroke="#2a2ab0" stroke-width="0.9"/>
<circle cx="590.10" cy="288.30" r="1.9" fill="#fff" stroke="#777" stroke-width="0.5"/>
<circle cx="605.20" cy="288.30" r="2.0" fill="#fff" stroke="#a81010" stroke-width="1.0"/>
<circle cx="609.10" cy="288.30" r="2.3" fill="#2233ee"/>
<circle cx="611.50" cy="288.30" r="1.9" fill="#fff" stroke="#777" stroke-width="0.5"/>
<circle cx="619.30" cy="288.30" r="1.9" fill="#fff" stroke="#777" stroke-width="0.5"/>
<circle cx="625.80" cy="288.30" r="2.0" fill="#fff" stroke="#2a2ab0" stroke-width="0.9"/>
<circle cx="630.90" cy="288.30" r="2.0" fill="#fff" stroke="#a81010" stroke-width="1.0"/>
<circle cx="652.90" cy="288.30" r="2.0" fill="#fff" stroke="#2a2ab0" stroke-width="0.9"/>
<circle cx="661.20" cy="288.30" r="1.9" fill="#fff" stroke="#777" stroke-width="0.5"/>
<circle cx="668.50" cy="288.30" r="2.0" fill="#fff" stroke="#2a2ab0" stroke-width="0.9"/>
<circle cx="673.50" cy="288.30" r="1.9" fill="#fff" stroke="#777" stroke-width="0.5"/>
<circle cx="515.90" cy="288.30" r="2.9" fill="url(#gO)"/>
<circle cx="566.40" cy="288.30" r="2.5" fill="url(#gO)"/>
<circle cx="564.40" cy="288.30" r="1.3" fill="#fff"/>
<circle cx="599.30" cy="288.30" r="2.9" fill="url(#gO)"/>
<circle cx="649.80" cy="288.30" r="2.5" fill="url(#gO)"/>
<circle cx="647.80" cy="288.30" r="1.3" fill="#fff"/>
<circle cx="682.70" cy="288.30" r="2.9" fill="url(#gO)"/>
<rect x="514.40" y="298.23" width="165.10" height="5.2" fill="#7c7c7c"/>
<rect x="514.40" y="299.63" width="165.10" height="1.4" fill="#a4a4a4"/>
<circle cx="510.60" cy="300.83" r="2.6" fill="url(#gD)"/>
<circle cx="531.40" cy="300.83" r="2.6" fill="url(#gD)"/>
<circle cx="539.50" cy="300.83" r="2.6" fill="url(#gD)"/>
<circle cx="551.40" cy="300.83" r="2.6" fill="url(#gD)"/>
<circle cx="554.50" cy="300.83" r="2.6" fill="url(#gD)"/>
<circle cx="557.60" cy="300.83" r="2.6" fill="url(#gD)"/>
<circle cx="560.70" cy="300.83" r="2.6" fill="url(#gD)"/>
<circle cx="573.70" cy="300.83" r="2.6" fill="url(#gD)"/>
<circle cx="580.90" cy="300.83" r="2.6" fill="url(#gD)"/>
<circle cx="594.00" cy="300.83" r="2.6" fill="url(#gD)"/>
<circle cx="614.80" cy="300.83" r="2.6" fill="url(#gD)"/>
<circle cx="622.90" cy="300.83" r="2.6" fill="url(#gD)"/>
<circle cx="634.80" cy="300.83" r="2.6" fill="url(#gD)"/>
<circle cx="637.90" cy="300.83" r="2.6" fill="url(#gD)"/>
<circle cx="641.00" cy="300.83" r="2.6" fill="url(#gD)"/>
<circle cx="644.10" cy="300.83" r="2.6" fill="url(#gD)"/>
<circle cx="657.10" cy="300.83" r="2.6" fill="url(#gD)"/>
<circle cx="664.30" cy="300.83" r="2.6" fill="url(#gD)"/>
<circle cx="677.40" cy="300.83" r="2.6" fill="url(#gD)"/>
<circle cx="521.80" cy="300.83" r="2.0" fill="#fff" stroke="#a81010" stroke-width="1.0"/>
<circle cx="525.70" cy="300.83" r="2.3" fill="#2233ee"/>
<circle cx="528.10" cy="300.83" r="1.9" fill="#fff" stroke="#777" stroke-width="0.5"/>
<circle cx="535.90" cy="300.83" r="1.9" fill="#fff" stroke="#777" stroke-width="0.5"/>
<circle cx="542.40" cy="300.83" r="2.0" fill="#fff" stroke="#2a2ab0" stroke-width="0.9"/>
<circle cx="547.50" cy="300.83" r="2.0" fill="#fff" stroke="#a81010" stroke-width="1.0"/>
<circle cx="569.50" cy="300.83" r="2.0" fill="#fff" stroke="#2a2ab0" stroke-width="0.9"/>
<circle cx="577.80" cy="300.83" r="1.9" fill="#fff" stroke="#777" stroke-width="0.5"/>
<circle cx="585.10" cy="300.83" r="2.0" fill="#fff" stroke="#2a2ab0" stroke-width="0.9"/>
<circle cx="590.10" cy="300.83" r="1.9" fill="#fff" stroke="#777" stroke-width="0.5"/>
<circle cx="605.20" cy="300.83" r="2.0" fill="#fff" stroke="#a81010" stroke-width="1.0"/>
<circle cx="609.10" cy="300.83" r="2.3" fill="#2233ee"/>
<circle cx="611.50" cy="300.83" r="1.9" fill="#fff" stroke="#777" stroke-width="0.5"/>
<circle cx="619.30" cy="300.83" r="1.9" fill="#fff" stroke="#777" stroke-width="0.5"/>
<circle cx="625.80" cy="300.83" r="2.0" fill="#fff" stroke="#2a2ab0" stroke-width="0.9"/>
<circle cx="630.90" cy="300.83" r="2.0" fill="#fff" stroke="#a81010" stroke-width="1.0"/>
<circle cx="652.90" cy="300.83" r="2.0" fill="#fff" stroke="#2a2ab0" stroke-width="0.9"/>
<circle cx="661.20" cy="300.83" r="1.9" fill="#fff" stroke="#777" stroke-width="0.5"/>
<circle cx="668.50" cy="300.83" r="2.0" fill="#fff" stroke="#2a2ab0" stroke-width="0.9"/>
<circle cx="673.50" cy="300.83" r="1.9" fill="#fff" stroke="#777" stroke-width="0.5"/>
<circle cx="515.90" cy="300.83" r="2.9" fill="url(#gO)"/>
<circle cx="566.40" cy="300.83" r="2.5" fill="url(#gO)"/>
<circle cx="564.40" cy="300.83" r="1.3" fill="#fff"/>
<circle cx="599.30" cy="300.83" r="2.9" fill="url(#gO)"/>
<circle cx="649.80" cy="300.83" r="2.5" fill="url(#gO)"/>
<circle cx="647.80" cy="300.83" r="1.3" fill="#fff"/>
<circle cx="682.70" cy="300.83" r="2.9" fill="url(#gO)"/>
<rect x="514.40" y="310.76" width="165.10" height="5.2" fill="#7c7c7c"/>
<rect x="514.40" y="312.16" width="165.10" height="1.4" fill="#a4a4a4"/>
<circle cx="510.60" cy="313.36" r="2.6" fill="url(#gD)"/>
<circle cx="531.40" cy="313.36" r="2.6" fill="url(#gD)"/>
<circle cx="539.50" cy="313.36" r="2.6" fill="url(#gD)"/>
<circle cx="551.40" cy="313.36" r="2.6" fill="url(#gD)"/>
<circle cx="554.50" cy="313.36" r="2.6" fill="url(#gD)"/>
<circle cx="557.60" cy="313.36" r="2.6" fill="url(#gD)"/>
<circle cx="560.70" cy="313.36" r="2.6" fill="url(#gD)"/>
<circle cx="573.70" cy="313.36" r="2.6" fill="url(#gD)"/>
<circle cx="580.90" cy="313.36" r="2.6" fill="url(#gD)"/>
<circle cx="594.00" cy="313.36" r="2.6" fill="url(#gD)"/>
<circle cx="614.80" cy="313.36" r="2.6" fill="url(#gD)"/>
<circle cx="622.90" cy="313.36" r="2.6" fill="url(#gD)"/>
<circle cx="634.80" cy="313.36" r="2.6" fill="url(#gD)"/>
<circle cx="637.90" cy="313.36" r="2.6" fill="url(#gD)"/>
<circle cx="641.00" cy="313.36" r="2.6" fill="url(#gD)"/>
<circle cx="644.10" cy="313.36" r="2.6" fill="url(#gD)"/>
<circle cx="657.10" cy="313.36" r="2.6" fill="url(#gD)"/>
<circle cx="664.30" cy="313.36" r="2.6" fill="url(#gD)"/>
<circle cx="677.40" cy="313.36" r="2.6" fill="url(#gD)"/>
<circle cx="521.80" cy="313.36" r="2.0" fill="#fff" stroke="#a81010" stroke-width="1.0"/>
<circle cx="525.70" cy="313.36" r="2.3" fill="#2233ee"/>
<circle cx="528.10" cy="313.36" r="1.9" fill="#fff" stroke="#777" stroke-width="0.5"/>
<circle cx="535.90" cy="313.36" r="1.9" fill="#fff" stroke="#777" stroke-width="0.5"/>
<circle cx="542.40" cy="313.36" r="2.0" fill="#fff" stroke="#2a2ab0" stroke-width="0.9"/>
<circle cx="547.50" cy="313.36" r="2.0" fill="#fff" stroke="#a81010" stroke-width="1.0"/>
<circle cx="569.50" cy="313.36" r="2.0" fill="#fff" stroke="#2a2ab0" stroke-width="0.9"/>
<circle cx="577.80" cy="313.36" r="1.9" fill="#fff" stroke="#777" stroke-width="0.5"/>
<circle cx="585.10" cy="313.36" r="2.0" fill="#fff" stroke="#2a2ab0" stroke-width="0.9"/>
<circle cx="590.10" cy="313.36" r="1.9" fill="#fff" stroke="#777" stroke-width="0.5"/>
<circle cx="605.20" cy="313.36" r="2.0" fill="#fff" stroke="#a81010" stroke-width="1.0"/>
<circle cx="609.10" cy="313.36" r="2.3" fill="#2233ee"/>
<circle cx="611.50" cy="313.36" r="1.9" fill="#fff" stroke="#777" stroke-width="0.5"/>
<circle cx="619.30" cy="313.36" r="1.9" fill="#fff" stroke="#777" stroke-width="0.5"/>
<circle cx="625.80" cy="313.36" r="2.0" fill="#fff" stroke="#2a2ab0" stroke-width="0.9"/>
<circle cx="630.90" cy="313.36" r="2.0" fill="#fff" stroke="#a81010" stroke-width="1.0"/>
<circle cx="652.90" cy="313.36" r="2.0" fill="#fff" stroke="#2a2ab0" stroke-width="0.9"/>
<circle cx="661.20" cy="313.36" r="1.9" fill="#fff" stroke="#777" stroke-width="0.5"/>
<circle cx="668.50" cy="313.36" r="2.0" fill="#fff" stroke="#2a2ab0" stroke-width="0.9"/>
<circle cx="673.50" cy="313.36" r="1.9" fill="#fff" stroke="#777" stroke-width="0.5"/>
<circle cx="515.90" cy="313.36" r="2.9" fill="url(#gO)"/>
<circle cx="566.40" cy="313.36" r="2.5" fill="url(#gO)"/>
<circle cx="564.40" cy="313.36" r="1.3" fill="#fff"/>
<circle cx="599.30" cy="313.36" r="2.9" fill="url(#gO)"/>
<circle cx="649.80" cy="313.36" r="2.5" fill="url(#gO)"/>
<circle cx="647.80" cy="313.36" r="1.3" fill="#fff"/>
<circle cx="682.70" cy="313.36" r="2.9" fill="url(#gO)"/>
<rect x="514.40" y="323.29" width="165.10" height="5.2" fill="#7c7c7c"/>
<rect x="514.40" y="324.69" width="165.10" height="1.4" fill="#a4a4a4"/>
<circle cx="510.60" cy="325.89" r="2.6" fill="url(#gD)"/>
<circle cx="531.40" cy="325.89" r="2.6" fill="url(#gD)"/>
<circle cx="539.50" cy="325.89" r="2.6" fill="url(#gD)"/>
<circle cx="551.40" cy="325.89" r="2.6" fill="url(#gD)"/>
<circle cx="554.50" cy="325.89" r="2.6" fill="url(#gD)"/>
<circle cx="557.60" cy="325.89" r="2.6" fill="url(#gD)"/>
<circle cx="560.70" cy="325.89" r="2.6" fill="url(#gD)"/>
<circle cx="573.70" cy="325.89" r="2.6" fill="url(#gD)"/>
<circle cx="580.90" cy="325.89" r="2.6" fill="url(#gD)"/>
<circle cx="594.00" cy="325.89" r="2.6" fill="url(#gD)"/>
<circle cx="614.80" cy="325.89" r="2.6" fill="url(#gD)"/>
<circle cx="622.90" cy="325.89" r="2.6" fill="url(#gD)"/>
<circle cx="634.80" cy="325.89" r="2.6" fill="url(#gD)"/>
<circle cx="637.90" cy="325.89" r="2.6" fill="url(#gD)"/>
<circle cx="641.00" cy="325.89" r="2.6" fill="url(#gD)"/>
<circle cx="644.10" cy="325.89" r="2.6" fill="url(#gD)"/>
<circle cx="657.10" cy="325.89" r="2.6" fill="url(#gD)"/>
<circle cx="664.30" cy="325.89" r="2.6" fill="url(#gD)"/>
<circle cx="677.40" cy="325.89" r="2.6" fill="url(#gD)"/>
<circle cx="521.80" cy="325.89" r="2.0" fill="#fff" stroke="#a81010" stroke-width="1.0"/>
<circle cx="525.70" cy="325.89" r="2.3" fill="#2233ee"/>
<circle cx="528.10" cy="325.89" r="1.9" fill="#fff" stroke="#777" stroke-width="0.5"/>
<circle cx="535.90" cy="325.89" r="1.9" fill="#fff" stroke="#777" stroke-width="0.5"/>
<circle cx="542.40" cy="325.89" r="2.0" fill="#fff" stroke="#2a2ab0" stroke-width="0.9"/>
<circle cx="547.50" cy="325.89" r="2.0" fill="#fff" stroke="#a81010" stroke-width="1.0"/>
<circle cx="569.50" cy="325.89" r="2.0" fill="#fff" stroke="#2a2ab0" stroke-width="0.9"/>
<circle cx="577.80" cy="325.89" r="1.9" fill="#fff" stroke="#777" stroke-width="0.5"/>
<circle cx="585.10" cy="325.89" r="2.0" fill="#fff" stroke="#2a2ab0" stroke-width="0.9"/>
<circle cx="590.10" cy="325.89" r="1.9" fill="#fff" stroke="#777" stroke-width="0.5"/>
<circle cx="605.20" cy="325.89" r="2.0" fill="#fff" stroke="#a81010" stroke-width="1.0"/>
<circle cx="609.10" cy="325.89" r="2.3" fill="#2233ee"/>
<circle cx="611.50" cy="325.89" r="1.9" fill="#fff" stroke="#777" stroke-width="0.5"/>
<circle cx="619.30" cy="325.89" r="1.9" fill="#fff" stroke="#777" stroke-width="0.5"/>
<circle cx="625.80" cy="325.89" r="2.0" fill="#fff" stroke="#2a2ab0" stroke-width="0.9"/>
<circle cx="630.90" cy="325.89" r="2.0" fill="#fff" stroke="#a81010" stroke-width="1.0"/>
<circle cx="652.90" cy="325.89" r="2.0" fill="#fff" stroke="#2a2ab0" stroke-width="0.9"/>
<circle cx="661.20" cy="325.89" r="1.9" fill="#fff" stroke="#777" stroke-width="0.5"/>
<circle cx="668.50" cy="325.89" r="2.0" fill="#fff" stroke="#2a2ab0" stroke-width="0.9"/>
<circle cx="673.50" cy="325.89" r="1.9" fill="#fff" stroke="#777" stroke-width="0.5"/>
<circle cx="515.90" cy="325.89" r="2.9" fill="url(#gO)"/>
<circle cx="566.40" cy="325.89" r="2.5" fill="url(#gO)"/>
<circle cx="564.40" cy="325.89" r="1.3" fill="#fff"/>
<circle cx="599.30" cy="325.89" r="2.9" fill="url(#gO)"/>
<circle cx="649.80" cy="325.89" r="2.5" fill="url(#gO)"/>
<circle cx="647.80" cy="325.89" r="1.3" fill="#fff"/>
<circle cx="682.70" cy="325.89" r="2.9" fill="url(#gO)"/>
<rect x="514.40" y="335.82" width="165.10" height="5.2" fill="#7c7c7c"/>
<rect x="514.40" y="337.22" width="165.10" height="1.4" fill="#a4a4a4"/>
<circle cx="510.60" cy="338.42" r="2.6" fill="url(#gD)"/>
<circle cx="531.40" cy="338.42" r="2.6" fill="url(#gD)"/>
<circle cx="539.50" cy="338.42" r="2.6" fill="url(#gD)"/>
<circle cx="551.40" cy="338.42" r="2.6" fill="url(#gD)"/>
<circle cx="554.50" cy="338.42" r="2.6" fill="url(#gD)"/>
<circle cx="557.60" cy="338.42" r="2.6" fill="url(#gD)"/>
<circle cx="560.70" cy="338.42" r="2.6" fill="url(#gD)"/>
<circle cx="573.70" cy="338.42" r="2.6" fill="url(#gD)"/>
<circle cx="580.90" cy="338.42" r="2.6" fill="url(#gD)"/>
<circle cx="594.00" cy="338.42" r="2.6" fill="url(#gD)"/>
<circle cx="614.80" cy="338.42" r="2.6" fill="url(#gD)"/>
<circle cx="622.90" cy="338.42" r="2.6" fill="url(#gD)"/>
<circle cx="634.80" cy="338.42" r="2.6" fill="url(#gD)"/>
<circle cx="637.90" cy="338.42" r="2.6" fill="url(#gD)"/>
<circle cx="641.00" cy="338.42" r="2.6" fill="url(#gD)"/>
<circle cx="644.10" cy="338.42" r="2.6" fill="url(#gD)"/>
<circle cx="657.10" cy="338.42" r="2.6" fill="url(#gD)"/>
<circle cx="664.30" cy="338.42" r="2.6" fill="url(#gD)"/>
<circle cx="677.40" cy="338.42" r="2.6" fill="url(#gD)"/>
<circle cx="521.80" cy="338.42" r="2.0" fill="#fff" stroke="#a81010" stroke-width="1.0"/>
<circle cx="525.70" cy="338.42" r="2.3" fill="#2233ee"/>
<circle cx="528.10" cy="338.42" r="1.9" fill="#fff" stroke="#777" stroke-width="0.5"/>
<circle cx="535.90" cy="338.42" r="1.9" fill="#fff" stroke="#777" stroke-width="0.5"/>
<circle cx="542.40" cy="338.42" r="2.0" fill="#fff" stroke="#2a2ab0" stroke-width="0.9"/>
<circle cx="547.50" cy="338.42" r="2.0" fill="#fff" stroke="#a81010" stroke-width="1.0"/>
<circle cx="569.50" cy="338.42" r="2.0" fill="#fff" stroke="#2a2ab0" stroke-width="0.9"/>
<circle cx="577.80" cy="338.42" r="1.9" fill="#fff" stroke="#777" stroke-width="0.5"/>
<circle cx="585.10" cy="338.42" r="2.0" fill="#fff" stroke="#2a2ab0" stroke-width="0.9"/>
<circle cx="590.10" cy="338.42" r="1.9" fill="#fff" stroke="#777" stroke-width="0.5"/>
<circle cx="605.20" cy="338.42" r="2.0" fill="#fff" stroke="#a81010" stroke-width="1.0"/>
<circle cx="609.10" cy="338.42" r="2.3" fill="#2233ee"/>
<circle cx="611.50" cy="338.42" r="1.9" fill="#fff" stroke="#777" stroke-width="0.5"/>
<circle cx="619.30" cy="338.42" r="1.9" fill="#fff" stroke="#777" stroke-width="0.5"/>
<circle cx="625.80" cy="338.42" r="2.0" fill="#fff" stroke="#2a2ab0" stroke-width="0.9"/>
<circle cx="630.90" cy="338.42" r="2.0" fill="#fff" stroke="#a81010" stroke-width="1.0"/>
<circle cx="652.90" cy="338.42" r="2.0" fill="#fff" stroke="#2a2ab0" stroke-width="0.9"/>
<circle cx="661.20" cy="338.42" r="1.9" fill="#fff" stroke="#777" stroke-width="0.5"/>
<circle cx="668.50" cy="338.42" r="2.0" fill="#fff" stroke="#2a2ab0" stroke-width="0.9"/>
<circle cx="673.50" cy="338.42" r="1.9" fill="#fff" stroke="#777" stroke-width="0.5"/>
<circle cx="515.90" cy="338.42" r="2.9" fill="url(#gO)"/>
<circle cx="566.40" cy="338.42" r="2.5" fill="url(#gO)"/>
<circle cx="564.40" cy="338.42" r="1.3" fill="#fff"/>
<circle cx="599.30" cy="338.42" r="2.9" fill="url(#gO)"/>
<circle cx="649.80" cy="338.42" r="2.5" fill="url(#gO)"/>
<circle cx="647.80" cy="338.42" r="1.3" fill="#fff"/>
<circle cx="682.70" cy="338.42" r="2.9" fill="url(#gO)"/>
<rect x="514.40" y="348.35" width="165.10" height="5.2" fill="#7c7c7c"/>
<rect x="514.40" y="349.75" width="165.10" height="1.4" fill="#a4a4a4"/>
<circle cx="510.60" cy="350.95" r="2.6" fill="url(#gD)"/>
<circle cx="531.40" cy="350.95" r="2.6" fill="url(#gD)"/>
<circle cx="539.50" cy="350.95" r="2.6" fill="url(#gD)"/>
<circle cx="551.40" cy="350.95" r="2.6" fill="url(#gD)"/>
<circle cx="554.50" cy="350.95" r="2.6" fill="url(#gD)"/>
<circle cx="557.60" cy="350.95" r="2.6" fill="url(#gD)"/>
<circle cx="560.70" cy="350.95" r="2.6" fill="url(#gD)"/>
<circle cx="573.70" cy="350.95" r="2.6" fill="url(#gD)"/>
<circle cx="580.90" cy="350.95" r="2.6" fill="url(#gD)"/>
<circle cx="594.00" cy="350.95" r="2.6" fill="url(#gD)"/>
<circle cx="614.80" cy="350.95" r="2.6" fill="url(#gD)"/>
<circle cx="622.90" cy="350.95" r="2.6" fill="url(#gD)"/>
<circle cx="634.80" cy="350.95" r="2.6" fill="url(#gD)"/>
<circle cx="637.90" cy="350.95" r="2.6" fill="url(#gD)"/>
<circle cx="641.00" cy="350.95" r="2.6" fill="url(#gD)"/>
<circle cx="644.10" cy="350.95" r="2.6" fill="url(#gD)"/>
<circle cx="657.10" cy="350.95" r="2.6" fill="url(#gD)"/>
<circle cx="664.30" cy="350.95" r="2.6" fill="url(#gD)"/>
<circle cx="677.40" cy="350.95" r="2.6" fill="url(#gD)"/>
<circle cx="521.80" cy="350.95" r="2.0" fill="#fff" stroke="#a81010" stroke-width="1.0"/>
<circle cx="525.70" cy="350.95" r="2.3" fill="#2233ee"/>
<circle cx="528.10" cy="350.95" r="1.9" fill="#fff" stroke="#777" stroke-width="0.5"/>
<circle cx="535.90" cy="350.95" r="1.9" fill="#fff" stroke="#777" stroke-width="0.5"/>
<circle cx="542.40" cy="350.95" r="2.0" fill="#fff" stroke="#2a2ab0" stroke-width="0.9"/>
<circle cx="547.50" cy="350.95" r="2.0" fill="#fff" stroke="#a81010" stroke-width="1.0"/>
<circle cx="569.50" cy="350.95" r="2.0" fill="#fff" stroke="#2a2ab0" stroke-width="0.9"/>
<circle cx="577.80" cy="350.95" r="1.9" fill="#fff" stroke="#777" stroke-width="0.5"/>
<circle cx="585.10" cy="350.95" r="2.0" fill="#fff" stroke="#2a2ab0" stroke-width="0.9"/>
<circle cx="590.10" cy="350.95" r="1.9" fill="#fff" stroke="#777" stroke-width="0.5"/>
<circle cx="605.20" cy="350.95" r="2.0" fill="#fff" stroke="#a81010" stroke-width="1.0"/>
<circle cx="609.10" cy="350.95" r="2.3" fill="#2233ee"/>
<circle cx="611.50" cy="350.95" r="1.9" fill="#fff" stroke="#777" stroke-width="0.5"/>
<circle cx="619.30" cy="350.95" r="1.9" fill="#fff" stroke="#777" stroke-width="0.5"/>
<circle cx="625.80" cy="350.95" r="2.0" fill="#fff" stroke="#2a2ab0" stroke-width="0.9"/>
<circle cx="630.90" cy="350.95" r="2.0" fill="#fff" stroke="#a81010" stroke-width="1.0"/>
<circle cx="652.90" cy="350.95" r="2.0" fill="#fff" stroke="#2a2ab0" stroke-width="0.9"/>
<circle cx="661.20" cy="350.95" r="1.9" fill="#fff" stroke="#777" stroke-width="0.5"/>
<circle cx="668.50" cy="350.95" r="2.0" fill="#fff" stroke="#2a2ab0" stroke-width="0.9"/>
<circle cx="673.50" cy="350.95" r="1.9" fill="#fff" stroke="#777" stroke-width="0.5"/>
<circle cx="515.90" cy="350.95" r="2.9" fill="url(#gO)"/>
<circle cx="566.40" cy="350.95" r="2.5" fill="url(#gO)"/>
<circle cx="564.40" cy="350.95" r="1.3" fill="#fff"/>
<circle cx="599.30" cy="350.95" r="2.9" fill="url(#gO)"/>
<circle cx="649.80" cy="350.95" r="2.5" fill="url(#gO)"/>
<circle cx="647.80" cy="350.95" r="1.3" fill="#fff"/>
<circle cx="682.70" cy="350.95" r="2.9" fill="url(#gO)"/>
<rect x="514.40" y="360.88" width="165.10" height="5.2" fill="#7c7c7c"/>
<rect x="514.40" y="362.28" width="165.10" height="1.4" fill="#a4a4a4"/>
<circle cx="510.60" cy="363.48" r="2.6" fill="url(#gD)"/>
<circle cx="531.40" cy="363.48" r="2.6" fill="url(#gD)"/>
<circle cx="539.50" cy="363.48" r="2.6" fill="url(#gD)"/>
<circle cx="551.40" cy="363.48" r="2.6" fill="url(#gD)"/>
<circle cx="554.50" cy="363.48" r="2.6" fill="url(#gD)"/>
<circle cx="557.60" cy="363.48" r="2.6" fill="url(#gD)"/>
<circle cx="560.70" cy="363.48" r="2.6" fill="url(#gD)"/>
<circle cx="573.70" cy="363.48" r="2.6" fill="url(#gD)"/>
<circle cx="580.90" cy="363.48" r="2.6" fill="url(#gD)"/>
<circle cx="594.00" cy="363.48" r="2.6" fill="url(#gD)"/>
<circle cx="614.80" cy="363.48" r="2.6" fill="url(#gD)"/>
<circle cx="622.90" cy="363.48" r="2.6" fill="url(#gD)"/>
<circle cx="634.80" cy="363.48" r="2.6" fill="url(#gD)"/>
<circle cx="637.90" cy="363.48" r="2.6" fill="url(#gD)"/>
<circle cx="641.00" cy="363.48" r="2.6" fill="url(#gD)"/>
<circle cx="644.10" cy="363.48" r="2.6" fill="url(#gD)"/>
<circle cx="657.10" cy="363.48" r="2.6" fill="url(#gD)"/>
<circle cx="664.30" cy="363.48" r="2.6" fill="url(#gD)"/>
<circle cx="677.40" cy="363.48" r="2.6" fill="url(#gD)"/>
<circle cx="521.80" cy="363.48" r="2.0" fill="#fff" stroke="#a81010" stroke-width="1.0"/>
<circle cx="525.70" cy="363.48" r="2.3" fill="#2233ee"/>
<circle cx="528.10" cy="363.48" r="1.9" fill="#fff" stroke="#777" stroke-width="0.5"/>
<circle cx="535.90" cy="363.48" r="1.9" fill="#fff" stroke="#777" stroke-width="0.5"/>
<circle cx="542.40" cy="363.48" r="2.0" fill="#fff" stroke="#2a2ab0" stroke-width="0.9"/>
<circle cx="547.50" cy="363.48" r="2.0" fill="#fff" stroke="#a81010" stroke-width="1.0"/>
<circle cx="569.50" cy="363.48" r="2.0" fill="#fff" stroke="#2a2ab0" stroke-width="0.9"/>
<circle cx="577.80" cy="363.48" r="1.9" fill="#fff" stroke="#777" stroke-width="0.5"/>
<circle cx="585.10" cy="363.48" r="2.0" fill="#fff" stroke="#2a2ab0" stroke-width="0.9"/>
<circle cx="590.10" cy="363.48" r="1.9" fill="#fff" stroke="#777" stroke-width="0.5"/>
<circle cx="605.20" cy="363.48" r="2.0" fill="#fff" stroke="#a81010" stroke-width="1.0"/>
<circle cx="609.10" cy="363.48" r="2.3" fill="#2233ee"/>
<circle cx="611.50" cy="363.48" r="1.9" fill="#fff" stroke="#777" stroke-width="0.5"/>
<circle cx="619.30" cy="363.48" r="1.9" fill="#fff" stroke="#777" stroke-width="0.5"/>
<circle cx="625.80" cy="363.48" r="2.0" fill="#fff" stroke="#2a2ab0" stroke-width="0.9"/>
<circle cx="630.90" cy="363.48" r="2.0" fill="#fff" stroke="#a81010" stroke-width="1.0"/>
<circle cx="652.90" cy="363.48" r="2.0" fill="#fff" stroke="#2a2ab0" stroke-width="0.9"/>
<circle cx="661.20" cy="363.48" r="1.9" fill="#fff" stroke="#777" stroke-width="0.5"/>
<circle cx="668.50" cy="363.48" r="2.0" fill="#fff" stroke="#2a2ab0" stroke-width="0.9"/>
<circle cx="673.50" cy="363.48" r="1.9" fill="#fff" stroke="#777" stroke-width="0.5"/>
<circle cx="515.90" cy="363.48" r="2.9" fill="url(#gO)"/>
<circle cx="566.40" cy="363.48" r="2.5" fill="url(#gO)"/>
<circle cx="564.40" cy="363.48" r="1.3" fill="#fff"/>
<circle cx="599.30" cy="363.48" r="2.9" fill="url(#gO)"/>
<circle cx="649.80" cy="363.48" r="2.5" fill="url(#gO)"/>
<circle cx="647.80" cy="363.48" r="1.3" fill="#fff"/>
<circle cx="682.70" cy="363.48" r="2.9" fill="url(#gO)"/>
<rect x="514.40" y="373.41" width="165.10" height="5.2" fill="#7c7c7c"/>
<rect x="514.40" y="374.81" width="165.10" height="1.4" fill="#a4a4a4"/>
<circle cx="510.60" cy="376.01" r="2.6" fill="url(#gD)"/>
<circle cx="531.40" cy="376.01" r="2.6" fill="url(#gD)"/>
<circle cx="539.50" cy="376.01" r="2.6" fill="url(#gD)"/>
<circle cx="551.40" cy="376.01" r="2.6" fill="url(#gD)"/>
<circle cx="554.50" cy="376.01" r="2.6" fill="url(#gD)"/>
<circle cx="557.60" cy="376.01" r="2.6" fill="url(#gD)"/>
<circle cx="560.70" cy="376.01" r="2.6" fill="url(#gD)"/>
<circle cx="573.70" cy="376.01" r="2.6" fill="url(#gD)"/>
<circle cx="580.90" cy="376.01" r="2.6" fill="url(#gD)"/>
<circle cx="594.00" cy="376.01" r="2.6" fill="url(#gD)"/>
<circle cx="614.80" cy="376.01" r="2.6" fill="url(#gD)"/>
<circle cx="622.90" cy="376.01" r="2.6" fill="url(#gD)"/>
<circle cx="634.80" cy="376.01" r="2.6" fill="url(#gD)"/>
<circle cx="637.90" cy="376.01" r="2.6" fill="url(#gD)"/>
<circle cx="641.00" cy="376.01" r="2.6" fill="url(#gD)"/>
<circle cx="644.10" cy="376.01" r="2.6" fill="url(#gD)"/>
<circle cx="657.10" cy="376.01" r="2.6" fill="url(#gD)"/>
<circle cx="664.30" cy="376.01" r="2.6" fill="url(#gD)"/>
<circle cx="677.40" cy="376.01" r="2.6" fill="url(#gD)"/>
<circle cx="521.80" cy="376.01" r="2.0" fill="#fff" stroke="#a81010" stroke-width="1.0"/>
<circle cx="525.70" cy="376.01" r="2.3" fill="#2233ee"/>
<circle cx="528.10" cy="376.01" r="1.9" fill="#fff" stroke="#777" stroke-width="0.5"/>
<circle cx="535.90" cy="376.01" r="1.9" fill="#fff" stroke="#777" stroke-width="0.5"/>
<circle cx="542.40" cy="376.01" r="2.0" fill="#fff" stroke="#2a2ab0" stroke-width="0.9"/>
<circle cx="547.50" cy="376.01" r="2.0" fill="#fff" stroke="#a81010" stroke-width="1.0"/>
<circle cx="569.50" cy="376.01" r="2.0" fill="#fff" stroke="#2a2ab0" stroke-width="0.9"/>
<circle cx="577.80" cy="376.01" r="1.9" fill="#fff" stroke="#777" stroke-width="0.5"/>
<circle cx="585.10" cy="376.01" r="2.0" fill="#fff" stroke="#2a2ab0" stroke-width="0.9"/>
<circle cx="590.10" cy="376.01" r="1.9" fill="#fff" stroke="#777" stroke-width="0.5"/>
<circle cx="605.20" cy="376.01" r="2.0" fill="#fff" stroke="#a81010" stroke-width="1.0"/>
<circle cx="609.10" cy="376.01" r="2.3" fill="#2233ee"/>
<circle cx="611.50" cy="376.01" r="1.9" fill="#fff" stroke="#777" stroke-width="0.5"/>
<circle cx="619.30" cy="376.01" r="1.9" fill="#fff" stroke="#777" stroke-width="0.5"/>
<circle cx="625.80" cy="376.01" r="2.0" fill="#fff" stroke="#2a2ab0" stroke-width="0.9"/>
<circle cx="630.90" cy="376.01" r="2.0" fill="#fff" stroke="#a81010" stroke-width="1.0"/>
<circle cx="652.90" cy="376.01" r="2.0" fill="#fff" stroke="#2a2ab0" stroke-width="0.9"/>
<circle cx="661.20" cy="376.01" r="1.9" fill="#fff" stroke="#777" stroke-width="0.5"/>
<circle cx="668.50" cy="376.01" r="2.0" fill="#fff" stroke="#2a2ab0" stroke-width="0.9"/>
<circle cx="673.50" cy="376.01" r="1.9" fill="#fff" stroke="#777" stroke-width="0.5"/>
<circle cx="515.90" cy="376.01" r="2.9" fill="url(#gO)"/>
<circle cx="566.40" cy="376.01" r="2.5" fill="url(#gO)"/>
<circle cx="564.40" cy="376.01" r="1.3" fill="#fff"/>
<circle cx="599.30" cy="376.01" r="2.9" fill="url(#gO)"/>
<circle cx="649.80" cy="376.01" r="2.5" fill="url(#gO)"/>
<circle cx="647.80" cy="376.01" r="1.3" fill="#fff"/>
<circle cx="682.70" cy="376.01" r="2.9" fill="url(#gO)"/>
<rect x="514.40" y="385.94" width="165.10" height="5.2" fill="#7c7c7c"/>
<rect x="514.40" y="387.34" width="165.10" height="1.4" fill="#a4a4a4"/>
<circle cx="510.60" cy="388.54" r="2.6" fill="url(#gD)"/>
<circle cx="531.40" cy="388.54" r="2.6" fill="url(#gD)"/>
<circle cx="539.50" cy="388.54" r="2.6" fill="url(#gD)"/>
<circle cx="551.40" cy="388.54" r="2.6" fill="url(#gD)"/>
<circle cx="554.50" cy="388.54" r="2.6" fill="url(#gD)"/>
<circle cx="557.60" cy="388.54" r="2.6" fill="url(#gD)"/>
<circle cx="560.70" cy="388.54" r="2.6" fill="url(#gD)"/>
<circle cx="573.70" cy="388.54" r="2.6" fill="url(#gD)"/>
<circle cx="580.90" cy="388.54" r="2.6" fill="url(#gD)"/>
<circle cx="594.00" cy="388.54" r="2.6" fill="url(#gD)"/>
<circle cx="614.80" cy="388.54" r="2.6" fill="url(#gD)"/>
<circle cx="622.90" cy="388.54" r="2.6" fill="url(#gD)"/>
<circle cx="634.80" cy="388.54" r="2.6" fill="url(#gD)"/>
<circle cx="637.90" cy="388.54" r="2.6" fill="url(#gD)"/>
<circle cx="641.00" cy="388.54" r="2.6" fill="url(#gD)"/>
<circle cx="644.10" cy="388.54" r="2.6" fill="url(#gD)"/>
<circle cx="657.10" cy="388.54" r="2.6" fill="url(#gD)"/>
<circle cx="664.30" cy="388.54" r="2.6" fill="url(#gD)"/>
<circle cx="677.40" cy="388.54" r="2.6" fill="url(#gD)"/>
<circle cx="521.80" cy="388.54" r="2.0" fill="#fff" stroke="#a81010" stroke-width="1.0"/>
<circle cx="525.70" cy="388.54" r="2.3" fill="#2233ee"/>
<circle cx="528.10" cy="388.54" r="1.9" fill="#fff" stroke="#777" stroke-width="0.5"/>
<circle cx="535.90" cy="388.54" r="1.9" fill="#fff" stroke="#777" stroke-width="0.5"/>
<circle cx="542.40" cy="388.54" r="2.0" fill="#fff" stroke="#2a2ab0" stroke-width="0.9"/>
<circle cx="547.50" cy="388.54" r="2.0" fill="#fff" stroke="#a81010" stroke-width="1.0"/>
<circle cx="569.50" cy="388.54" r="2.0" fill="#fff" stroke="#2a2ab0" stroke-width="0.9"/>
<circle cx="577.80" cy="388.54" r="1.9" fill="#fff" stroke="#777" stroke-width="0.5"/>
<circle cx="585.10" cy="388.54" r="2.0" fill="#fff" stroke="#2a2ab0" stroke-width="0.9"/>
<circle cx="590.10" cy="388.54" r="1.9" fill="#fff" stroke="#777" stroke-width="0.5"/>
<circle cx="605.20" cy="388.54" r="2.0" fill="#fff" stroke="#a81010" stroke-width="1.0"/>
<circle cx="609.10" cy="388.54" r="2.3" fill="#2233ee"/>
<circle cx="611.50" cy="388.54" r="1.9" fill="#fff" stroke="#777" stroke-width="0.5"/>
<circle cx="619.30" cy="388.54" r="1.9" fill="#fff" stroke="#777" stroke-width="0.5"/>
<circle cx="625.80" cy="388.54" r="2.0" fill="#fff" stroke="#2a2ab0" stroke-width="0.9"/>
<circle cx="630.90" cy="388.54" r="2.0" fill="#fff" stroke="#a81010" stroke-width="1.0"/>
<circle cx="652.90" cy="388.54" r="2.0" fill="#fff" stroke="#2a2ab0" stroke-width="0.9"/>
<circle cx="661.20" cy="388.54" r="1.9" fill="#fff" stroke="#777" stroke-width="0.5"/>
<circle cx="668.50" cy="388.54" r="2.0" fill="#fff" stroke="#2a2ab0" stroke-width="0.9"/>
<circle cx="673.50" cy="388.54" r="1.9" fill="#fff" stroke="#777" stroke-width="0.5"/>
<circle cx="515.90" cy="388.54" r="2.9" fill="url(#gO)"/>
<circle cx="566.40" cy="388.54" r="2.5" fill="url(#gO)"/>
<circle cx="564.40" cy="388.54" r="1.3" fill="#fff"/>
<circle cx="599.30" cy="388.54" r="2.9" fill="url(#gO)"/>
<circle cx="649.80" cy="388.54" r="2.5" fill="url(#gO)"/>
<circle cx="647.80" cy="388.54" r="1.3" fill="#fff"/>
<circle cx="682.70" cy="388.54" r="2.9" fill="url(#gO)"/>
<rect x="514.40" y="398.47" width="165.10" height="5.2" fill="#7c7c7c"/>
<rect x="514.40" y="399.87" width="165.10" height="1.4" fill="#a4a4a4"/>
<circle cx="510.60" cy="401.07" r="2.6" fill="url(#gD)"/>
<circle cx="531.40" cy="401.07" r="2.6" fill="url(#gD)"/>
<circle cx="539.50" cy="401.07" r="2.6" fill="url(#gD)"/>
<circle cx="551.40" cy="401.07" r="2.6" fill="url(#gD)"/>
<circle cx="554.50" cy="401.07" r="2.6" fill="url(#gD)"/>
<circle cx="557.60" cy="401.07" r="2.6" fill="url(#gD)"/>
<circle cx="560.70" cy="401.07" r="2.6" fill="url(#gD)"/>
<circle cx="573.70" cy="401.07" r="2.6" fill="url(#gD)"/>
<circle cx="580.90" cy="401.07" r="2.6" fill="url(#gD)"/>
<circle cx="594.00" cy="401.07" r="2.6" fill="url(#gD)"/>
<circle cx="614.80" cy="401.07" r="2.6" fill="url(#gD)"/>
<circle cx="622.90" cy="401.07" r="2.6" fill="url(#gD)"/>
<circle cx="634.80" cy="401.07" r="2.6" fill="url(#gD)"/>
<circle cx="637.90" cy="401.07" r="2.6" fill="url(#gD)"/>
<circle cx="641.00" cy="401.07" r="2.6" fill="url(#gD)"/>
<circle cx="644.10" cy="401.07" r="2.6" fill="url(#gD)"/>
<circle cx="657.10" cy="401.07" r="2.6" fill="url(#gD)"/>
<circle cx="664.30" cy="401.07" r="2.6" fill="url(#gD)"/>
<circle cx="677.40" cy="401.07" r="2.6" fill="url(#gD)"/>
<circle cx="521.80" cy="401.07" r="2.0" fill="#fff" stroke="#a81010" stroke-width="1.0"/>
<circle cx="525.70" cy="401.07" r="2.3" fill="#2233ee"/>
<circle cx="528.10" cy="401.07" r="1.9" fill="#fff" stroke="#777" stroke-width="0.5"/>
<circle cx="535.90" cy="401.07" r="1.9" fill="#fff" stroke="#777" stroke-width="0.5"/>
<circle cx="542.40" cy="401.07" r="2.0" fill="#fff" stroke="#2a2ab0" stroke-width="0.9"/>
<circle cx="547.50" cy="401.07" r="2.0" fill="#fff" stroke="#a81010" stroke-width="1.0"/>
<circle cx="569.50" cy="401.07" r="2.0" fill="#fff" stroke="#2a2ab0" stroke-width="0.9"/>
<circle cx="577.80" cy="401.07" r="1.9" fill="#fff" stroke="#777" stroke-width="0.5"/>
<circle cx="585.10" cy="401.07" r="2.0" fill="#fff" stroke="#2a2ab0" stroke-width="0.9"/>
<circle cx="590.10" cy="401.07" r="1.9" fill="#fff" stroke="#777" stroke-width="0.5"/>
<circle cx="605.20" cy="401.07" r="2.0" fill="#fff" stroke="#a81010" stroke-width="1.0"/>
<circle cx="609.10" cy="401.07" r="2.3" fill="#2233ee"/>
<circle cx="611.50" cy="401.07" r="1.9" fill="#fff" stroke="#777" stroke-width="0.5"/>
<circle cx="619.30" cy="401.07" r="1.9" fill="#fff" stroke="#777" stroke-width="0.5"/>
<circle cx="625.80" cy="401.07" r="2.0" fill="#fff" stroke="#2a2ab0" stroke-width="0.9"/>
<circle cx="630.90" cy="401.07" r="2.0" fill="#fff" stroke="#a81010" stroke-width="1.0"/>
<circle cx="652.90" cy="401.07" r="2.0" fill="#fff" stroke="#2a2ab0" stroke-width="0.9"/>
<circle cx="661.20" cy="401.07" r="1.9" fill="#fff" stroke="#777" stroke-width="0.5"/>
<circle cx="668.50" cy="401.07" r="2.0" fill="#fff" stroke="#2a2ab0" stroke-width="0.9"/>
<circle cx="673.50" cy="401.07" r="1.9" fill="#fff" stroke="#777" stroke-width="0.5"/>
<circle cx="515.90" cy="401.07" r="2.9" fill="url(#gO)"/>
<circle cx="566.40" cy="401.07" r="2.5" fill="url(#gO)"/>
<circle cx="564.40" cy="401.07" r="1.3" fill="#fff"/>
<circle cx="599.30" cy="401.07" r="2.9" fill="url(#gO)"/>
<circle cx="649.80" cy="401.07" r="2.5" fill="url(#gO)"/>
<circle cx="647.80" cy="401.07" r="1.3" fill="#fff"/>
<circle cx="682.70" cy="401.07" r="2.9" fill="url(#gO)"/>
</g>
<rect x="332.4" y="282.3" width="167.3" height="125" fill="none" stroke="#111" stroke-width="1.4"/>
<rect x="514.4" y="282.3" width="165.1" height="125" fill="none" stroke="#111" stroke-width="1.4"/>
<line x1="557.50" y1="282.60" x2="557.50" y2="294.00" stroke="#8a8a8a" stroke-width="2"/>
<circle cx="557.50" cy="288.30" r="2.4" fill="url(#gC)"/>
<circle cx="557.50" cy="282.60" r="2.85" fill="url(#gO2)"/>
<circle cx="557.50" cy="294.00" r="2.85" fill="url(#gO2)"/>
<line x1="582.50" y1="282.60" x2="581.70" y2="293.30" stroke="#8a8a8a" stroke-width="2"/>
<circle cx="582.10" cy="287.95" r="2.4" fill="url(#gC)"/>
<circle cx="582.50" cy="282.60" r="2.85" fill="url(#gO2)"/>
<circle cx="581.70" cy="293.30" r="2.85" fill="url(#gO2)"/>
<line x1="579.60" y1="297.00" x2="577.40" y2="309.00" stroke="#8a8a8a" stroke-width="2"/>
<circle cx="578.50" cy="303.00" r="2.4" fill="url(#gC)"/>
<circle cx="579.60" cy="297.00" r="2.85" fill="url(#gO2)"/>
<circle cx="577.40" cy="309.00" r="2.85" fill="url(#gO2)"/>
<line x1="557.50" y1="307.30" x2="555.80" y2="318.80" stroke="#8a8a8a" stroke-width="2"/>
<circle cx="556.65" cy="313.05" r="2.4" fill="url(#gC)"/>
<circle cx="557.50" cy="307.30" r="2.85" fill="url(#gO2)"/>
<circle cx="555.80" cy="318.80" r="2.85" fill="url(#gO2)"/>
<line x1="529.80" y1="319.50" x2="528.50" y2="330.60" stroke="#8a8a8a" stroke-width="2"/>
<circle cx="529.15" cy="325.05" r="2.4" fill="url(#gC)"/>
<circle cx="529.80" cy="319.50" r="2.85" fill="url(#gO2)"/>
<circle cx="528.50" cy="330.60" r="2.85" fill="url(#gO2)"/>
<line x1="572.80" y1="321.20" x2="572.30" y2="333.30" stroke="#8a8a8a" stroke-width="2"/>
<circle cx="572.55" cy="327.25" r="2.4" fill="url(#gC)"/>
<circle cx="572.80" cy="321.20" r="2.85" fill="url(#gO2)"/>
<circle cx="572.30" cy="333.30" r="2.85" fill="url(#gO2)"/>
<line x1="581.70" y1="331.00" x2="583.00" y2="343.00" stroke="#8a8a8a" stroke-width="2"/>
<circle cx="582.35" cy="337.00" r="2.4" fill="url(#gC)"/>
<circle cx="581.70" cy="331.00" r="2.85" fill="url(#gO2)"/>
<circle cx="583.00" cy="343.00" r="2.85" fill="url(#gO2)"/>
<line x1="556.70" y1="357.80" x2="557.90" y2="368.90" stroke="#8a8a8a" stroke-width="2"/>
<circle cx="557.30" cy="363.35" r="2.4" fill="url(#gC)"/>
<circle cx="556.70" cy="357.80" r="2.85" fill="url(#gO2)"/>
<circle cx="557.90" cy="368.90" r="2.85" fill="url(#gO2)"/>
<line x1="518.00" y1="358.30" x2="517.40" y2="369.70" stroke="#8a8a8a" stroke-width="2"/>
<circle cx="517.70" cy="364.00" r="2.4" fill="url(#gC)"/>
<circle cx="518.00" cy="358.30" r="2.85" fill="url(#gO2)"/>
<circle cx="517.40" cy="369.70" r="2.85" fill="url(#gO2)"/>
<line x1="594.90" y1="357.80" x2="595.20" y2="369.20" stroke="#8a8a8a" stroke-width="2"/>
<circle cx="595.05" cy="363.50" r="2.4" fill="url(#gC)"/>
<circle cx="594.90" cy="357.80" r="2.85" fill="url(#gO2)"/>
<circle cx="595.20" cy="369.20" r="2.85" fill="url(#gO2)"/>
<line x1="530.70" y1="369.20" x2="531.50" y2="380.40" stroke="#8a8a8a" stroke-width="2"/>
<circle cx="531.10" cy="374.80" r="2.4" fill="url(#gC)"/>
<circle cx="530.70" cy="369.20" r="2.85" fill="url(#gO2)"/>
<circle cx="531.50" cy="380.40" r="2.85" fill="url(#gO2)"/>
<line x1="533.20" y1="370.90" x2="533.70" y2="382.10" stroke="#8a8a8a" stroke-width="2"/>
<circle cx="533.45" cy="376.50" r="2.4" fill="url(#gC)"/>
<circle cx="533.20" cy="370.90" r="2.85" fill="url(#gO2)"/>
<circle cx="533.70" cy="382.10" r="2.85" fill="url(#gO2)"/>
<line x1="539.70" y1="381.30" x2="540.50" y2="392.70" stroke="#8a8a8a" stroke-width="2"/>
<circle cx="540.10" cy="387.00" r="2.4" fill="url(#gC)"/>
<circle cx="539.70" cy="381.30" r="2.85" fill="url(#gO2)"/>
<circle cx="540.50" cy="392.70" r="2.85" fill="url(#gO2)"/>
<line x1="555.80" y1="395.20" x2="555.80" y2="406.60" stroke="#8a8a8a" stroke-width="2"/>
<circle cx="555.80" cy="400.90" r="2.4" fill="url(#gC)"/>
<circle cx="555.80" cy="395.20" r="2.85" fill="url(#gO2)"/>
<circle cx="555.80" cy="406.60" r="2.85" fill="url(#gO2)"/>
<line x1="654.80" y1="296.20" x2="654.50" y2="307.30" stroke="#8a8a8a" stroke-width="2"/>
<circle cx="654.65" cy="301.75" r="2.4" fill="url(#gC)"/>
<circle cx="654.80" cy="296.20" r="2.85" fill="url(#gO2)"/>
<circle cx="654.50" cy="307.30" r="2.85" fill="url(#gO2)"/>
<line x1="623.50" y1="307.30" x2="623.00" y2="318.80" stroke="#8a8a8a" stroke-width="2"/>
<circle cx="623.25" cy="313.05" r="2.4" fill="url(#gC)"/>
<circle cx="623.50" cy="307.30" r="2.85" fill="url(#gO2)"/>
<circle cx="623.00" cy="318.80" r="2.85" fill="url(#gO2)"/>
<line x1="635.80" y1="307.30" x2="636.30" y2="318.80" stroke="#8a8a8a" stroke-width="2"/>
<circle cx="636.05" cy="313.05" r="2.4" fill="url(#gC)"/>
<circle cx="635.80" cy="307.30" r="2.85" fill="url(#gO2)"/>
<circle cx="636.30" cy="318.80" r="2.85" fill="url(#gO2)"/>
<line x1="663.00" y1="307.80" x2="663.00" y2="319.20" stroke="#8a8a8a" stroke-width="2"/>
<circle cx="663.00" cy="313.50" r="2.4" fill="url(#gC)"/>
<circle cx="663.00" cy="307.80" r="2.85" fill="url(#gO2)"/>
<circle cx="663.00" cy="319.20" r="2.85" fill="url(#gO2)"/>
<line x1="680.00" y1="306.10" x2="678.60" y2="316.60" stroke="#8a8a8a" stroke-width="2"/>
<circle cx="679.30" cy="311.35" r="2.4" fill="url(#gC)"/>
<circle cx="680.00" cy="306.10" r="2.85" fill="url(#gO2)"/>
<circle cx="678.60" cy="316.60" r="2.85" fill="url(#gO2)"/>
<line x1="616.20" y1="320.50" x2="614.60" y2="331.50" stroke="#8a8a8a" stroke-width="2"/>
<circle cx="615.40" cy="326.00" r="2.4" fill="url(#gC)"/>
<circle cx="616.20" cy="320.50" r="2.85" fill="url(#gO2)"/>
<circle cx="614.60" cy="331.50" r="2.85" fill="url(#gO2)"/>
<line x1="617.10" y1="331.00" x2="614.50" y2="343.40" stroke="#8a8a8a" stroke-width="2"/>
<circle cx="615.80" cy="337.20" r="2.4" fill="url(#gC)"/>
<circle cx="617.10" cy="331.00" r="2.85" fill="url(#gO2)"/>
<circle cx="614.50" cy="343.40" r="2.85" fill="url(#gO2)"/>
<line x1="629.80" y1="343.40" x2="629.80" y2="355.30" stroke="#8a8a8a" stroke-width="2"/>
<circle cx="629.80" cy="349.35" r="2.4" fill="url(#gC)"/>
<circle cx="629.80" cy="343.40" r="2.85" fill="url(#gO2)"/>
<circle cx="629.80" cy="355.30" r="2.85" fill="url(#gO2)"/>
<line x1="612.00" y1="357.80" x2="612.00" y2="368.90" stroke="#8a8a8a" stroke-width="2"/>
<circle cx="612.00" cy="363.35" r="2.4" fill="url(#gC)"/>
<circle cx="612.00" cy="357.80" r="2.85" fill="url(#gO2)"/>
<circle cx="612.00" cy="368.90" r="2.85" fill="url(#gO2)"/>
<line x1="616.20" y1="357.00" x2="617.10" y2="368.00" stroke="#8a8a8a" stroke-width="2"/>
<circle cx="616.65" cy="362.50" r="2.4" fill="url(#gC)"/>
<circle cx="616.20" cy="357.00" r="2.85" fill="url(#gO2)"/>
<circle cx="617.10" cy="368.00" r="2.85" fill="url(#gO2)"/>
<line x1="640.00" y1="357.80" x2="638.30" y2="368.90" stroke="#8a8a8a" stroke-width="2"/>
<circle cx="639.15" cy="363.35" r="2.4" fill="url(#gC)"/>
<circle cx="640.00" cy="357.80" r="2.85" fill="url(#gO2)"/>
<circle cx="638.30" cy="368.90" r="2.85" fill="url(#gO2)"/>
<line x1="654.80" y1="356.10" x2="655.30" y2="367.20" stroke="#8a8a8a" stroke-width="2"/>
<circle cx="655.05" cy="361.65" r="2.4" fill="url(#gC)"/>
<circle cx="654.80" cy="356.10" r="2.85" fill="url(#gO2)"/>
<circle cx="655.30" cy="367.20" r="2.85" fill="url(#gO2)"/>
<line x1="655.30" y1="370.60" x2="654.80" y2="380.80" stroke="#8a8a8a" stroke-width="2"/>
<circle cx="655.05" cy="375.70" r="2.4" fill="url(#gC)"/>
<circle cx="655.30" cy="370.60" r="2.85" fill="url(#gO2)"/>
<circle cx="654.80" cy="380.80" r="2.85" fill="url(#gO2)"/>
<line x1="664.30" y1="371.40" x2="663.30" y2="383.30" stroke="#8a8a8a" stroke-width="2"/>
<circle cx="663.80" cy="377.35" r="2.4" fill="url(#gC)"/>
<circle cx="664.30" cy="371.40" r="2.85" fill="url(#gO2)"/>
<circle cx="663.30" cy="383.30" r="2.85" fill="url(#gO2)"/>
<line x1="643.10" y1="381.60" x2="643.10" y2="393.00" stroke="#8a8a8a" stroke-width="2"/>
<circle cx="643.10" cy="387.30" r="2.4" fill="url(#gC)"/>
<circle cx="643.10" cy="381.60" r="2.85" fill="url(#gO2)"/>
<circle cx="643.10" cy="393.00" r="2.85" fill="url(#gO2)"/>
<line x1="655.30" y1="394.70" x2="655.80" y2="406.30" stroke="#8a8a8a" stroke-width="2"/>
<circle cx="655.55" cy="400.50" r="2.4" fill="url(#gC)"/>
<circle cx="655.30" cy="394.70" r="2.85" fill="url(#gO2)"/>
<circle cx="655.80" cy="406.30" r="2.85" fill="url(#gO2)"/>
<circle cx="609.40" cy="282.10" r="2.85" fill="url(#gO2)"/>
<circle cx="533.20" cy="392.30" r="2.85" fill="url(#gO2)"/>
<circle cx="608.30" cy="395.70" r="2.85" fill="url(#gO2)"/>
</svg>
</body></html>
